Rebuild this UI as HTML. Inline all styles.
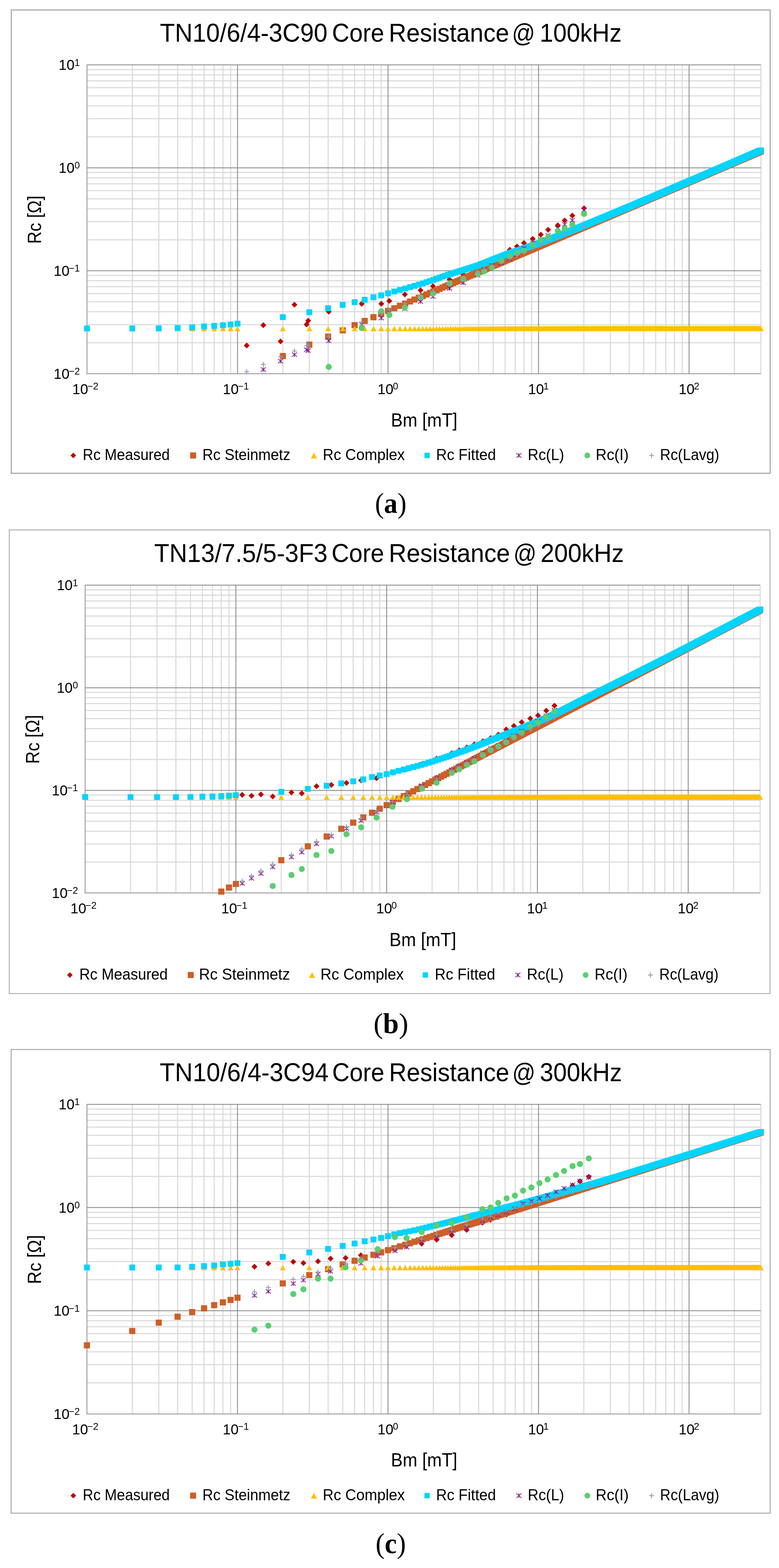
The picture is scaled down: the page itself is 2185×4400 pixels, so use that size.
<!DOCTYPE html><html><head><meta charset="utf-8"><style>html,body{margin:0;padding:0;background:#fff}svg{display:block}</style></head><body><svg width="2185" height="4400" viewBox="0 0 2185 4400" font-family='"Liberation Sans", Arial, sans-serif'>
<rect width="2185" height="4400" fill="#fff"/>
<rect x="31.7" y="28" width="2128.5" height="1300" fill="#fff" stroke="#8a8a8a" stroke-width="2.2"/>
<path d="M371.1 182V1048.8M445.4 182V1048.8M498.2 182V1048.8M539.1 182V1048.8M572.5 182V1048.8M600.8 182V1048.8M625.3 182V1048.8M646.9 182V1048.8M793.3 182V1048.8M867.6 182V1048.8M920.4 182V1048.8M961.3 182V1048.8M994.7 182V1048.8M1023 182V1048.8M1047.5 182V1048.8M1069.1 182V1048.8M1215.5 182V1048.8M1289.8 182V1048.8M1342.6 182V1048.8M1383.5 182V1048.8M1416.9 182V1048.8M1445.2 182V1048.8M1469.7 182V1048.8M1491.3 182V1048.8M1637.7 182V1048.8M1712 182V1048.8M1764.8 182V1048.8M1805.7 182V1048.8M1839.1 182V1048.8M1867.4 182V1048.8M1891.9 182V1048.8M1913.5 182V1048.8M2059.9 182V1048.8M2134.2 182V1048.8M244 961.8H2134.2M244 910.9H2134.2M244 874.8H2134.2M244 846.8H2134.2M244 823.9H2134.2M244 804.6H2134.2M244 787.8H2134.2M244 773.1H2134.2M244 672.9H2134.2M244 622H2134.2M244 585.9H2134.2M244 557.9H2134.2M244 535H2134.2M244 515.7H2134.2M244 498.9H2134.2M244 484.1H2134.2M244 383.9H2134.2M244 333.1H2134.2M244 297H2134.2M244 269H2134.2M244 246.1H2134.2M244 226.8H2134.2M244 210H2134.2M244 195.2H2134.2" stroke="#dadada" stroke-width="3" fill="none"/>
<path d="M666.2 182V1048.8M1088.4 182V1048.8M1510.6 182V1048.8M1932.8 182V1048.8M244 759.8H2134.2M244 470.9H2134.2M244 182H2134.2" stroke="#8f8f8f" stroke-width="2.5" fill="none"/>
<path d="M244 181V1048.8H2134.2" stroke="#9a9a9a" stroke-width="2.5" fill="none"/>
<text x="448.4" y="117.2" font-size="72" textLength="470.1" lengthAdjust="spacingAndGlyphs">TN10/6/4-3C90</text>
<text x="931.3" y="117.2" font-size="72" textLength="146.1" lengthAdjust="spacingAndGlyphs">Core</text>
<text x="1090.6" y="117.2" font-size="72" textLength="337.4" lengthAdjust="spacingAndGlyphs">Resistance</text>
<text x="1436.0" y="117.2" font-size="72" textLength="64.9" lengthAdjust="spacingAndGlyphs">@</text>
<text x="1514.1" y="117.2" font-size="72" textLength="229.5" lengthAdjust="spacingAndGlyphs">100kHz</text>
<text x="224" y="184.5" font-size="27" text-anchor="end">1</text>
<text x="209" y="196.2" font-size="40" text-anchor="end">10</text>
<text x="224" y="473.4" font-size="27" text-anchor="end">0</text>
<text x="209" y="485.1" font-size="40" text-anchor="end">10</text>
<text x="224" y="762.3" font-size="27" text-anchor="end">−1</text>
<text x="195" y="774" font-size="40" text-anchor="end">10</text>
<text x="224" y="1051.2" font-size="27" text-anchor="end">−2</text>
<text x="195" y="1063" font-size="40" text-anchor="end">10</text>
<text x="202.7" y="1106" font-size="40">10</text>
<text x="245.3" y="1093.2" font-size="27">−2</text>
<text x="624.9" y="1106" font-size="40">10</text>
<text x="667.5" y="1093.2" font-size="27">−1</text>
<text x="1059.1" y="1106" font-size="40">10</text>
<text x="1102" y="1093.2" font-size="27">0</text>
<text x="1481.3" y="1106" font-size="40">10</text>
<text x="1524.2" y="1093.2" font-size="27">1</text>
<text x="1903.5" y="1106" font-size="40">10</text>
<text x="1946.4" y="1093.2" font-size="27">2</text>
<text transform="translate(114.7 684.3) rotate(-90)" font-size="53" textLength="135.4" lengthAdjust="spacingAndGlyphs">Rc [Ω]</text>
<text x="1096.6" y="1196.8" font-size="53" textLength="186.5" lengthAdjust="spacingAndGlyphs">Bm [mT]</text>
<text x="232" y="1290.6" font-size="44" textLength="244.2" lengthAdjust="spacingAndGlyphs">Rc Measured</text>
<text x="567.8" y="1290.6" font-size="44" textLength="246.7" lengthAdjust="spacingAndGlyphs">Rc Steinmetz</text>
<text x="905.2" y="1290.6" font-size="44" textLength="230.3" lengthAdjust="spacingAndGlyphs">Rc Complex</text>
<text x="1223.2" y="1290.6" font-size="44" textLength="167.8" lengthAdjust="spacingAndGlyphs">Rc Fitted</text>
<text x="1480.2" y="1290.6" font-size="44" textLength="102.3" lengthAdjust="spacingAndGlyphs">Rc(L)</text>
<text x="1670.7" y="1290.6" font-size="44" textLength="92.8" lengthAdjust="spacingAndGlyphs">Rc(I)</text>
<text x="1851.3" y="1290.6" font-size="44" textLength="166.2" lengthAdjust="spacingAndGlyphs">Rc(Lavg)</text>
<text x="1051.7" y="1439" font-family='"Liberation Serif", "Times New Roman", serif' font-weight="bold" font-size="81" textLength="88.5" lengthAdjust="spacingAndGlyphs"><tspan font-weight="normal">(</tspan>a<tspan font-weight="normal">)</tspan></text>
<path d="M1299.5 761.6L1291.3 769.8L1299.5 778L1307.7 769.8ZM1252.8 784.5L1261 792.7L1269.2 784.5L1261 776.3ZM1206.3 803.3L1214.5 811.5L1222.7 803.3L1214.5 795.1ZM1171.3 814.5L1179.5 822.7L1187.7 814.5L1179.5 806.3ZM1127.3 826.3L1135.5 834.5L1143.7 826.3L1135.5 818.1ZM1083.8 844.5L1092 852.7L1100.2 844.5L1092 836.3ZM1006.3 852.5L1014.5 860.7L1022.7 852.5L1014.5 844.3ZM1069.5 844.3L1061.3 852.5L1069.5 860.7L1077.7 852.5ZM817.7 855L825.9 863.2L834.1 855L825.9 846.8ZM914 874.5L922.2 882.7L930.4 874.5L922.2 866.3ZM851.8 910.6L860 918.8L868.2 910.6L865.1 907.5L872.6 900L864.4 891.8L856.2 900L859.3 903.1ZM730.4 912.5L738.6 920.7L746.8 912.5L738.6 904.3ZM778.8 958L787 966.2L795.2 958L787 949.8ZM692 961.3L683.8 969.5L692 977.7L700.2 969.5ZM1630 584.4L1638.2 592.6L1646.4 584.4L1638.2 576.2ZM1597.1 605L1605.3 613.2L1613.5 605L1605.3 596.8ZM1575.7 618.8L1583.9 627L1592.1 618.8L1583.9 610.6ZM1556.4 632.3L1564.6 640.5L1572.8 632.3L1564.6 624.1ZM1529.2 644.8L1537.4 653L1545.6 644.8L1537.4 636.6ZM1508.8 658.4L1517 666.6L1525.2 658.4L1517 650.2ZM1486 670.3L1494.2 678.5L1502.4 670.3L1494.2 662.1ZM1461.4 682L1469.6 690.2L1477.8 682L1469.6 673.8ZM1441.9 691.6L1450.1 699.8L1458.3 691.6L1450.1 683.4ZM1421.7 700.8L1429.9 709L1438.1 700.8L1429.9 692.6ZM1397.7 719L1405.9 727.2L1414.1 719L1405.9 710.8ZM1371.6 730L1379.8 738.2L1388 730L1379.8 721.8ZM1350 738L1358.2 746.2L1366.4 738L1358.2 729.8ZM1332 745L1340.2 753.2L1348.4 745L1340.2 736.8Z" fill="#C00000"/>
<path d="M1592.7 643.8L1592.7 644.3L1591.6 644.3L1591.6 644.8L1590.5 644.8L1590.5 645.3L1589.3 645.3L1589.3 645.8L1588.2 645.8L1588.2 646.3L1587 646.3L1587 646.8L1585.9 646.8L1585.9 647.3L1584.7 647.3L1584.7 647.8L1583.5 647.8L1583.5 648.3L1582.4 648.3L1582.4 648.8L1581.2 648.8L1581.2 649.3L1580 649.3L1580 649.8L1578.8 649.8L1578.8 650.3L1577.6 650.3L1577.6 650.9L1576.3 650.9L1576.3 651.4L1575.1 651.4L1575.1 651.9L1573.9 651.9L1573.9 652.5L1572.6 652.5L1572.6 653L1571.4 653L1571.4 653.5L1570.1 653.5L1570.1 654.1L1568.9 654.1L1568.9 654.6L1567.6 654.6L1567.6 655.2L1566.3 655.2L1566.3 655.7L1565 655.7L1565 656.3L1563.7 656.3L1563.7 656.9L1562.4 656.9L1562.4 657.4L1561.1 657.4L1561.1 658L1559.7 658L1559.7 658.6L1558.4 658.6L1558.4 659.2L1557 659.2L1557 659.7L1555.7 659.7L1555.7 660.3L1554.3 660.3L1554.3 660.9L1552.9 660.9L1552.9 661.5L1551.5 661.5L1551.5 662.1L1550.1 662.1L1550.1 662.7L1548.7 662.7L1548.7 663.3L1547.3 663.3L1547.3 664L1545.8 664L1545.8 664.6L1544.4 664.6L1544.4 665.2L1542.9 665.2L1542.9 665.8L1541.4 665.8L1541.4 666.5L1540 666.5L1540 667.1L1538.5 667.1L1538.5 667.8L1537 667.8L1537 668.4L1535.4 668.4L1535.4 669.1L1533.9 669.1L1533.9 669.7L1532.3 669.7L1532.3 670.4L1530.8 670.4L1530.8 671.1L1529.2 671.1L1529.2 671.8L1527.6 671.8L1527.6 672.5L1526 672.5L1526 673.1L1524.4 673.1L1524.4 673.8L1522.8 673.8L1522.8 674.5L1521.1 674.5L1521.1 675.3L1519.5 675.3L1519.5 676L1517.8 676L1517.8 676.7L1516.1 676.7L1516.1 677.4L1514.4 677.4L1514.4 678.2L1512.7 678.2L1512.7 678.9L1510.9 678.9L1510.9 679.7L1509.2 679.7L1509.2 680.4L1507.4 680.4L1507.4 681.2L1505.6 681.2L1505.6 682L1503.8 682L1503.8 682.8L1502 682.8L1502 683.6L1500.2 683.6L1500.2 684.3L1498.3 684.3L1498.3 685.2L1496.4 685.2L1496.4 686L1494.5 686L1494.5 686.8L1492.6 686.8L1492.6 687.6L1490.7 687.6L1490.7 688.5L1488.7 688.5L1488.7 689.3L1486.7 689.3L1486.7 690.2L1484.7 690.2L1484.7 691L1482.7 691L1482.7 691.9L1480.6 691.9L1480.6 692.8L1478.6 692.8L1478.6 693.7L1476.5 693.7L1476.5 694.6L1474.3 694.6L1474.3 695.5L1472.2 695.5L1472.2 696.5L1470 696.5L1470 697.4L1467.8 697.4L1467.8 698.4L1465.6 698.4L1465.6 699.3L1463.4 699.3L1463.4 700.3L1461.1 700.3L1461.1 701.3L1458.8 701.3L1458.8 702.3L1456.4 702.3L1456.4 703.3L1454.1 703.3L1454.1 704.4L1451.7 704.4L1451.7 705.4L1449.3 705.4L1449.3 706.4L1446.8 706.4L1446.8 707.5L1444.3 707.5L1444.3 708.6L1441.8 708.6L1441.8 709.7L1439.2 709.7L1439.2 710.8L1436.6 710.8L1436.6 712L1434 712L1434 713.1L1431.3 713.1L1431.3 714.3L1428.6 714.3L1428.6 715.4L1425.8 715.4L1425.8 716.7L1423 716.7L1423 717.9L1420.2 717.9L1420.2 719.1L1417.3 719.1L1417.3 720.4L1414.3 720.4L1414.3 721.6L1411.4 721.6L1411.4 722.9L1408.3 722.9L1408.3 724.3L1405.3 724.3L1405.3 725.6L1402.1 725.6L1402.1 727L1398.9 727L1398.9 728.4L1395.7 728.4L1395.7 729.8L1392.4 729.8L1392.4 731.2L1389 731.2L1389 732.7L1385.6 732.7L1385.6 734.2L1382.1 734.2L1382.1 735.7L1378.5 735.7L1378.5 737.3L1374.9 737.3L1374.9 738.9L1371.2 738.9L1371.2 740.5L1367.4 740.5L1367.4 742.2L1363.6 742.2L1363.6 743.9L1359.6 743.9L1359.6 745.6L1355.6 745.6L1355.6 747.3L1351.5 747.3L1351.5 749.2L1347.3 749.2L1347.3 751L1342.9 751L1342.9 752.9L1338.5 752.9L1338.5 754.8L1334 754.8L1334 756.8L1329.3 756.8L1329.3 758.9L1324.6 758.9L1324.6 761L1319.7 761L1319.7 763.1L1314.7 763.1L1314.7 765.4L1309.5 765.4L1309.5 767.6L1304.2 767.6L1304.2 770L1298.7 770L1298.7 772.4L1293.1 772.4L1293.1 774.9L1287.3 774.9L1287.3 777.5L1281.2 777.5L1281.2 780.1L1275 780.1L1275 782.9L1268.6 782.9L1268.6 785.8L1261.9 785.8L1261.9 788.7L1255 788.7L1255 791.8L1247.8 791.8L1247.8 795L1240.3 795L1240.3 798.4L1232.5 798.4L1232.5 801.9L1224.4 801.9L1224.4 805.5L1215.8 805.5L1215.8 809.4L1206.9 809.4L1206.9 813.4L1197.5 813.4L1197.5 817.7L1187.6 817.7L1187.6 822.2L1177.1 822.2L1177.1 826.9L1166 826.9L1166 832L1154.1 832L1154.1 837.4L1141.5 837.4L1141.5 843.3L1127.9 843.3L1127.9 849.6L1113.2 849.6L1113.2 856.4L1097.3 856.4L1097.3 873.6L1114.5 873.6L1114.5 866.8L1130.4 866.8L1130.4 860.5L1145.1 860.5L1145.1 854.6L1158.7 854.6L1158.7 849.2L1171.3 849.2L1171.3 844.1L1183.2 844.1L1183.2 839.4L1194.3 839.4L1194.3 834.9L1204.8 834.9L1204.8 830.6L1214.7 830.6L1214.7 826.6L1224.1 826.6L1224.1 822.7L1233 822.7L1233 819.1L1241.6 819.1L1241.6 815.6L1249.7 815.6L1249.7 812.2L1257.5 812.2L1257.5 809L1265 809L1265 805.9L1272.2 805.9L1272.2 803L1279.1 803L1279.1 800.1L1285.8 800.1L1285.8 797.3L1292.2 797.3L1292.2 794.7L1298.4 794.7L1298.4 792.1L1304.5 792.1L1304.5 789.6L1310.3 789.6L1310.3 787.2L1315.9 787.2L1315.9 784.8L1321.4 784.8L1321.4 782.6L1326.7 782.6L1326.7 780.3L1331.9 780.3L1331.9 778.2L1336.9 778.2L1336.9 776.1L1341.8 776.1L1341.8 774L1346.5 774L1346.5 772L1351.2 772L1351.2 770.1L1355.7 770.1L1355.7 768.2L1360.1 768.2L1360.1 766.4L1364.5 766.4L1364.5 764.5L1368.7 764.5L1368.7 762.8L1372.8 762.8L1372.8 761.1L1376.8 761.1L1376.8 759.4L1380.8 759.4L1380.8 757.7L1384.6 757.7L1384.6 756.1L1388.4 756.1L1388.4 754.5L1392.1 754.5L1392.1 752.9L1395.7 752.9L1395.7 751.4L1399.3 751.4L1399.3 749.9L1402.8 749.9L1402.8 748.4L1406.2 748.4L1406.2 747L1409.6 747L1409.6 745.6L1412.9 745.6L1412.9 744.2L1416.1 744.2L1416.1 742.8L1419.3 742.8L1419.3 741.5L1422.5 741.5L1422.5 740.1L1425.5 740.1L1425.5 738.8L1428.6 738.8L1428.6 737.6L1431.5 737.6L1431.5 736.3L1434.5 736.3L1434.5 735.1L1437.4 735.1L1437.4 733.9L1440.2 733.9L1440.2 732.6L1443 732.6L1443 731.5L1445.8 731.5L1445.8 730.3L1448.5 730.3L1448.5 729.2L1451.2 729.2L1451.2 728L1453.8 728L1453.8 726.9L1456.4 726.9L1456.4 725.8L1459 725.8L1459 724.7L1461.5 724.7L1461.5 723.6L1464 723.6L1464 722.6L1466.5 722.6L1466.5 721.6L1468.9 721.6L1468.9 720.5L1471.3 720.5L1471.3 719.5L1473.6 719.5L1473.6 718.5L1476 718.5L1476 717.5L1478.3 717.5L1478.3 716.5L1480.6 716.5L1480.6 715.6L1482.8 715.6L1482.8 714.6L1485 714.6L1485 713.7L1487.2 713.7L1487.2 712.7L1489.4 712.7L1489.4 711.8L1491.5 711.8L1491.5 710.9L1493.7 710.9L1493.7 710L1495.8 710L1495.8 709.1L1497.8 709.1L1497.8 708.2L1499.9 708.2L1499.9 707.4L1501.9 707.4L1501.9 706.5L1503.9 706.5L1503.9 705.7L1505.9 705.7L1505.9 704.8L1507.9 704.8L1507.9 704L1509.8 704L1509.8 703.2L1511.7 703.2L1511.7 702.4L1513.6 702.4L1513.6 701.5L1515.5 701.5L1515.5 700.8L1517.4 700.8L1517.4 700L1519.2 700L1519.2 699.2L1521 699.2L1521 698.4L1522.8 698.4L1522.8 697.6L1524.6 697.6L1524.6 696.9L1526.4 696.9L1526.4 696.1L1528.1 696.1L1528.1 695.4L1529.9 695.4L1529.9 694.6L1531.6 694.6L1531.6 693.9L1533.3 693.9L1533.3 693.2L1535 693.2L1535 692.5L1536.7 692.5L1536.7 691.7L1538.3 691.7L1538.3 691L1540 691L1540 690.3L1541.6 690.3L1541.6 689.7L1543.2 689.7L1543.2 689L1544.8 689L1544.8 688.3L1546.4 688.3L1546.4 687.6L1548 687.6L1548 686.9L1549.5 686.9L1549.5 686.3L1551.1 686.3L1551.1 685.6L1552.6 685.6L1552.6 685L1554.2 685L1554.2 684.3L1555.7 684.3L1555.7 683.7L1557.2 683.7L1557.2 683L1558.6 683L1558.6 682.4L1560.1 682.4L1560.1 681.8L1561.6 681.8L1561.6 681.2L1563 681.2L1563 680.5L1564.5 680.5L1564.5 679.9L1565.9 679.9L1565.9 679.3L1567.3 679.3L1567.3 678.7L1568.7 678.7L1568.7 678.1L1570.1 678.1L1570.1 677.5L1571.5 677.5L1571.5 676.9L1572.9 676.9L1572.9 676.4L1574.2 676.4L1574.2 675.8L1575.6 675.8L1575.6 675.2L1576.9 675.2L1576.9 674.6L1578.3 674.6L1578.3 674.1L1579.6 674.1L1579.6 673.5L1580.9 673.5L1580.9 672.9L1582.2 672.9L1582.2 672.4L1583.5 672.4L1583.5 671.8L1584.8 671.8L1584.8 671.3L1586.1 671.3L1586.1 670.7L1587.3 670.7L1587.3 670.2L1588.6 670.2L1588.6 669.7L1589.8 669.7L1589.8 669.1L1591.1 669.1L1591.1 668.6L1592.3 668.6L1592.3 668.1L1593.5 668.1L1593.5 667.5L1594.8 667.5L1594.8 667L1596 667L1596 666.5L1597.2 666.5L1597.2 666L1598.4 666L1598.4 665.5L1599.6 665.5L1599.6 665L1600.7 665L1600.7 664.5L1601.9 664.5L1601.9 664L1603.1 664L1603.1 663.5L1604.2 663.5L1604.2 663L1605.4 663L1605.4 662.5L1606.5 662.5L1606.5 662L1607.7 662L1607.7 661.5L1608.8 661.5L1608.8 661L1609.9 661L1609.9 660.6L1611 660.6L1611 660.1L1612.1 660.1L1612.1 659.6L1613.2 659.6L1613.2 659.1L1614.3 659.1L1614.3 658.7L1615.4 658.7L1615.4 658.2L1616.5 658.2L1616.5 657.8L1617.6 657.8L1617.6 657.3L1618.6 657.3L1618.6 656.8L1619.7 656.8L1619.7 656.4L1620.8 656.4L1620.8 655.9L1621.8 655.9L1621.8 655.5L1622.9 655.5L1622.9 655L1623.9 655L1623.9 654.6L1624.9 654.6L1624.9 654.2L1626 654.2L1626 653.7L1627 653.7L1627 653.3L1628 653.3L1628 652.8L1629 652.8L1629 652.4L1630 652.4L1630 652L1631 652L1631 651.6L1632 651.6L1632 651.1L1633 651.1L1633 650.7L1634 650.7L1634 650.3L1634.9 650.3L1634.9 649.9L1635.9 649.9L1635.9 649.5L1636.9 649.5L1636.9 649.1L1637.9 649.1L1637.9 648.6L1638.8 648.6L1638.8 648.2L1639.8 648.2L1639.8 647.8L1640.7 647.8L1640.7 647.4L1641.7 647.4L1641.7 647L1642.6 647L1642.6 646.6L1643.5 646.6L1643.5 646.2L1644.5 646.2L1644.5 645.8L1645.4 645.8L1645.4 645.4L1646.3 645.4L1646.3 645L1647.2 645L1647.2 644.6L1648.1 644.6L1648.1 644.3L1649 644.3L1649 643.9L1649.9 643.9L1649.9 643.5L1650.8 643.5L1650.8 643.1L1651.7 643.1L1651.7 642.7L1652.6 642.7L1652.6 642.3L1653.5 642.3L1653.5 642L1654.4 642L1654.4 641.6L1655.2 641.6L1655.2 641.2L1656.1 641.2L1656.1 640.8L1657 640.8L1657 640.5L1657.8 640.5L1657.8 640.1L1658.7 640.1L1658.7 639.7L1659.6 639.7L1659.6 639.4L1660.4 639.4L1660.4 639L1661.3 639L1661.3 638.6L1662.1 638.6L1662.1 638.3L1662.9 638.3L1662.9 637.9L1663.8 637.9L1663.8 637.6L1664.6 637.6L1664.6 637.2L1665.4 637.2L1665.4 636.9L1666.3 636.9L1666.3 636.5L1667.1 636.5L1667.1 636.2L1667.9 636.2L1667.9 635.8L1668.7 635.8L1668.7 635.5L1669.5 635.5L1669.5 635.1L1670.3 635.1L1670.3 634.8L1671.1 634.8L1671.1 634.4L1671.9 634.4L1671.9 634.1L1672.7 634.1L1672.7 633.8L1673.5 633.8L1673.5 633.4L1674.3 633.4L1674.3 633.1L1675.1 633.1L1675.1 632.7L1675.9 632.7L1675.9 632.4L1676.6 632.4L1676.6 632.1L1677.4 632.1L1677.4 631.7L1678.2 631.7L1678.2 631.4L1679 631.4L1679 631.1L1679.7 631.1L1679.7 630.8L1680.5 630.8L1680.5 630.4L1681.2 630.4L1681.2 630.1L1682 630.1L1682 629.8L1682.8 629.8L1682.8 629.5L1683.5 629.5L1683.5 629.1L1684.3 629.1L1684.3 628.8L1685 628.8L1685 628.5L1685.7 628.5L1685.7 628.2L1686.5 628.2L1686.5 627.9L1687.2 627.9L1687.2 627.6L1687.9 627.6L1687.9 627.2L1688.7 627.2L1688.7 626.9L1689.4 626.9L1689.4 626.6L1690.1 626.6L1690.1 626.3L1690.8 626.3L1690.8 626L1691.6 626L1691.6 625.7L1692.3 625.7L1692.3 625.4L1693 625.4L1693 625.1L1693.7 625.1L1693.7 624.8L1694.4 624.8L1694.4 624.5L1695.1 624.5L1695.1 624.2L1695.8 624.2L1695.8 623.9L1696.5 623.9L1696.5 623.6L1697.2 623.6L1697.2 623.3L1697.9 623.3L1697.9 623L1698.6 623L1698.6 622.7L1699.3 622.7L1699.3 622.4L1700 622.4L1700 622.1L1700.6 622.1L1700.6 621.8L1701.3 621.8L1701.3 621.5L1702 621.5L1702 621.2L1702.7 621.2L1702.7 620.9L1703.3 620.9L1703.3 620.7L1704 620.7L1704 620.4L1704.7 620.4L1704.7 620.1L1705.4 620.1L1705.4 619.8L1706 619.8L1706 619.5L1706.7 619.5L1706.7 619.2L1707.3 619.2L1707.3 619L1708 619L1708 618.7L1708.6 618.7L1708.6 618.4L1709.3 618.4L1709.3 618.1L1709.9 618.1L1709.9 617.8L1710.6 617.8L1710.6 617.6L1711.2 617.6L1711.2 617.3L1711.9 617.3L1711.9 617L1712.5 617L1712.5 616.7L1713.2 616.7L1713.2 616.5L1713.8 616.5L2142.8 432.4L2142.8 415.2L2125.6 415.2L1696.6 599.3L1696.6 599.5L1696 599.5L1696 599.8L1695.3 599.8L1695.3 600.1L1694.7 600.1L1694.7 600.4L1694 600.4L1694 600.6L1693.4 600.6L1693.4 600.9L1692.7 600.9L1692.7 601.2L1692.1 601.2L1692.1 601.5L1691.4 601.5L1691.4 601.8L1690.8 601.8L1690.8 602L1690.1 602L1690.1 602.3L1689.5 602.3L1689.5 602.6L1688.8 602.6L1688.8 602.9L1688.2 602.9L1688.2 603.2L1687.5 603.2L1687.5 603.5L1686.8 603.5L1686.8 603.7L1686.1 603.7L1686.1 604L1685.5 604L1685.5 604.3L1684.8 604.3L1684.8 604.6L1684.1 604.6L1684.1 604.9L1683.4 604.9L1683.4 605.2L1682.8 605.2L1682.8 605.5L1682.1 605.5L1682.1 605.8L1681.4 605.8L1681.4 606.1L1680.7 606.1L1680.7 606.4L1680 606.4L1680 606.7L1679.3 606.7L1679.3 607L1678.6 607L1678.6 607.3L1677.9 607.3L1677.9 607.6L1677.2 607.6L1677.2 607.9L1676.5 607.9L1676.5 608.2L1675.8 608.2L1675.8 608.5L1675.1 608.5L1675.1 608.8L1674.4 608.8L1674.4 609.1L1673.6 609.1L1673.6 609.4L1672.9 609.4L1672.9 609.7L1672.2 609.7L1672.2 610L1671.5 610L1671.5 610.4L1670.7 610.4L1670.7 610.7L1670 610.7L1670 611L1669.3 611L1669.3 611.3L1668.5 611.3L1668.5 611.6L1667.8 611.6L1667.8 611.9L1667.1 611.9L1667.1 612.3L1666.3 612.3L1666.3 612.6L1665.6 612.6L1665.6 612.9L1664.8 612.9L1664.8 613.2L1664 613.2L1664 613.6L1663.3 613.6L1663.3 613.9L1662.5 613.9L1662.5 614.2L1661.8 614.2L1661.8 614.5L1661 614.5L1661 614.9L1660.2 614.9L1660.2 615.2L1659.4 615.2L1659.4 615.5L1658.7 615.5L1658.7 615.9L1657.9 615.9L1657.9 616.2L1657.1 616.2L1657.1 616.6L1656.3 616.6L1656.3 616.9L1655.5 616.9L1655.5 617.2L1654.7 617.2L1654.7 617.6L1653.9 617.6L1653.9 617.9L1653.1 617.9L1653.1 618.3L1652.3 618.3L1652.3 618.6L1651.5 618.6L1651.5 619L1650.7 619L1650.7 619.3L1649.9 619.3L1649.9 619.7L1649.1 619.7L1649.1 620L1648.2 620L1648.2 620.4L1647.4 620.4L1647.4 620.7L1646.6 620.7L1646.6 621.1L1645.7 621.1L1645.7 621.4L1644.9 621.4L1644.9 621.8L1644.1 621.8L1644.1 622.2L1643.2 622.2L1643.2 622.5L1642.4 622.5L1642.4 622.9L1641.5 622.9L1641.5 623.3L1640.6 623.3L1640.6 623.6L1639.8 623.6L1639.8 624L1638.9 624L1638.9 624.4L1638 624.4L1638 624.8L1637.2 624.8L1637.2 625.1L1636.3 625.1L1636.3 625.5L1635.4 625.5L1635.4 625.9L1634.5 625.9L1634.5 626.3L1633.6 626.3L1633.6 626.7L1632.7 626.7L1632.7 627.1L1631.8 627.1L1631.8 627.4L1630.9 627.4L1630.9 627.8L1630 627.8L1630 628.2L1629.1 628.2L1629.1 628.6L1628.2 628.6L1628.2 629L1627.3 629L1627.3 629.4L1626.3 629.4L1626.3 629.8L1625.4 629.8L1625.4 630.2L1624.5 630.2L1624.5 630.6L1623.5 630.6L1623.5 631L1622.6 631L1622.6 631.4L1621.6 631.4L1621.6 631.9L1620.7 631.9L1620.7 632.3L1619.7 632.3L1619.7 632.7L1618.7 632.7L1618.7 633.1L1617.7 633.1L1617.7 633.5L1616.8 633.5L1616.8 633.9L1615.8 633.9L1615.8 634.4L1614.8 634.4L1614.8 634.8L1613.8 634.8L1613.8 635.2L1612.8 635.2L1612.8 635.6L1611.8 635.6L1611.8 636.1L1610.8 636.1L1610.8 636.5L1609.8 636.5L1609.8 637L1608.8 637L1608.8 637.4L1607.7 637.4L1607.7 637.8L1606.7 637.8L1606.7 638.3L1605.7 638.3L1605.7 638.7L1604.6 638.7L1604.6 639.2L1603.6 639.2L1603.6 639.6L1602.5 639.6L1602.5 640.1L1601.4 640.1L1601.4 640.6L1600.4 640.6L1600.4 641L1599.3 641L1599.3 641.5L1598.2 641.5L1598.2 641.9L1597.1 641.9L1597.1 642.4L1596 642.4L1596 642.9L1594.9 642.9L1594.9 643.4L1593.8 643.4L1593.8 643.8ZM1097 863.9L1079.8 863.9L1079.8 881.1L1097 881.1ZM1077.7 872.2L1060.5 872.2L1060.5 889.4L1077.7 889.4ZM1056.1 898.7L1056.1 881.5L1038.9 881.5L1038.9 898.7ZM1031.6 892L1014.4 892L1014.4 909.2L1031.6 909.2ZM1003.3 904.1L986.1 904.1L986.1 921.3L1003.3 921.3ZM969.9 935.6L969.9 918.4L952.7 918.4L952.7 935.6ZM929 936L911.8 936L911.8 953.2L929 953.2ZM876.2 958.6L859 958.6L859 975.8L876.2 975.8ZM801.9 1007.7L801.9 990.5L784.7 990.5L784.7 1007.7Z" fill="#CD5F27"/>
<path d="M1516.9 916.3L1516 914.6L1515.1 916.3L1514.2 914.6L1513.3 916.3L1512.4 914.6L1511.5 916.3L1510.6 914.6L1509.7 916.3L1508.8 914.6L1507.8 916.3L1506.9 914.6L1506 916.4L1505 914.6L1504.1 916.4L1503.1 914.6L1502.2 916.4L1501.2 914.6L1500.2 916.4L1499.3 914.6L1498.3 916.4L1497.3 914.6L1496.3 916.5L1495.3 914.6L1494.3 916.5L1493.3 914.6L1492.3 916.5L1491.3 914.6L1490.3 916.5L1489.2 914.6L1488.2 916.5L1487.2 914.6L1486.1 916.6L1485.1 914.6L1484 916.6L1482.9 914.6L1481.9 916.6L1480.8 914.6L1479.7 916.6L1478.6 914.6L1477.5 916.7L1476.4 914.6L1475.3 916.7L1474.2 914.6L1473.1 916.7L1472 914.6L1470.8 916.7L1469.7 914.6L1468.5 916.8L1467.4 914.6L1466.2 916.8L1465 914.6L1463.9 916.8L1462.7 914.6L1461.5 916.8L1460.3 914.6L1459.1 916.9L1457.9 914.6L1456.6 916.9L1455.4 914.6L1454.1 916.9L1452.9 914.6L1451.6 917L1450.4 914.6L1449.1 917L1447.8 914.6L1446.5 917L1445.2 914.6L1443.9 917.1L1442.6 914.6L1441.2 917.1L1439.9 914.6L1438.5 917.1L1437.2 914.6L1435.8 917.2L1434.4 914.6L1433 917.2L1431.6 914.6L1430.2 917.3L1428.8 914.6L1427.3 917.3L1425.9 914.6L1424.4 917.4L1422.9 914.6L1421.5 917.4L1420 914.6L1418.5 917.4L1416.9 914.6L1415.4 917.5L1413.9 914.6L1412.3 917.5L1410.7 914.6L1409.1 917.6L1407.5 914.6L1405.9 917.6L1404.3 914.6L1402.6 917.7L1401 914.6L1399.3 917.8L1397.6 914.6L1395.9 917.8L1394.2 914.6L1392.4 917.9L1390.7 914.6L1388.9 917.9L1387.1 914.6L1385.3 918L1383.5 914.6L1381.7 918.1L1379.8 914.6L1377.9 918.1L1376 914.6L1374.1 918.2L1372.2 914.6L1370.2 918.3L1368.2 914.6L1366.2 918.4L1364.2 914.6L1362.1 918.5L1360.1 914.6L1358 918.6L1355.9 914.6L1353.7 918.6L1351.5 914.6L1349.3 918.7L1347.1 914.6L1344.9 918.8L1342.6 914.6L1340.3 919L1337.9 914.6L1335.6 919.1L1333.2 914.6L1330.7 919.2L1328.3 914.6L1325.8 919.3L1323.3 914.6L1320.7 919.4L1318.1 914.6L1315.4 919.6L1312.8 914.6L1310.1 919.7L1307.3 914.6L1304.5 919.9L1301.7 914.6L1298.8 920.1L1295.9 914.6L1292.8 920.2L1289.8 914.6L1286.7 920.4L1283.6 914.6L1280.4 920.6L1277.2 914.6L1273.9 920.9L1270.5 914.6L1267.1 921.1L1263.6 914.6L1260 921.3L1256.4 914.6L1252.7 921.6L1248.9 914.6L1245 921.9L1241.1 914.6L1237 922.2L1233 914.6L1228.7 922.6L1224.4 914.6L1220 923L1215.5 914.6L1210.8 923.4L1206.1 914.6L1201.1 923.9L1196.2 914.6L1190.9 924.4L1185.7 914.6L1180.1 925L1174.6 914.6L1168.7 925.7L1162.7 914.6L1156.4 926.5L1150.1 914.6L1143.3 927.3L1136.5 914.6L1129.2 928.4L1121.8 914.6L1113.9 929.6L1105.9 914.6L1097.9 929.6L2142.2 929.6L2134.2 914.6L1864.1 914.9L1864 914.6L1863.8 914.9L1863.7 914.6L1863.6 914.9L1863.4 914.6L1863.3 914.9L1863.2 914.6L1863 914.9L1862.9 914.6L1862.8 914.9L1862.6 914.6L1862.5 914.9L1862.4 914.6L1862.2 914.9L1862.1 914.6L1862 914.9L1861.8 914.6L1861.7 914.9L1861.5 914.6L1861.4 914.9L1861.3 914.6L1861.1 914.9L1861 914.6L1860.9 914.9L1860.7 914.6L1860.6 914.9L1860.5 914.6L1860.3 914.9L1860.2 914.6L1860.1 914.9L1859.9 914.6L1859.8 914.9L1859.6 914.6L1859.5 914.9L1859.4 914.6L1859.2 914.9L1859.1 914.6L1859 914.9L1858.8 914.6L1858.7 914.9L1858.5 914.6L1858.4 914.9L1858.3 914.6L1858.1 914.9L1858 914.6L1857.9 914.9L1857.7 914.6L1857.6 914.9L1857.4 914.6L1857.3 914.9L1857.2 914.6L1857 914.9L1856.9 914.6L1856.8 914.9L1856.6 914.6L1856.5 914.9L1856.3 914.6L1856.2 914.9L1856.1 914.6L1855.9 914.9L1855.8 914.6L1855.6 914.9L1855.5 914.6L1855.4 914.9L1855.2 914.6L1855.1 914.9L1854.9 914.6L1854.8 914.9L1854.7 914.6L1854.5 914.9L1854.4 914.6L1854.2 914.9L1854.1 914.6L1854 914.9L1853.8 914.6L1853.7 914.9L1853.5 914.6L1853.4 914.9L1853.2 914.6L1853.1 914.9L1853 914.6L1852.8 914.9L1852.7 914.6L1852.5 914.9L1852.4 914.6L1852.3 914.9L1852.1 914.6L1852 914.9L1851.8 914.6L1851.7 914.9L1851.5 914.6L1851.4 914.9L1851.3 914.6L1851.1 914.9L1851 914.6L1850.8 914.9L1850.7 914.6L1850.5 914.9L1850.4 914.6L1850.3 914.9L1850.1 914.6L1850 914.9L1849.8 914.6L1849.7 914.9L1849.5 914.6L1849.4 914.9L1849.2 914.6L1849.1 914.9L1849 914.6L1848.8 914.9L1848.7 914.6L1848.5 914.9L1848.4 914.6L1848.2 914.9L1848.1 914.6L1847.9 914.9L1847.8 914.6L1847.6 914.9L1847.5 914.6L1847.4 914.9L1847.2 914.6L1847.1 914.9L1846.9 914.6L1846.8 914.9L1846.6 914.6L1846.5 914.9L1846.3 914.6L1846.2 914.9L1846 914.6L1845.9 914.9L1845.7 914.6L1845.6 914.9L1845.4 914.6L1845.3 914.9L1845.1 914.6L1845 914.9L1844.9 914.6L1844.7 914.9L1844.6 914.6L1844.4 914.9L1844.3 914.6L1844.1 914.9L1844 914.6L1843.8 914.9L1843.7 914.6L1843.5 914.9L1843.4 914.6L1843.2 914.9L1843.1 914.6L1842.9 914.9L1842.8 914.6L1842.6 914.9L1842.5 914.6L1842.3 914.9L1842.2 914.6L1842 914.9L1841.9 914.6L1841.7 914.9L1841.6 914.6L1841.4 914.9L1841.3 914.6L1841.1 914.9L1841 914.6L1840.8 914.9L1840.7 914.6L1840.5 914.9L1840.4 914.6L1840.2 914.9L1840 914.6L1839.9 914.9L1839.7 914.6L1839.6 914.9L1839.4 914.6L1839.3 914.9L1839.1 914.6L1839 914.9L1838.8 914.6L1838.7 914.9L1838.5 914.6L1838.4 914.9L1838.2 914.6L1838.1 914.9L1837.9 914.6L1837.8 914.9L1837.6 914.6L1837.4 914.9L1837.3 914.6L1837.1 914.9L1837 914.6L1836.8 914.9L1836.7 914.6L1836.5 914.9L1836.4 914.6L1836.2 914.9L1836.1 914.6L1835.9 914.9L1835.7 914.6L1835.6 914.9L1835.4 914.6L1835.3 914.9L1835.1 914.6L1835 914.9L1834.8 914.6L1834.6 914.9L1834.5 914.6L1834.3 914.9L1834.2 914.6L1834 914.9L1833.9 914.6L1833.7 914.9L1833.6 914.6L1833.4 914.9L1833.2 914.6L1833.1 914.9L1832.9 914.6L1832.8 914.9L1832.6 914.6L1832.4 914.9L1832.3 914.6L1832.1 914.9L1832 914.6L1831.8 914.9L1831.7 914.6L1831.5 914.9L1831.3 914.6L1831.2 914.9L1831 914.6L1830.9 914.9L1830.7 914.6L1830.5 914.9L1830.4 914.6L1830.2 914.9L1830.1 914.6L1829.9 914.9L1829.7 914.6L1829.6 914.9L1829.4 914.6L1829.2 914.9L1829.1 914.6L1828.9 914.9L1828.8 914.6L1828.6 914.9L1828.4 914.6L1828.3 914.9L1828.1 914.6L1828 914.9L1827.8 914.6L1827.6 914.9L1827.5 914.6L1827.3 914.9L1827.1 914.6L1827 914.9L1826.8 914.6L1826.6 914.9L1826.5 914.6L1826.3 914.9L1826.2 914.6L1826 914.9L1825.8 914.6L1825.7 914.9L1825.5 914.6L1825.3 914.9L1825.2 914.6L1825 914.9L1824.8 914.6L1824.7 914.9L1824.5 914.6L1824.3 914.9L1824.2 914.6L1824 914.9L1823.8 914.6L1823.7 914.9L1823.5 914.6L1823.3 914.9L1823.2 914.6L1823 914.9L1822.8 914.6L1822.7 914.9L1822.5 914.6L1822.3 914.9L1822.2 914.6L1822 914.9L1821.8 914.6L1821.7 914.9L1821.5 914.6L1821.3 914.9L1821.2 914.6L1821 914.9L1820.8 914.6L1820.7 914.9L1820.5 914.6L1820.3 914.9L1820.2 914.6L1820 914.9L1819.8 914.6L1819.6 914.9L1819.5 914.6L1819.3 914.9L1819.1 914.6L1819 914.9L1818.8 914.6L1818.6 914.9L1818.5 914.6L1818.3 914.9L1818.1 914.6L1817.9 914.9L1817.8 914.6L1817.6 914.9L1817.4 914.6L1817.3 914.9L1817.1 914.6L1816.9 914.9L1816.7 914.6L1816.6 914.9L1816.4 914.6L1816.2 914.9L1816 914.6L1815.9 914.9L1815.7 914.6L1815.5 914.9L1815.3 914.6L1815.2 914.9L1815 914.6L1814.8 914.9L1814.7 914.6L1814.5 914.9L1814.3 914.6L1814.1 914.9L1814 914.6L1813.8 914.9L1813.6 914.6L1813.4 914.9L1813.2 914.6L1813.1 914.9L1812.9 914.6L1812.7 914.9L1812.5 914.6L1812.4 914.9L1812.2 914.6L1812 914.9L1811.8 914.6L1811.7 914.9L1811.5 914.6L1811.3 914.9L1811.1 914.6L1810.9 914.9L1810.8 914.6L1810.6 914.9L1810.4 914.6L1810.2 914.9L1810.1 914.6L1809.9 914.9L1809.7 914.6L1809.5 914.9L1809.3 914.6L1809.2 914.9L1809 914.6L1808.8 914.9L1808.6 914.6L1808.4 914.9L1808.3 914.6L1808.1 914.9L1807.9 914.6L1807.7 914.9L1807.5 914.6L1807.3 914.9L1807.2 914.6L1807 914.9L1806.8 914.6L1806.6 914.9L1806.4 914.6L1806.3 914.9L1806.1 914.6L1805.9 914.9L1805.7 914.6L1805.5 914.9L1805.3 914.6L1805.2 914.9L1805 914.6L1804.8 914.9L1804.6 914.6L1804.4 914.9L1804.2 914.6L1804 914.9L1803.9 914.6L1803.7 914.9L1803.5 914.6L1803.3 914.9L1803.1 914.6L1802.9 914.9L1802.7 914.6L1802.6 914.9L1802.4 914.6L1802.2 915L1802 914.6L1801.8 915L1801.6 914.6L1801.4 915L1801.3 914.6L1801.1 915L1800.9 914.6L1800.7 915L1800.5 914.6L1800.3 915L1800.1 914.6L1799.9 915L1799.7 914.6L1799.6 915L1799.4 914.6L1799.2 915L1799 914.6L1798.8 915L1798.6 914.6L1798.4 915L1798.2 914.6L1798 915L1797.8 914.6L1797.6 915L1797.5 914.6L1797.3 915L1797.1 914.6L1796.9 915L1796.7 914.6L1796.5 915L1796.3 914.6L1796.1 915L1795.9 914.6L1795.7 915L1795.5 914.6L1795.3 915L1795.1 914.6L1794.9 915L1794.7 914.6L1794.6 915L1794.4 914.6L1794.2 915L1794 914.6L1793.8 915L1793.6 914.6L1793.4 915L1793.2 914.6L1793 915L1792.8 914.6L1792.6 915L1792.4 914.6L1792.2 915L1792 914.6L1791.8 915L1791.6 914.6L1791.4 915L1791.2 914.6L1791 915L1790.8 914.6L1790.6 915L1790.4 914.6L1790.2 915L1790 914.6L1789.8 915L1789.6 914.6L1789.4 915L1789.2 914.6L1789 915L1788.8 914.6L1788.6 915L1788.4 914.6L1788.2 915L1788 914.6L1787.8 915L1787.6 914.6L1787.4 915L1787.2 914.6L1787 915L1786.8 914.6L1786.6 915L1786.4 914.6L1786.2 915L1786 914.6L1785.8 915L1785.6 914.6L1785.4 915L1785.2 914.6L1785 915L1784.7 914.6L1784.5 915L1784.3 914.6L1784.1 915L1783.9 914.6L1783.7 915L1783.5 914.6L1783.3 915L1783.1 914.6L1782.9 915L1782.7 914.6L1782.5 915L1782.3 914.6L1782.1 915L1781.8 914.6L1781.6 915L1781.4 914.6L1781.2 915L1781 914.6L1780.8 915L1780.6 914.6L1780.4 915L1780.2 914.6L1780 915L1779.7 914.6L1779.5 915L1779.3 914.6L1779.1 915L1778.9 914.6L1778.7 915L1778.5 914.6L1778.3 915L1778.1 914.6L1777.8 915L1777.6 914.6L1777.4 915L1777.2 914.6L1777 915L1776.8 914.6L1776.6 915L1776.3 914.6L1776.1 915L1775.9 914.6L1775.7 915L1775.5 914.6L1775.3 915L1775 914.6L1774.8 915L1774.6 914.6L1774.4 915L1774.2 914.6L1774 915L1773.7 914.6L1773.5 915L1773.3 914.6L1773.1 915L1772.9 914.6L1772.6 915L1772.4 914.6L1772.2 915L1772 914.6L1771.8 915L1771.5 914.6L1771.3 915L1771.1 914.6L1770.9 915L1770.7 914.6L1770.4 915L1770.2 914.6L1770 915L1769.8 914.6L1769.5 915L1769.3 914.6L1769.1 915L1768.9 914.6L1768.6 915L1768.4 914.6L1768.2 915L1768 914.6L1767.7 915L1767.5 914.6L1767.3 915L1767.1 914.6L1766.8 915L1766.6 914.6L1766.4 915L1766.2 914.6L1765.9 915L1765.7 914.6L1765.5 915L1765.2 914.6L1765 915L1764.8 914.6L1764.6 915L1764.3 914.6L1764.1 915L1763.9 914.6L1763.6 915L1763.4 914.6L1763.2 915L1762.9 914.6L1762.7 915L1762.5 914.6L1762.3 915L1762 914.6L1761.8 915L1761.6 914.6L1761.3 915L1761.1 914.6L1760.9 915L1760.6 914.6L1760.4 915L1760.1 914.6L1759.9 915L1759.7 914.6L1759.4 915L1759.2 914.6L1759 915L1758.7 914.6L1758.5 915L1758.3 914.6L1758 915L1757.8 914.6L1757.5 915L1757.3 914.6L1757.1 915L1756.8 914.6L1756.6 915L1756.3 914.6L1756.1 915.1L1755.9 914.6L1755.6 915.1L1755.4 914.6L1755.1 915.1L1754.9 914.6L1754.7 915.1L1754.4 914.6L1754.2 915.1L1753.9 914.6L1753.7 915.1L1753.4 914.6L1753.2 915.1L1753 914.6L1752.7 915.1L1752.5 914.6L1752.2 915.1L1752 914.6L1751.7 915.1L1751.5 914.6L1751.2 915.1L1751 914.6L1750.7 915.1L1750.5 914.6L1750.2 915.1L1750 914.6L1749.7 915.1L1749.5 914.6L1749.3 915.1L1749 914.6L1748.8 915.1L1748.5 914.6L1748.3 915.1L1748 914.6L1747.7 915.1L1747.5 914.6L1747.2 915.1L1747 914.6L1746.7 915.1L1746.5 914.6L1746.2 915.1L1746 914.6L1745.7 915.1L1745.5 914.6L1745.2 915.1L1745 914.6L1744.7 915.1L1744.4 914.6L1744.2 915.1L1743.9 914.6L1743.7 915.1L1743.4 914.6L1743.2 915.1L1742.9 914.6L1742.6 915.1L1742.4 914.6L1742.1 915.1L1741.9 914.6L1741.6 915.1L1741.4 914.6L1741.1 915.1L1740.8 914.6L1740.6 915.1L1740.3 914.6L1740 915.1L1739.8 914.6L1739.5 915.1L1739.3 914.6L1739 915.1L1738.7 914.6L1738.5 915.1L1738.2 914.6L1737.9 915.1L1737.7 914.6L1737.4 915.1L1737.1 914.6L1736.9 915.1L1736.6 914.6L1736.3 915.1L1736.1 914.6L1735.8 915.1L1735.5 914.6L1735.3 915.1L1735 914.6L1734.7 915.1L1734.5 914.6L1734.2 915.1L1733.9 914.6L1733.6 915.1L1733.4 914.6L1733.1 915.1L1732.8 914.6L1732.5 915.1L1732.3 914.6L1732 915.1L1731.7 914.6L1731.5 915.1L1731.2 914.6L1730.9 915.1L1730.6 914.6L1730.3 915.1L1730.1 914.6L1729.8 915.1L1729.5 914.6L1729.2 915.1L1729 914.6L1728.7 915.1L1728.4 914.6L1728.1 915.1L1727.8 914.6L1727.6 915.1L1727.3 914.6L1727 915.1L1726.7 914.6L1726.4 915.1L1726.2 914.6L1725.9 915.1L1725.6 914.6L1725.3 915.1L1725 914.6L1724.7 915.1L1724.4 914.6L1724.2 915.1L1723.9 914.6L1723.6 915.1L1723.3 914.6L1723 915.1L1722.7 914.6L1722.4 915.1L1722.1 914.6L1721.9 915.1L1721.6 914.6L1721.3 915.1L1721 914.6L1720.7 915.1L1720.4 914.6L1720.1 915.1L1719.8 914.6L1719.5 915.2L1719.2 914.6L1718.9 915.2L1718.6 914.6L1718.3 915.2L1718.1 914.6L1717.8 915.2L1717.5 914.6L1717.2 915.2L1716.9 914.6L1716.6 915.2L1716.3 914.6L1716 915.2L1715.7 914.6L1715.4 915.2L1715.1 914.6L1714.8 915.2L1714.5 914.6L1714.2 915.2L1713.9 914.6L1713.6 915.2L1713.3 914.6L1713 915.2L1712.7 914.6L1712.3 915.2L1712 914.6L1711.7 915.2L1711.4 914.6L1711.1 915.2L1710.8 914.6L1710.5 915.2L1710.2 914.6L1709.9 915.2L1709.6 914.6L1709.3 915.2L1709 914.6L1708.6 915.2L1708.3 914.6L1708 915.2L1707.7 914.6L1707.4 915.2L1707.1 914.6L1706.8 915.2L1706.5 914.6L1706.1 915.2L1705.8 914.6L1705.5 915.2L1705.2 914.6L1704.9 915.2L1704.6 914.6L1704.2 915.2L1703.9 914.6L1703.6 915.2L1703.3 914.6L1703 915.2L1702.6 914.6L1702.3 915.2L1702 914.6L1701.7 915.2L1701.3 914.6L1701 915.2L1700.7 914.6L1700.4 915.2L1700 914.6L1699.7 915.2L1699.4 914.6L1699.1 915.2L1698.7 914.6L1698.4 915.2L1698.1 914.6L1697.7 915.2L1697.4 914.6L1697.1 915.2L1696.8 914.6L1696.4 915.2L1696.1 914.6L1695.8 915.2L1695.4 914.6L1695.1 915.2L1694.7 914.6L1694.4 915.2L1694.1 914.6L1693.7 915.2L1693.4 914.6L1693.1 915.2L1692.7 914.6L1692.4 915.2L1692 914.6L1691.7 915.2L1691.4 914.6L1691 915.2L1690.7 914.6L1690.3 915.2L1690 914.6L1689.6 915.2L1689.3 914.6L1688.9 915.2L1688.6 914.6L1688.3 915.3L1687.9 914.6L1687.6 915.3L1687.2 914.6L1686.9 915.3L1686.5 914.6L1686.2 915.3L1685.8 914.6L1685.4 915.3L1685.1 914.6L1684.7 915.3L1684.4 914.6L1684 915.3L1683.7 914.6L1683.3 915.3L1683 914.6L1682.6 915.3L1682.2 914.6L1681.9 915.3L1681.5 914.6L1681.2 915.3L1680.8 914.6L1680.4 915.3L1680.1 914.6L1679.7 915.3L1679.3 914.6L1679 915.3L1678.6 914.6L1678.2 915.3L1677.9 914.6L1677.5 915.3L1677.1 914.6L1676.8 915.3L1676.4 914.6L1676 915.3L1675.7 914.6L1675.3 915.3L1674.9 914.6L1674.5 915.3L1674.2 914.6L1673.8 915.3L1673.4 914.6L1673 915.3L1672.6 914.6L1672.3 915.3L1671.9 914.6L1671.5 915.3L1671.1 914.6L1670.7 915.3L1670.4 914.6L1670 915.3L1669.6 914.6L1669.2 915.3L1668.8 914.6L1668.4 915.3L1668 914.6L1667.7 915.3L1667.3 914.6L1666.9 915.3L1666.5 914.6L1666.1 915.3L1665.7 914.6L1665.3 915.3L1664.9 914.6L1664.5 915.3L1664.1 914.6L1663.7 915.3L1663.3 914.6L1662.9 915.3L1662.5 914.6L1662.1 915.4L1661.7 914.6L1661.3 915.4L1660.9 914.6L1660.5 915.4L1660.1 914.6L1659.7 915.4L1659.3 914.6L1658.9 915.4L1658.5 914.6L1658.1 915.4L1657.7 914.6L1657.2 915.4L1656.8 914.6L1656.4 915.4L1656 914.6L1655.6 915.4L1655.2 914.6L1654.8 915.4L1654.3 914.6L1653.9 915.4L1653.5 914.6L1653.1 915.4L1652.7 914.6L1652.2 915.4L1651.8 914.6L1651.4 915.4L1651 914.6L1650.5 915.4L1650.1 914.6L1649.7 915.4L1649.2 914.6L1648.8 915.4L1648.4 914.6L1647.9 915.4L1647.5 914.6L1647.1 915.4L1646.6 914.6L1646.2 915.4L1645.8 914.6L1645.3 915.4L1644.9 914.6L1644.4 915.4L1644 914.6L1643.6 915.4L1643.1 914.6L1642.7 915.4L1642.2 914.6L1641.8 915.4L1641.3 914.6L1640.9 915.4L1640.4 914.6L1640 915.4L1639.5 914.6L1639.1 915.5L1638.6 914.6L1638.2 915.5L1637.7 914.6L1637.2 915.5L1636.8 914.6L1636.3 915.5L1635.9 914.6L1635.4 915.5L1634.9 914.6L1634.5 915.5L1634 914.6L1633.5 915.5L1633.1 914.6L1632.6 915.5L1632.1 914.6L1631.6 915.5L1631.2 914.6L1630.7 915.5L1630.2 914.6L1629.7 915.5L1629.3 914.6L1628.8 915.5L1628.3 914.6L1627.8 915.5L1627.3 914.6L1626.8 915.5L1626.3 914.6L1625.9 915.5L1625.4 914.6L1624.9 915.5L1624.4 914.6L1623.9 915.5L1623.4 914.6L1622.9 915.5L1622.4 914.6L1621.9 915.5L1621.4 914.6L1620.9 915.5L1620.4 914.6L1619.9 915.5L1619.4 914.6L1618.9 915.6L1618.4 914.6L1617.9 915.6L1617.4 914.6L1616.8 915.6L1616.3 914.6L1615.8 915.6L1615.3 914.6L1614.8 915.6L1614.3 914.6L1613.7 915.6L1613.2 914.6L1612.7 915.6L1612.2 914.6L1611.6 915.6L1611.1 914.6L1610.6 915.6L1610 914.6L1609.5 915.6L1609 914.6L1608.4 915.6L1607.9 914.6L1607.4 915.6L1606.8 914.6L1606.3 915.6L1605.7 914.6L1605.2 915.6L1604.6 914.6L1604.1 915.6L1603.5 914.6L1603 915.6L1602.4 914.6L1601.9 915.6L1601.3 914.6L1600.7 915.7L1600.2 914.6L1599.6 915.7L1599.1 914.6L1598.5 915.7L1597.9 914.6L1597.4 915.7L1596.8 914.6L1596.2 915.7L1595.6 914.6L1595.1 915.7L1594.5 914.6L1593.9 915.7L1593.3 914.6L1592.7 915.7L1592.1 914.6L1591.5 915.7L1591 914.6L1590.4 915.7L1589.8 914.6L1589.2 915.7L1588.6 914.6L1588 915.7L1587.4 914.6L1586.8 915.7L1586.2 914.6L1585.6 915.7L1584.9 914.6L1584.3 915.7L1583.7 914.6L1583.1 915.8L1582.5 914.6L1581.9 915.8L1581.2 914.6L1580.6 915.8L1580 914.6L1579.4 915.8L1578.7 914.6L1578.1 915.8L1577.5 914.6L1576.8 915.8L1576.2 914.6L1575.5 915.8L1574.9 914.6L1574.2 915.8L1573.6 914.6L1572.9 915.8L1572.3 914.6L1571.6 915.8L1571 914.6L1570.3 915.8L1569.7 914.6L1569 915.9L1568.3 914.6L1567.7 915.9L1567 914.6L1566.3 915.9L1565.6 914.6L1564.9 915.9L1564.3 914.6L1563.6 915.9L1562.9 914.6L1562.2 915.9L1561.5 914.6L1560.8 915.9L1560.1 914.6L1559.4 915.9L1558.7 914.6L1558 915.9L1557.3 914.6L1556.6 915.9L1555.9 914.6L1555.1 915.9L1554.4 914.6L1553.7 916L1553 914.6L1552.2 916L1551.5 914.6L1550.8 916L1550 914.6L1549.3 916L1548.6 914.6L1547.8 916L1547.1 914.6L1546.3 916L1545.6 914.6L1544.8 916L1544 914.6L1543.3 916L1542.5 914.6L1541.7 916.1L1540.9 914.6L1540.2 916.1L1539.4 914.6L1538.6 916.1L1537.8 914.6L1537 916.1L1536.2 914.6L1535.4 916.1L1534.6 914.6L1533.8 916.1L1533 914.6L1532.2 916.1L1531.4 914.6L1530.6 916.1L1529.7 914.6L1528.9 916.2L1528.1 914.6L1527.2 916.2L1526.4 914.6L1525.6 916.2L1524.7 914.6L1523.9 916.2L1523 914.6L1522.1 916.2L1521.3 914.6L1520.4 916.2L1519.5 914.6L1518.7 916.2L1517.8 914.6ZM867.6 914.6L859.6 929.6L875.6 929.6ZM363.1 929.6L379.1 929.6L371.1 914.6ZM437.4 929.6L453.4 929.6L445.4 914.6ZM498.2 914.6L490.2 929.6L506.2 929.6ZM531.1 929.6L547.1 929.6L539.1 914.6ZM564.5 929.6L580.5 929.6L572.5 914.6ZM600.8 914.6L592.8 929.6L608.8 929.6ZM617.3 929.6L633.3 929.6L625.3 914.6ZM638.9 929.6L654.9 929.6L646.9 914.6ZM666.2 914.6L658.2 929.6L674.2 929.6ZM785.3 929.6L801.3 929.6L793.3 914.6ZM920.4 914.6L912.4 929.6L928.4 929.6ZM953.3 929.6L969.3 929.6L961.3 914.6ZM986.7 929.6L1002.7 929.6L994.7 914.6ZM1023 914.6L1015 929.6L1031 929.6ZM1039.5 929.6L1055.5 929.6L1047.5 914.6ZM1061.1 929.6L1077.1 929.6L1069.1 914.6ZM1088.4 914.6L1080.4 929.6L1096.4 929.6ZM244 914.6L236 929.6L252 929.6Z" fill="#FFC000"/>
<path d="M1582.8 643.8L1582.8 644.2L1581.6 644.2L1581.6 644.7L1580.4 644.7L1580.4 645.2L1579.2 645.2L1579.2 645.7L1578 645.7L1578 646.1L1576.7 646.1L1576.7 646.6L1575.5 646.6L1575.5 647.1L1574.3 647.1L1574.3 647.6L1573 647.6L1573 648.1L1571.8 648.1L1571.8 648.6L1570.5 648.6L1570.5 649.1L1569.3 649.1L1569.3 649.6L1568 649.6L1568 650.1L1566.7 650.1L1566.7 650.6L1565.4 650.6L1565.4 651.1L1564.1 651.1L1564.1 651.6L1562.8 651.6L1562.8 652.2L1561.5 652.2L1561.5 652.7L1560.1 652.7L1560.1 653.2L1558.8 653.2L1558.8 653.7L1557.4 653.7L1557.4 654.3L1556.1 654.3L1556.1 654.8L1554.7 654.8L1554.7 655.4L1553.3 655.4L1553.3 655.9L1551.9 655.9L1551.9 656.4L1550.5 656.4L1550.5 657L1549.1 657L1549.1 657.6L1547.7 657.6L1547.7 658.1L1546.2 658.1L1546.2 658.7L1544.8 658.7L1544.8 659.2L1543.3 659.2L1543.3 659.8L1541.8 659.8L1541.8 660.4L1540.4 660.4L1540.4 661L1538.9 661L1538.9 661.6L1537.4 661.6L1537.4 662.1L1535.8 662.1L1535.8 662.7L1534.3 662.7L1534.3 663.3L1532.7 663.3L1532.7 663.9L1531.2 663.9L1531.2 664.5L1529.6 664.5L1529.6 665.1L1528 665.1L1528 665.7L1526.4 665.7L1526.4 666.4L1524.8 666.4L1524.8 667L1523.2 667L1523.2 667.6L1521.5 667.6L1521.5 668.2L1519.9 668.2L1519.9 668.9L1518.2 668.9L1518.2 669.5L1516.5 669.5L1516.5 670.1L1514.8 670.1L1514.8 670.8L1513.1 670.8L1513.1 671.4L1511.3 671.4L1511.3 672.1L1509.6 672.1L1509.6 672.7L1507.8 672.7L1507.8 673.4L1506 673.4L1506 674.1L1504.2 674.1L1504.2 674.7L1502.4 674.7L1502.4 675.4L1500.6 675.4L1500.6 676.1L1498.7 676.1L1498.7 676.8L1496.8 676.8L1496.8 677.5L1494.9 677.5L1494.9 678.2L1493 678.2L1493 678.9L1491.1 678.9L1491.1 679.6L1489.1 679.6L1489.1 680.3L1487.1 680.3L1487.1 681L1485.1 681L1485.1 681.7L1483.1 681.7L1483.1 682.4L1481 682.4L1481 683.1L1479 683.1L1479 683.8L1476.9 683.8L1476.9 684.5L1474.7 684.5L1474.7 685.3L1472.6 685.3L1472.6 686L1470.4 686L1470.4 686.7L1468.2 686.7L1468.2 687.5L1466 687.5L1466 688.2L1463.8 688.2L1463.8 689L1461.5 689L1461.5 689.7L1459.2 689.7L1459.2 690.5L1456.8 690.5L1456.8 691.3L1454.5 691.3L1454.5 692.1L1452.1 692.1L1452.1 692.9L1449.7 692.9L1449.7 693.7L1447.2 693.7L1447.2 694.5L1444.7 694.5L1444.7 695.4L1442.2 695.4L1442.2 696.2L1439.6 696.2L1439.6 697.1L1437 697.1L1437 698L1434.4 698L1434.4 698.9L1431.7 698.9L1431.7 699.8L1429 699.8L1429 700.7L1426.2 700.7L1426.2 701.7L1423.4 701.7L1423.4 702.7L1420.6 702.7L1420.6 703.7L1417.7 703.7L1417.7 704.7L1414.7 704.7L1414.7 705.8L1411.8 705.8L1411.8 706.9L1408.7 706.9L1408.7 708.1L1405.7 708.1L1405.7 709.3L1402.5 709.3L1402.5 710.5L1399.3 710.5L1399.3 711.7L1396.1 711.7L1396.1 713L1392.8 713L1392.8 714.4L1389.4 714.4L1389.4 715.7L1386 715.7L1386 717.1L1382.5 717.1L1382.5 718.6L1378.9 718.6L1378.9 720L1375.3 720L1375.3 721.5L1371.6 721.5L1371.6 723.1L1367.8 723.1L1367.8 724.6L1364 724.6L1364 726.2L1360 726.2L1360 727.8L1356 727.8L1356 729.4L1351.9 729.4L1351.9 731L1347.7 731L1347.7 732.6L1343.3 732.6L1343.3 734.3L1338.9 734.3L1338.9 735.9L1334.4 735.9L1334.4 737.5L1329.7 737.5L1329.7 739.1L1325 739.1L1325 740.7L1320.1 740.7L1320.1 742.3L1315.1 742.3L1315.1 744L1309.9 744L1309.9 745.6L1304.6 745.6L1304.6 747.3L1299.1 747.3L1299.1 749L1293.5 749L1293.5 750.7L1287.7 750.7L1287.7 752.6L1281.6 752.6L1281.6 754.4L1275.4 754.4L1275.4 756.4L1269 756.4L1269 758.4L1262.3 758.4L1262.3 760.6L1255.4 760.6L1255.4 763L1248.2 763L1248.2 765.5L1240.7 765.5L1240.7 768.2L1232.9 768.2L1232.9 771L1224.8 771L1224.8 774L1216.2 774L1216.2 777.2L1207.3 777.2L1207.3 780.4L1197.9 780.4L1197.9 783.8L1188 783.8L1188 787.2L1177.5 787.2L1177.5 790.6L1166.4 790.6L1166.4 794.1L1154.5 794.1L1154.5 797.6L1141.9 797.6L1141.9 801.4L1128.3 801.4L1128.3 805.4L1113.6 805.4L1113.6 809.8L1097.7 809.8L1097.7 826.2L1114.1 826.2L1114.1 821.8L1130 821.8L1130 817.8L1144.7 817.8L1144.7 814L1158.3 814L1158.3 810.5L1170.9 810.5L1170.9 807L1182.8 807L1182.8 803.6L1193.9 803.6L1193.9 800.2L1204.4 800.2L1204.4 796.8L1214.3 796.8L1214.3 793.6L1223.7 793.6L1223.7 790.4L1232.6 790.4L1232.6 787.4L1241.2 787.4L1241.2 784.6L1249.3 784.6L1249.3 781.9L1257.1 781.9L1257.1 779.4L1264.6 779.4L1264.6 777L1271.8 777L1271.8 774.8L1278.7 774.8L1278.7 772.8L1285.4 772.8L1285.4 770.8L1291.8 770.8L1291.8 769L1298 769L1298 767.1L1304.1 767.1L1304.1 765.4L1309.9 765.4L1309.9 763.7L1315.5 763.7L1315.5 762L1321 762L1321 760.4L1326.3 760.4L1326.3 758.7L1331.5 758.7L1331.5 757.1L1336.5 757.1L1336.5 755.5L1341.4 755.5L1341.4 753.9L1346.1 753.9L1346.1 752.3L1350.8 752.3L1350.8 750.7L1355.3 750.7L1355.3 749L1359.7 749L1359.7 747.4L1364.1 747.4L1364.1 745.8L1368.3 745.8L1368.3 744.2L1372.4 744.2L1372.4 742.6L1376.4 742.6L1376.4 741L1380.4 741L1380.4 739.5L1384.2 739.5L1384.2 737.9L1388 737.9L1388 736.4L1391.7 736.4L1391.7 735L1395.3 735L1395.3 733.5L1398.9 733.5L1398.9 732.1L1402.4 732.1L1402.4 730.8L1405.8 730.8L1405.8 729.4L1409.2 729.4L1409.2 728.1L1412.5 728.1L1412.5 726.9L1415.7 726.9L1415.7 725.7L1418.9 725.7L1418.9 724.5L1422.1 724.5L1422.1 723.3L1425.1 723.3L1425.1 722.2L1428.2 722.2L1428.2 721.1L1431.1 721.1L1431.1 720.1L1434.1 720.1L1434.1 719.1L1437 719.1L1437 718.1L1439.8 718.1L1439.8 717.1L1442.6 717.1L1442.6 716.2L1445.4 716.2L1445.4 715.3L1448.1 715.3L1448.1 714.4L1450.8 714.4L1450.8 713.5L1453.4 713.5L1453.4 712.6L1456 712.6L1456 711.8L1458.6 711.8L1458.6 710.9L1461.1 710.9L1461.1 710.1L1463.6 710.1L1463.6 709.3L1466.1 709.3L1466.1 708.5L1468.5 708.5L1468.5 707.7L1470.9 707.7L1470.9 706.9L1473.2 706.9L1473.2 706.1L1475.6 706.1L1475.6 705.4L1477.9 705.4L1477.9 704.6L1480.2 704.6L1480.2 703.9L1482.4 703.9L1482.4 703.1L1484.6 703.1L1484.6 702.4L1486.8 702.4L1486.8 701.7L1489 701.7L1489 700.9L1491.1 700.9L1491.1 700.2L1493.3 700.2L1493.3 699.5L1495.4 699.5L1495.4 698.8L1497.4 698.8L1497.4 698.1L1499.5 698.1L1499.5 697.4L1501.5 697.4L1501.5 696.7L1503.5 696.7L1503.5 696L1505.5 696L1505.5 695.3L1507.5 695.3L1507.5 694.6L1509.4 694.6L1509.4 693.9L1511.3 693.9L1511.3 693.2L1513.2 693.2L1513.2 692.5L1515.1 692.5L1515.1 691.8L1517 691.8L1517 691.1L1518.8 691.1L1518.8 690.5L1520.6 690.5L1520.6 689.8L1522.4 689.8L1522.4 689.1L1524.2 689.1L1524.2 688.5L1526 688.5L1526 687.8L1527.7 687.8L1527.7 687.2L1529.5 687.2L1529.5 686.5L1531.2 686.5L1531.2 685.9L1532.9 685.9L1532.9 685.3L1534.6 685.3L1534.6 684.6L1536.3 684.6L1536.3 684L1537.9 684L1537.9 683.4L1539.6 683.4L1539.6 682.8L1541.2 682.8L1541.2 682.1L1542.8 682.1L1542.8 681.5L1544.4 681.5L1544.4 680.9L1546 680.9L1546 680.3L1547.6 680.3L1547.6 679.7L1549.1 679.7L1549.1 679.1L1550.7 679.1L1550.7 678.5L1552.2 678.5L1552.2 678L1553.8 678L1553.8 677.4L1555.3 677.4L1555.3 676.8L1556.8 676.8L1556.8 676.2L1558.2 676.2L1558.2 675.6L1559.7 675.6L1559.7 675.1L1561.2 675.1L1561.2 674.5L1562.6 674.5L1562.6 674L1564.1 674L1564.1 673.4L1565.5 673.4L1565.5 672.8L1566.9 672.8L1566.9 672.3L1568.3 672.3L1568.3 671.8L1569.7 671.8L1569.7 671.2L1571.1 671.2L1571.1 670.7L1572.5 670.7L1572.5 670.1L1573.8 670.1L1573.8 669.6L1575.2 669.6L1575.2 669.1L1576.5 669.1L1576.5 668.6L1577.9 668.6L1577.9 668L1579.2 668L1579.2 667.5L1580.5 667.5L1580.5 667L1581.8 667L1581.8 666.5L1583.1 666.5L1583.1 666L1584.4 666L1584.4 665.5L1585.7 665.5L1585.7 665L1586.9 665L1586.9 664.5L1588.2 664.5L1588.2 664L1590.7 663.5L1590.7 663L1591.9 663L1591.9 662.5L1593.1 662.5L1593.1 662.1L1594.4 662.1L1594.4 661.6L1595.6 661.6L1595.6 661.1L1596.8 661.1L1596.8 660.6L1598 660.6L1598 660.2L1599.2 660.2L1599.2 659.7L1600.3 659.7L1600.3 659.2L1601.5 659.2L1601.5 658.8L1602.7 658.8L1602.7 658.3L1603.8 658.3L1603.8 657.8L1605 657.8L1605 657.4L1606.1 657.4L1606.1 656.9L1607.3 656.9L1607.3 656.5L1608.4 656.5L1608.4 656L1610.6 655.6L1610.6 655.1L1611.7 655.1L1611.7 654.7L1612.8 654.7L1612.8 654.2L1615 653.8L1615 653.3L1616.1 653.3L1616.1 652.9L1617.2 652.9L1617.2 652.5L1618.2 652.5L1618.2 652L1619.3 652L1619.3 651.6L1620.4 651.6L1620.4 651.2L1621.4 651.2L1621.4 650.8L1622.5 650.8L1622.5 650.3L1623.5 650.3L1623.5 649.9L1624.5 649.9L1624.5 649.5L1625.6 649.5L1625.6 649.1L1626.6 649.1L1626.6 648.7L1627.6 648.7L1627.6 648.3L1628.6 648.3L1628.6 647.8L1629.6 647.8L1629.6 647.4L1630.6 647.4L1630.6 647L1631.6 647L1631.6 646.6L1632.6 646.6L1632.6 646.2L1633.6 646.2L1633.6 645.8L1634.5 645.8L1634.5 645.4L1635.5 645.4L1635.5 645L1636.5 645L1636.5 644.6L1637.5 644.6L1637.5 644.2L1638.4 644.2L1638.4 643.9L1639.4 643.9L1639.4 643.5L1640.3 643.5L1640.3 643.1L1641.3 643.1L1641.3 642.7L1642.2 642.7L1642.2 642.3L1643.1 642.3L1643.1 641.9L1644.1 641.9L1644.1 641.5L1645 641.5L1645 641.2L1645.9 641.2L1645.9 640.8L1646.8 640.8L1646.8 640.4L1647.7 640.4L1647.7 640L1648.6 640L1648.6 639.7L1649.5 639.7L1649.5 639.3L1650.4 639.3L1650.4 638.9L1651.3 638.9L1651.3 638.6L1652.2 638.6L1652.2 638.2L1653.1 638.2L1653.1 637.9L1654 637.9L1654 637.5L1654.8 637.5L1654.8 637.1L1655.7 637.1L1655.7 636.8L1656.6 636.8L1656.6 636.4L1657.4 636.4L1657.4 636.1L1658.3 636.1L1658.3 635.7L1659.2 635.7L1659.2 635.4L1660 635.4L1660 635L1660.9 635L1660.9 634.7L1661.7 634.7L1661.7 634.3L1662.5 634.3L1662.5 634L1663.4 634L1663.4 633.6L1664.2 633.6L1664.2 633.3L1665 633.3L1665 633L1665.9 633L1665.9 632.6L1666.7 632.6L1666.7 632.3L1667.5 632.3L1667.5 632L1668.3 632L1668.3 631.6L1669.1 631.6L1669.1 631.3L1669.9 631.3L1669.9 631L1670.7 631L1670.7 630.6L1671.5 630.6L1671.5 630.3L1672.3 630.3L1672.3 630L1673.1 630L1673.1 629.7L1673.9 629.7L1673.9 629.3L1674.7 629.3L1674.7 629L1675.5 629L1675.5 628.7L1676.2 628.7L1676.2 628.4L1677 628.4L1677 628.1L1677.8 628.1L1677.8 627.7L1678.6 627.7L1678.6 627.4L1679.3 627.4L1679.3 627.1L1680.1 627.1L1680.1 626.8L1680.8 626.8L1680.8 626.5L1681.6 626.5L1681.6 626.2L1682.4 626.2L1682.4 625.9L1683.1 625.9L1683.1 625.6L1683.9 625.6L1683.9 625.3L1684.6 625.3L1684.6 624.9L1685.3 624.9L1685.3 624.6L1686.1 624.6L1686.1 624.3L1686.8 624.3L1686.8 624L1687.5 624L1687.5 623.7L1688.3 623.7L1688.3 623.4L1689 623.4L1689 623.1L1689.7 623.1L1689.7 622.8L1696.1 620.5L1696.1 620.2L1696.8 620.2L1696.8 619.9L1697.5 619.9L1697.5 619.6L1698.2 619.6L1698.2 619.3L1698.9 619.3L1698.9 619.1L1699.6 619.1L1699.6 618.8L1700.2 618.8L1700.2 618.5L1700.9 618.5L1700.9 618.2L1701.6 618.2L1701.6 617.9L1702.3 617.9L1702.3 617.7L1702.9 617.7L1702.9 617.4L1722.7 609.5L1815.7 570.4L1982.5 499.3L2142.4 430.2L2142.4 413.8L2126 413.8L1965.5 483.2L1790.8 557.7L1692.5 599.1L1681.8 603.2L1681.8 603.5L1681.1 603.5L1681.1 603.8L1680.4 603.8L1680.4 604.1L1679.7 604.1L1679.7 604.4L1679 604.4L1679 604.7L1678.3 604.7L1678.3 605L1677.6 605L1677.6 605.3L1676.9 605.3L1676.9 605.6L1676.2 605.6L1676.2 605.8L1675.5 605.8L1675.5 606.1L1674.8 606.1L1674.8 606.4L1674 606.4L1674 606.7L1673.3 606.7L1673.3 607L1672.6 607L1672.6 607.3L1671.9 607.3L1671.9 607.6L1671.1 607.6L1671.1 607.9L1670.4 607.9L1670.4 608.2L1669.7 608.2L1669.7 608.5L1668.9 608.5L1668.9 608.9L1668.2 608.9L1668.2 609.2L1667.5 609.2L1667.5 609.5L1666.7 609.5L1666.7 609.8L1666 609.8L1666 610.1L1665.2 610.1L1665.2 610.4L1664.4 610.4L1664.4 610.7L1663.7 610.7L1663.7 611L1662.9 611L1662.9 611.3L1662.2 611.3L1662.2 611.7L1658.3 612.9L1658.3 613.3L1657.5 613.3L1657.5 613.6L1656.7 613.6L1656.7 613.9L1655.9 613.9L1655.9 614.2L1655.1 614.2L1655.1 614.6L1654.3 614.6L1654.3 614.9L1653.5 614.9L1653.5 615.2L1652.7 615.2L1652.7 615.6L1651.9 615.6L1651.9 615.9L1651.1 615.9L1651.1 616.2L1650.3 616.2L1650.3 616.6L1649.5 616.6L1649.5 616.9L1648.6 616.9L1648.6 617.2L1647.8 617.2L1647.8 617.6L1647 617.6L1647 617.9L1646.1 617.9L1646.1 618.3L1645.3 618.3L1645.3 618.6L1644.5 618.6L1644.5 619L1643.6 619L1643.6 619.3L1642.8 619.3L1642.8 619.7L1641.9 619.7L1641.9 620L1641 620L1641 620.4L1640.2 620.4L1640.2 620.7L1639.3 620.7L1639.3 621.1L1638.4 621.1L1638.4 621.5L1637.6 621.5L1637.6 621.8L1636.7 621.8L1636.7 622.2L1635.8 622.2L1635.8 622.5L1634.9 622.5L1634.9 622.9L1634 622.9L1634 623.3L1633.1 623.3L1633.1 623.6L1632.2 623.6L1632.2 624L1631.3 624L1631.3 624.4L1630.4 624.4L1630.4 624.8L1629.5 624.8L1629.5 625.1L1628.6 625.1L1628.6 625.5L1627.7 625.5L1627.7 625.9L1626.7 625.9L1626.7 626.3L1625.8 626.3L1625.8 626.7L1624.9 626.7L1624.9 627.1L1623.9 627.1L1623.9 627.5L1623 627.5L1623 627.8L1622 627.8L1622 628.2L1621.1 628.2L1621.1 628.6L1620.1 628.6L1620.1 629L1619.1 629L1619.1 629.4L1618.1 629.4L1618.1 629.8L1617.2 629.8L1617.2 630.2L1616.2 630.2L1616.2 630.6L1615.2 630.6L1615.2 631L1614.2 631L1614.2 631.4L1613.2 631.4L1613.2 631.9L1612.2 631.9L1612.2 632.3L1611.2 632.3L1611.2 632.7L1610.2 632.7L1610.2 633.1L1609.2 633.1L1609.2 633.5L1608.1 633.5L1608.1 633.9L1607.1 633.9L1607.1 634.4L1606.1 634.4L1606.1 634.8L1605 634.8L1605 635.2L1604 635.2L1604 635.6L1602.9 635.6L1602.9 636.1L1601.8 636.1L1601.8 636.5L1600.8 636.5L1600.8 636.9L1599.7 636.9L1599.7 637.4L1598.6 637.4L1598.6 637.8L1597.5 637.8L1597.5 638.3L1596.4 638.3L1596.4 638.7L1595.3 638.7L1595.3 639.2L1594.2 639.2L1594.2 639.6L1593.1 639.6L1593.1 640.1L1592 640.1L1592 640.5L1590.9 640.5L1590.9 641L1588.6 641.4L1588.6 641.9L1587.4 641.9L1587.4 642.4L1586.3 642.4L1586.3 642.8L1585.1 642.8L1585.1 643.3L1583.9 643.3L1583.9 643.8ZM1096.6 831.2L1096.6 814.8L1080.2 814.8L1080.2 831.2ZM1077.3 820.6L1060.9 820.6L1060.9 837L1077.3 837ZM1055.7 826.1L1039.3 826.1L1039.3 842.5L1055.7 842.5ZM1031.2 849.5L1031.2 833.1L1014.8 833.1L1014.8 849.5ZM1002.9 839.8L986.5 839.8L986.5 856.2L1002.9 856.2ZM969.5 847.3L953.1 847.3L953.1 863.7L969.5 863.7ZM928.6 873.2L928.6 856.8L912.2 856.8L912.2 873.2ZM875.8 868.1L859.4 868.1L859.4 884.5L875.8 884.5ZM801.5 881.8L785.1 881.8L785.1 898.2L801.5 898.2ZM674.4 916.5L674.4 900.1L658 900.1L658 916.5ZM655.1 902.3L638.7 902.3L638.7 918.7L655.1 918.7ZM633.5 904.5L617.1 904.5L617.1 920.9L633.5 920.9ZM609 923L609 906.6L592.6 906.6L592.6 923ZM580.7 907.8L564.3 907.8L564.3 924.2L580.7 924.2ZM547.3 910.3L530.9 910.3L530.9 926.7L547.3 926.7ZM506.4 928.7L506.4 912.3L490 912.3L490 928.7ZM453.6 913.3L437.2 913.3L437.2 929.7L453.6 929.7ZM252.2 913.5L235.8 913.5L235.8 929.9L252.2 929.9ZM379.3 929.9L379.3 913.5L362.9 913.5L362.9 929.9Z" fill="#00D4FF"/>
<path d="M731.6 1030.7l14 12.4m0-12.4l-14 12.4M738.6 1030.7v12.4M780 1007.3l14 12.4m0-12.4l-14 12.4M787 1007.3v12.4M818.9 988.8l14 12.4m0-12.4l-14 12.4M825.9 988.8v12.4M853 975.1l14 12.4m0-12.4l-14 12.4M860 975.1v12.4M857.4 977.6l14 12.4m0-12.4l-14 12.4M864.4 977.6v12.4M915.2 950.1l14 12.4m0-12.4l-14 12.4M922.2 950.1v12.4M1007.5 903.8l14 12.4m0-12.4l-14 12.4M1014.5 903.8v12.4M1062.5 886.3l14 12.4m0-12.4l-14 12.4M1069.5 886.3v12.4M1085 868.8l14 12.4m0-12.4l-14 12.4M1092 868.8v12.4M1128.5 860.1l14 12.4m0-12.4l-14 12.4M1135.5 860.1v12.4M1172.5 840.1l14 12.4m0-12.4l-14 12.4M1179.5 840.1v12.4M1207.5 825.8l14 12.4m0-12.4l-14 12.4M1214.5 825.8v12.4M1254 803.3l14 12.4m0-12.4l-14 12.4M1261 803.3v12.4M1292.5 787.3l14 12.4m0-12.4l-14 12.4M1299.5 787.3v12.4M1333.2 765.8l14 12.4m0-12.4l-14 12.4M1340.2 765.8v12.4M1351.2 750.8l14 12.4m0-12.4l-14 12.4M1358.2 750.8v12.4M1372.8 738.8l14 12.4m0-12.4l-14 12.4M1379.8 738.8v12.4M1398.9 731.8l14 12.4m0-12.4l-14 12.4M1405.9 731.8v12.4M1422.9 720.8l14 12.4m0-12.4l-14 12.4M1429.9 720.8v12.4M1443.1 707.8l14 12.4m0-12.4l-14 12.4M1450.1 707.8v12.4M1462.6 690.8l14 12.4m0-12.4l-14 12.4M1469.6 690.8v12.4M1487.2 675.8l14 12.4m0-12.4l-14 12.4M1494.2 675.8v12.4M1510 665.8l14 12.4m0-12.4l-14 12.4M1517 665.8v12.4M1530.4 654.8l14 12.4m0-12.4l-14 12.4M1537.4 654.8v12.4M1557.6 634.2l14 12.4m0-12.4l-14 12.4M1564.6 634.2v12.4M1576.9 623.8l14 12.4m0-12.4l-14 12.4M1583.9 623.8v12.4M1598.3 611.8l14 12.4m0-12.4l-14 12.4M1605.3 611.8v12.4M1631.2 583.2l14 12.4m0-12.4l-14 12.4M1638.2 583.2v12.4" stroke="#8A1E8C" stroke-width="2.1" fill="none"/>
<circle cx="922.2" cy="1029.5" r="8.5" fill="#59CF6E"/>
<circle cx="1014.5" cy="920.5" r="8.5" fill="#59CF6E"/>
<circle cx="1069.5" cy="873.8" r="8.5" fill="#59CF6E"/>
<circle cx="1092" cy="883.8" r="8.5" fill="#59CF6E"/>
<circle cx="1135.5" cy="862.5" r="8.5" fill="#59CF6E"/>
<circle cx="1179.5" cy="834.5" r="8.5" fill="#59CF6E"/>
<circle cx="1214.5" cy="823.8" r="8.5" fill="#59CF6E"/>
<circle cx="1261" cy="795.2" r="8.5" fill="#59CF6E"/>
<circle cx="1299.5" cy="783.2" r="8.5" fill="#59CF6E"/>
<circle cx="1340.2" cy="768.2" r="8.5" fill="#59CF6E"/>
<circle cx="1358.2" cy="761.5" r="8.5" fill="#59CF6E"/>
<circle cx="1379.8" cy="750.5" r="8.5" fill="#59CF6E"/>
<circle cx="1405.9" cy="732.2" r="8.5" fill="#59CF6E"/>
<circle cx="1429.9" cy="719.2" r="8.5" fill="#59CF6E"/>
<circle cx="1450.1" cy="710.2" r="8.5" fill="#59CF6E"/>
<circle cx="1469.6" cy="703.6" r="8.5" fill="#59CF6E"/>
<circle cx="1494.2" cy="688" r="8.5" fill="#59CF6E"/>
<circle cx="1517" cy="673.7" r="8.5" fill="#59CF6E"/>
<circle cx="1537.4" cy="665.8" r="8.5" fill="#59CF6E"/>
<circle cx="1564.6" cy="647.9" r="8.5" fill="#59CF6E"/>
<circle cx="1583.9" cy="641.3" r="8.5" fill="#59CF6E"/>
<circle cx="1605.3" cy="630.6" r="8.5" fill="#59CF6E"/>
<circle cx="1638.2" cy="600.3" r="8.5" fill="#59CF6E"/>
<path d="M685.2 1043.2h13.6M692 1035.9v14.6M731.8 1022.8h13.6M738.6 1015.5v14.6M780.2 1001.3h13.6M787 994v14.6M819.1 985h13.6M825.9 977.7v14.6M853.2 970.6h13.6M860 963.3v14.6M857.6 968.1h13.6M864.4 960.8v14.6M915.4 943.5h13.6M922.2 936.2v14.6M1007.7 903.8h13.6M1014.5 896.5v14.6M1062.7 879.5h13.6M1069.5 872.2v14.6M1085.2 870h13.6M1092 862.7v14.6M1128.7 851.3h13.6M1135.5 844v14.6M1172.7 833h13.6M1179.5 825.7v14.6M1207.7 818h13.6M1214.5 810.7v14.6M1254.2 797h13.6M1261 789.7v14.6M1292.7 783h13.6M1299.5 775.7v14.6M1333.4 764.4h13.6M1340.2 757.1v14.6M1351.4 756h13.6M1358.2 748.7v14.6M1373 748h13.6M1379.8 740.7v14.6M1399.1 735.4h13.6M1405.9 728.1v14.6M1423.1 725h13.6M1429.9 717.7v14.6M1443.3 715.7h13.6M1450.1 708.4v14.6M1462.8 708h13.6M1469.6 700.7v14.6M1487.4 695h13.6M1494.2 687.7v14.6M1510.2 686.5h13.6M1517 679.2v14.6M1530.6 678.8h13.6M1537.4 671.5v14.6M1557.8 667.6h13.6M1564.6 660.3v14.6M1577.1 658.2h13.6M1583.9 650.9v14.6M1598.5 649.4h13.6M1605.3 642.1v14.6M1631.4 635.6h13.6M1638.2 628.3v14.6" stroke="#8A9CB2" stroke-width="2.4" fill="none"/>
<path d="M205.6 1270.3L213.4 1278.1L205.6 1285.9L197.8 1278.1Z" fill="#C00000"/>
<rect x="533.3" y="1269.5" width="16.8" height="17.2" fill="#CD5F27"/>
<path d="M872 1286.4L889 1286.4L880.5 1269.8Z" fill="#FFC000"/>
<rect x="1190.5" y="1270.6" width="15" height="15" fill="#00D4FF"/>
<path d="M1448.5 1271.6l14 13m0-13l-14 13M1455.5 1271.6v13" stroke="#8A1E8C" stroke-width="2.1" fill="none"/>
<circle cx="1647.4" cy="1278.1" r="8" fill="#59CF6E"/>
<path d="M1820.7 1278.1h13.6M1827.5 1270.8v14.6" stroke="#8A9CB2" stroke-width="2.4" fill="none"/>
<rect x="26" y="1487" width="2133.8" height="1301" fill="#fff" stroke="#a0a0a0" stroke-width="2.2"/>
<path d="M366.1 1642V2505.8M440.5 1642V2505.8M493.4 1642V2505.8M534.3 1642V2505.8M567.8 1642V2505.8M596.1 1642V2505.8M620.7 1642V2505.8M642.3 1642V2505.8M789 1642V2505.8M863.4 1642V2505.8M916.3 1642V2505.8M957.2 1642V2505.8M990.7 1642V2505.8M1019 1642V2505.8M1043.6 1642V2505.8M1065.2 1642V2505.8M1211.9 1642V2505.8M1286.3 1642V2505.8M1339.2 1642V2505.8M1380.1 1642V2505.8M1413.6 1642V2505.8M1441.9 1642V2505.8M1466.5 1642V2505.8M1488.1 1642V2505.8M1634.8 1642V2505.8M1709.2 1642V2505.8M1762.1 1642V2505.8M1803 1642V2505.8M1836.5 1642V2505.8M1864.8 1642V2505.8M1889.4 1642V2505.8M1911 1642V2505.8M2057.7 1642V2505.8M2132.1 1642V2505.8M238.8 2419.1H2132.1M238.8 2368.4H2132.1M238.8 2332.4H2132.1M238.8 2304.5H2132.1M238.8 2281.7H2132.1M238.8 2262.5H2132.1M238.8 2245.8H2132.1M238.8 2231H2132.1M238.8 2131.2H2132.1M238.8 2080.5H2132.1M238.8 2044.5H2132.1M238.8 2016.6H2132.1M238.8 1993.8H2132.1M238.8 1974.5H2132.1M238.8 1957.8H2132.1M238.8 1943.1H2132.1M238.8 1843.3H2132.1M238.8 1792.6H2132.1M238.8 1756.6H2132.1M238.8 1728.7H2132.1M238.8 1705.9H2132.1M238.8 1686.6H2132.1M238.8 1669.9H2132.1M238.8 1655.2H2132.1" stroke="#dadada" stroke-width="3" fill="none"/>
<path d="M661.6 1642V2505.8M1084.5 1642V2505.8M1507.4 1642V2505.8M1930.3 1642V2505.8M238.8 2217.9H2132.1M238.8 1929.9H2132.1M238.8 1642H2132.1" stroke="#8f8f8f" stroke-width="2.5" fill="none"/>
<path d="M238.8 1641V2505.8H2132.1" stroke="#9a9a9a" stroke-width="2.5" fill="none"/>
<text x="432.5" y="1577.2" font-size="72" textLength="486.2" lengthAdjust="spacingAndGlyphs">TN13/7.5/5-3F3</text>
<text x="930.0" y="1577.2" font-size="72" textLength="147.4" lengthAdjust="spacingAndGlyphs">Core</text>
<text x="1090.6" y="1577.2" font-size="72" textLength="340.0" lengthAdjust="spacingAndGlyphs">Resistance</text>
<text x="1440.2" y="1577.2" font-size="72" textLength="64.7" lengthAdjust="spacingAndGlyphs">@</text>
<text x="1516.2" y="1577.2" font-size="72" textLength="233.8" lengthAdjust="spacingAndGlyphs">200kHz</text>
<text x="218.8" y="1644.5" font-size="27" text-anchor="end">1</text>
<text x="203.8" y="1656.2" font-size="40" text-anchor="end">10</text>
<text x="218.8" y="1932.4" font-size="27" text-anchor="end">0</text>
<text x="203.8" y="1944.1" font-size="40" text-anchor="end">10</text>
<text x="218.8" y="2220.4" font-size="27" text-anchor="end">−1</text>
<text x="189.8" y="2232.1" font-size="40" text-anchor="end">10</text>
<text x="218.8" y="2508.3" font-size="27" text-anchor="end">−2</text>
<text x="189.8" y="2520" font-size="40" text-anchor="end">10</text>
<text x="197.4" y="2563.1" font-size="40">10</text>
<text x="240.1" y="2550.3" font-size="27">−2</text>
<text x="620.4" y="2563.1" font-size="40">10</text>
<text x="662.9" y="2550.3" font-size="27">−1</text>
<text x="1055.2" y="2563.1" font-size="40">10</text>
<text x="1098.1" y="2550.3" font-size="27">0</text>
<text x="1478.1" y="2563.1" font-size="40">10</text>
<text x="1521" y="2550.3" font-size="27">1</text>
<text x="1901" y="2563.1" font-size="40">10</text>
<text x="1943.9" y="2550.3" font-size="27">2</text>
<text transform="translate(109.8 2143.5) rotate(-90)" font-size="53" textLength="137.4" lengthAdjust="spacingAndGlyphs">Rc [Ω]</text>
<text x="1092.3" y="2654.7" font-size="53" textLength="187.4" lengthAdjust="spacingAndGlyphs">Bm [mT]</text>
<text x="222.5" y="2748.5" font-size="44" textLength="248" lengthAdjust="spacingAndGlyphs">Rc Measured</text>
<text x="558" y="2748.5" font-size="44" textLength="255.5" lengthAdjust="spacingAndGlyphs">Rc Steinmetz</text>
<text x="898.7" y="2748.5" font-size="44" textLength="233.8" lengthAdjust="spacingAndGlyphs">Rc Complex</text>
<text x="1219.5" y="2748.5" font-size="44" textLength="169.7" lengthAdjust="spacingAndGlyphs">Rc Fitted</text>
<text x="1477.8" y="2748.5" font-size="44" textLength="102.9" lengthAdjust="spacingAndGlyphs">Rc(L)</text>
<text x="1667.8" y="2748.5" font-size="44" textLength="92.3" lengthAdjust="spacingAndGlyphs">Rc(I)</text>
<text x="1849.3" y="2748.5" font-size="44" textLength="166.2" lengthAdjust="spacingAndGlyphs">Rc(Lavg)</text>
<text x="1047.8" y="2898.5" font-family='"Liberation Serif", "Times New Roman", serif' font-weight="bold" font-size="81" textLength="97.4" lengthAdjust="spacingAndGlyphs"><tspan font-weight="normal">(</tspan>b<tspan font-weight="normal">)</tspan></text>
<path d="M1224.7 2120.3L1216.5 2128.5L1224.7 2136.7L1232.9 2128.5ZM1175.5 2144L1183.7 2152.2L1191.9 2144L1183.7 2135.8ZM1133.2 2157.6L1141.4 2165.8L1149.6 2157.6L1141.4 2149.4ZM1092.6 2168.6L1100.8 2176.8L1109 2168.6L1100.8 2160.4ZM1048 2183.8L1056.2 2192L1064.4 2183.8L1056.2 2175.6ZM1004.7 2190L1012.9 2198.2L1021.1 2190L1012.9 2181.8ZM963.6 2197L971.8 2205.2L980 2197L971.8 2188.8ZM929.4 2194.3L921.2 2202.5L929.4 2210.7L937.6 2202.5ZM879.6 2206.3L887.8 2214.5L896 2206.3L887.8 2198.1ZM809.3 2223.8L817.5 2232L825.7 2223.8L817.5 2215.6ZM838.3 2226.3L846.5 2234.5L854.7 2226.3L846.5 2218.1ZM723.7 2229.3L731.9 2237.5L740.1 2229.3L731.9 2221.1ZM671.1 2230.5L679.3 2238.7L687.5 2230.5L679.3 2222.3ZM697.3 2233L705.5 2241.2L713.7 2233L705.5 2224.8ZM765 2226.8L756.8 2235L765 2243.2L773.2 2235ZM1547 1980.3L1555.2 1988.5L1563.4 1980.3L1555.2 1972.1ZM1523.9 1994.3L1532.1 2002.5L1540.3 1994.3L1532.1 1986.1ZM1500.8 2007.7L1509 2015.9L1517.2 2007.7L1509 1999.5ZM1479.2 2016.3L1487.4 2024.5L1495.6 2016.3L1487.4 2008.1ZM1455.1 2026.4L1463.3 2034.6L1471.5 2026.4L1463.3 2018.2ZM1433.1 2037L1441.3 2045.2L1449.5 2037L1441.3 2028.8ZM1411.6 2047L1419.8 2055.2L1428 2047L1419.8 2038.8ZM1390 2061L1398.2 2069.2L1406.4 2061L1398.2 2052.8ZM1368.1 2071L1376.3 2079.2L1384.5 2071L1376.3 2062.8ZM1346.3 2079.8L1354.5 2088L1362.7 2079.8L1354.5 2071.6ZM1322.3 2088.5L1330.5 2096.7L1338.7 2088.5L1330.5 2080.3ZM1301.3 2097.3L1309.5 2105.5L1317.7 2097.3L1309.5 2089.1ZM1279.8 2105.5L1288 2113.7L1296.2 2105.5L1288 2097.3ZM1259.3 2113.5L1267.5 2121.7L1275.7 2113.5L1267.5 2105.3Z" fill="#C00000"/>
<path d="M1586.3 1983.8L1586.3 1984.4L1585.2 1984.4L1585.2 1985L1584 1985L1584 1985.6L1582.9 1985.6L1582.9 1986.2L1581.7 1986.2L1581.7 1986.8L1580.5 1986.8L1580.5 1987.4L1579.3 1987.4L1579.3 1988.1L1578.2 1988.1L1578.2 1988.7L1577 1988.7L1577 1989.3L1575.8 1989.3L1575.8 1990L1574.5 1990L1574.5 1990.6L1573.3 1990.6L1573.3 1991.2L1572.1 1991.2L1572.1 1991.9L1570.9 1991.9L1570.9 1992.5L1569.6 1992.5L1569.6 1993.2L1568.4 1993.2L1568.4 1993.9L1567.1 1993.9L1567.1 1994.5L1565.8 1994.5L1565.8 1995.2L1564.5 1995.2L1564.5 1995.9L1563.3 1995.9L1563.3 1996.5L1562 1996.5L1562 1997.2L1560.6 1997.2L1560.6 1997.9L1559.3 1997.9L1559.3 1998.6L1558 1998.6L1558 1999.3L1556.7 1999.3L1556.7 2000L1555.3 2000L1555.3 2000.7L1554 2000.7L1554 2001.4L1552.6 2001.4L1552.6 2002.1L1551.2 2002.1L1551.2 2002.9L1549.8 2002.9L1549.8 2003.6L1548.4 2003.6L1548.4 2004.3L1547 2004.3L1547 2005.1L1545.6 2005.1L1545.6 2005.8L1544.2 2005.8L1544.2 2006.6L1542.7 2006.6L1542.7 2007.3L1541.3 2007.3L1541.3 2008.1L1539.8 2008.1L1539.8 2008.9L1538.4 2008.9L1538.4 2009.7L1536.9 2009.7L1536.9 2010.4L1535.4 2010.4L1535.4 2011.2L1533.9 2011.2L1533.9 2012L1532.3 2012L1532.3 2012.8L1530.8 2012.8L1530.8 2013.6L1529.2 2013.6L1529.2 2014.5L1527.7 2014.5L1527.7 2015.3L1526.1 2015.3L1526.1 2016.1L1524.5 2016.1L1524.5 2017L1522.9 2017L1522.9 2017.8L1521.3 2017.8L1521.3 2018.7L1519.7 2018.7L1519.7 2019.5L1518 2019.5L1518 2020.4L1516.4 2020.4L1516.4 2021.3L1514.7 2021.3L1514.7 2022.1L1513 2022.1L1513 2023L1511.3 2023L1511.3 2023.9L1509.6 2023.9L1509.6 2024.9L1507.8 2024.9L1507.8 2025.8L1506.1 2025.8L1506.1 2026.7L1504.3 2026.7L1504.3 2027.6L1502.5 2027.6L1502.5 2028.6L1500.7 2028.6L1500.7 2029.5L1498.8 2029.5L1498.8 2030.5L1497 2030.5L1497 2031.5L1495.1 2031.5L1495.1 2032.5L1493.3 2032.5L1493.3 2033.5L1491.4 2033.5L1491.4 2034.5L1489.4 2034.5L1489.4 2035.5L1487.5 2035.5L1487.5 2036.5L1485.5 2036.5L1485.5 2037.5L1483.5 2037.5L1483.5 2038.6L1481.5 2038.6L1481.5 2039.7L1479.5 2039.7L1479.5 2040.7L1477.4 2040.7L1477.4 2041.8L1475.4 2041.8L1475.4 2042.9L1473.3 2042.9L1473.3 2044L1471.1 2044L1471.1 2045.1L1469 2045.1L1469 2046.3L1466.8 2046.3L1466.8 2047.4L1464.6 2047.4L1464.6 2048.6L1462.4 2048.6L1462.4 2049.8L1460.1 2049.8L1460.1 2051L1457.9 2051L1457.9 2052.2L1455.6 2052.2L1455.6 2053.4L1453.2 2053.4L1453.2 2054.6L1450.8 2054.6L1450.8 2055.9L1448.4 2055.9L1448.4 2057.2L1446 2057.2L1446 2058.5L1443.5 2058.5L1443.5 2059.8L1441 2059.8L1441 2061.1L1438.5 2061.1L1438.5 2062.4L1435.9 2062.4L1435.9 2063.8L1433.3 2063.8L1433.3 2065.2L1430.7 2065.2L1430.7 2066.6L1428 2066.6L1428 2068L1425.3 2068L1425.3 2069.4L1422.5 2069.4L1422.5 2070.9L1419.7 2070.9L1419.7 2072.4L1416.9 2072.4L1416.9 2073.9L1414 2073.9L1414 2075.5L1411.1 2075.5L1411.1 2077L1408.1 2077L1408.1 2078.6L1405 2078.6L1405 2080.2L1401.9 2080.2L1401.9 2081.9L1398.8 2081.9L1398.8 2083.5L1395.6 2083.5L1395.6 2085.2L1392.4 2085.2L1392.4 2087L1389 2087L1389 2088.7L1385.7 2088.7L1385.7 2090.5L1382.2 2090.5L1382.2 2092.3L1378.7 2092.3L1378.7 2094.2L1375.2 2094.2L1375.2 2096.1L1371.5 2096.1L1371.5 2098.1L1367.8 2098.1L1367.8 2100L1364 2100L1364 2102.1L1360.2 2102.1L1360.2 2104.1L1356.2 2104.1L1356.2 2106.2L1352.2 2106.2L1352.2 2108.4L1348.1 2108.4L1348.1 2110.6L1343.8 2110.6L1343.8 2112.9L1339.5 2112.9L1339.5 2115.2L1335.1 2115.2L1335.1 2117.5L1330.6 2117.5L1330.6 2120L1325.9 2120L1325.9 2122.5L1321.1 2122.5L1321.1 2125L1316.2 2125L1316.2 2127.7L1311.2 2127.7L1311.2 2130.4L1306 2130.4L1306 2133.2L1300.7 2133.2L1300.7 2136L1295.2 2136L1295.2 2139L1289.6 2139L1289.6 2142L1283.7 2142L1283.7 2145.2L1277.7 2145.2L1277.7 2148.4L1271.5 2148.4L1271.5 2151.8L1265.1 2151.8L1265.1 2155.3L1258.4 2155.3L1258.4 2158.9L1251.4 2158.9L1251.4 2162.7L1244.2 2162.7L1244.2 2166.6L1236.7 2166.6L1236.7 2170.7L1228.9 2170.7L1228.9 2175L1220.8 2175L1220.8 2179.4L1212.2 2179.4L1212.2 2184.1L1203.3 2184.1L1203.3 2189.1L1193.8 2189.1L1193.8 2194.2L1183.9 2194.2L1183.9 2199.7L1173.4 2199.7L1173.4 2205.6L1162.3 2205.6L1162.3 2211.8L1150.4 2211.8L1150.4 2218.4L1137.7 2218.4L1137.7 2225.5L1124.1 2225.5L1124.1 2233.2L1109.4 2233.2L1109.4 2241.5L1093.5 2241.5L1093.5 2258.7L1110.7 2258.7L1110.7 2250.4L1126.6 2250.4L1126.6 2242.7L1141.3 2242.7L1141.3 2235.6L1154.9 2235.6L1154.9 2229L1167.6 2229L1167.6 2222.8L1179.5 2222.8L1179.5 2216.9L1190.6 2216.9L1190.6 2211.4L1201.1 2211.4L1201.1 2206.3L1211 2206.3L1211 2201.3L1220.5 2201.3L1220.5 2196.6L1229.4 2196.6L1229.4 2192.2L1238 2192.2L1238 2187.9L1246.1 2187.9L1246.1 2183.8L1253.9 2183.8L1253.9 2179.9L1261.4 2179.9L1261.4 2176.1L1268.6 2176.1L1268.6 2172.5L1275.6 2172.5L1275.6 2169L1282.3 2169L1282.3 2165.6L1288.7 2165.6L1288.7 2162.4L1294.9 2162.4L1294.9 2159.2L1300.9 2159.2L1300.9 2156.2L1306.8 2156.2L1306.8 2153.2L1312.4 2153.2L1312.4 2150.4L1317.9 2150.4L1317.9 2147.6L1323.2 2147.6L1323.2 2144.9L1328.4 2144.9L1328.4 2142.2L1333.4 2142.2L1333.4 2139.7L1338.3 2139.7L1338.3 2137.2L1343.1 2137.2L1343.1 2134.7L1347.8 2134.7L1347.8 2132.4L1352.3 2132.4L1352.3 2130.1L1356.7 2130.1L1356.7 2127.8L1361 2127.8L1361 2125.6L1365.3 2125.6L1365.3 2123.4L1369.4 2123.4L1369.4 2121.3L1373.4 2121.3L1373.4 2119.3L1377.4 2119.3L1377.4 2117.2L1381.2 2117.2L1381.2 2115.3L1385 2115.3L1385 2113.3L1388.7 2113.3L1388.7 2111.4L1392.4 2111.4L1392.4 2109.5L1395.9 2109.5L1395.9 2107.7L1399.4 2107.7L1399.4 2105.9L1402.9 2105.9L1402.9 2104.2L1406.2 2104.2L1406.2 2102.4L1409.6 2102.4L1409.6 2100.7L1412.8 2100.7L1412.8 2099.1L1416 2099.1L1416 2097.4L1419.1 2097.4L1419.1 2095.8L1422.2 2095.8L1422.2 2094.2L1425.3 2094.2L1425.3 2092.7L1428.3 2092.7L1428.3 2091.1L1431.2 2091.1L1431.2 2089.6L1434.1 2089.6L1434.1 2088.1L1436.9 2088.1L1436.9 2086.6L1439.7 2086.6L1439.7 2085.2L1442.5 2085.2L1442.5 2083.8L1445.2 2083.8L1445.2 2082.4L1447.9 2082.4L1447.9 2081L1450.5 2081L1450.5 2079.6L1453.1 2079.6L1453.1 2078.3L1455.7 2078.3L1455.7 2077L1458.2 2077L1458.2 2075.7L1460.7 2075.7L1460.7 2074.4L1463.2 2074.4L1463.2 2073.1L1465.6 2073.1L1465.6 2071.8L1468 2071.8L1468 2070.6L1470.4 2070.6L1470.4 2069.4L1472.8 2069.4L1472.8 2068.2L1475.1 2068.2L1475.1 2067L1477.3 2067L1477.3 2065.8L1479.6 2065.8L1479.6 2064.6L1481.8 2064.6L1481.8 2063.5L1484 2063.5L1484 2062.3L1486.2 2062.3L1486.2 2061.2L1488.3 2061.2L1488.3 2060.1L1490.5 2060.1L1490.5 2059L1492.6 2059L1492.6 2057.9L1494.6 2057.9L1494.6 2056.9L1496.7 2056.9L1496.7 2055.8L1498.7 2055.8L1498.7 2054.7L1500.7 2054.7L1500.7 2053.7L1502.7 2053.7L1502.7 2052.7L1504.7 2052.7L1504.7 2051.7L1506.6 2051.7L1506.6 2050.7L1508.6 2050.7L1508.6 2049.7L1510.5 2049.7L1510.5 2048.7L1512.3 2048.7L1512.3 2047.7L1514.2 2047.7L1514.2 2046.7L1516 2046.7L1516 2045.8L1517.9 2045.8L1517.9 2044.8L1519.7 2044.8L1519.7 2043.9L1521.5 2043.9L1521.5 2043L1523.3 2043L1523.3 2042.1L1525 2042.1L1525 2041.1L1526.8 2041.1L1526.8 2040.2L1528.5 2040.2L1528.5 2039.3L1530.2 2039.3L1530.2 2038.5L1531.9 2038.5L1531.9 2037.6L1533.6 2037.6L1533.6 2036.7L1535.2 2036.7L1535.2 2035.9L1536.9 2035.9L1536.9 2035L1538.5 2035L1538.5 2034.2L1540.1 2034.2L1540.1 2033.3L1541.7 2033.3L1541.7 2032.5L1543.3 2032.5L1543.3 2031.7L1544.9 2031.7L1544.9 2030.8L1546.4 2030.8L1546.4 2030L1548 2030L1548 2029.2L1549.5 2029.2L1549.5 2028.4L1551.1 2028.4L1551.1 2027.6L1552.6 2027.6L1552.6 2026.9L1554.1 2026.9L1554.1 2026.1L1555.6 2026.1L1555.6 2025.3L1557 2025.3L1557 2024.5L1558.5 2024.5L1558.5 2023.8L1559.9 2023.8L1559.9 2023L1561.4 2023L1561.4 2022.3L1562.8 2022.3L1562.8 2021.5L1564.2 2021.5L1564.2 2020.8L1565.6 2020.8L1565.6 2020.1L1567 2020.1L1567 2019.3L1568.4 2019.3L1568.4 2018.6L1569.8 2018.6L1569.8 2017.9L1571.2 2017.9L1571.2 2017.2L1572.5 2017.2L1572.5 2016.5L1573.9 2016.5L1573.9 2015.8L1575.2 2015.8L1575.2 2015.1L1576.5 2015.1L1576.5 2014.4L1577.8 2014.4L1577.8 2013.7L1579.2 2013.7L1579.2 2013.1L1580.5 2013.1L1580.5 2012.4L1581.7 2012.4L1581.7 2011.7L1583 2011.7L1583 2011.1L1584.3 2011.1L1584.3 2010.4L1585.6 2010.4L1585.6 2009.7L1586.8 2009.7L1586.8 2009.1L1588.1 2009.1L1588.1 2008.4L1589.3 2008.4L1589.3 2007.8L1590.5 2007.8L1590.5 2007.2L1591.7 2007.2L1591.7 2006.5L1593 2006.5L1593 2005.9L1594.2 2005.9L1594.2 2005.3L1595.4 2005.3L1595.4 2004.6L1596.5 2004.6L1596.5 2004L1597.7 2004L1597.7 2003.4L1598.9 2003.4L1598.9 2002.8L1600.1 2002.8L1600.1 2002.2L1601.2 2002.2L1601.2 2001.6L1602.4 2001.6L1602.4 2001L1603.5 2001L1603.5 2000.4L1604.7 2000.4L1604.7 1999.8L1605.8 1999.8L1605.8 1999.2L1606.9 1999.2L1606.9 1998.6L1608 1998.6L1608 1998.1L1609.1 1998.1L1609.1 1997.5L1610.2 1997.5L1610.2 1996.9L1611.3 1996.9L1611.3 1996.3L1612.4 1996.3L1612.4 1995.8L1613.5 1995.8L1613.5 1995.2L1614.6 1995.2L1614.6 1994.6L1615.7 1994.6L1615.7 1994.1L1616.7 1994.1L1616.7 1993.5L1617.8 1993.5L1617.8 1993L1618.8 1993L1618.8 1992.4L1619.9 1992.4L1619.9 1991.9L1620.9 1991.9L1620.9 1991.4L1622 1991.4L1622 1990.8L1623 1990.8L1623 1990.3L1624 1990.3L1624 1989.8L1625 1989.8L1625 1989.2L1626 1989.2L1626 1988.7L1627 1988.7L1627 1988.2L1628 1988.2L1628 1987.7L1629 1987.7L1629 1987.1L1630 1987.1L1630 1986.6L1631 1986.6L1631 1986.1L1632 1986.1L1632 1985.6L1633 1985.6L1633 1985.1L1633.9 1985.1L1633.9 1984.6L1634.9 1984.6L1634.9 1984.1L1635.9 1984.1L1635.9 1983.6L1636.8 1983.6L1636.8 1983.1L1637.8 1983.1L1637.8 1982.6L1638.7 1982.6L1638.7 1982.1L1639.6 1982.1L1639.6 1981.6L1640.6 1981.6L1640.6 1981.1L1641.5 1981.1L1641.5 1980.6L1642.4 1980.6L1642.4 1980.2L1643.4 1980.2L1643.4 1979.7L1644.3 1979.7L1644.3 1979.2L1645.2 1979.2L1645.2 1978.7L1646.1 1978.7L1646.1 1978.3L1647 1978.3L1647 1977.8L1647.9 1977.8L1647.9 1977.3L1648.8 1977.3L1648.8 1976.9L1649.7 1976.9L1649.7 1976.4L1650.6 1976.4L1650.6 1975.9L1651.4 1975.9L1651.4 1975.5L1652.3 1975.5L1652.3 1975L1653.2 1975L1653.2 1974.6L1654.1 1974.6L1654.1 1974.1L1654.9 1974.1L1654.9 1973.7L1655.8 1973.7L1655.8 1973.2L1656.6 1973.2L1656.6 1972.8L1657.5 1972.8L1657.5 1972.3L1658.3 1972.3L1658.3 1971.9L1659.2 1971.9L1659.2 1971.4L1660 1971.4L1660 1971L1660.9 1971L1660.9 1970.6L1661.7 1970.6L1661.7 1970.1L1662.5 1970.1L1662.5 1969.7L1663.3 1969.7L1663.3 1969.3L1664.2 1969.3L1664.2 1968.8L1665 1968.8L1665 1968.4L1665.8 1968.4L1665.8 1968L1666.6 1968L1666.6 1967.6L1667.4 1967.6L1667.4 1967.2L1668.2 1967.2L1668.2 1966.7L1669 1966.7L1669 1966.3L1669.8 1966.3L1669.8 1965.9L1670.6 1965.9L1670.6 1965.5L1671.4 1965.5L1671.4 1965.1L1672.2 1965.1L1672.2 1964.7L1673 1964.7L1673 1964.3L1673.8 1964.3L1673.8 1963.9L1674.5 1963.9L1674.5 1963.5L1675.3 1963.5L1675.3 1963.1L1676.1 1963.1L1676.1 1962.7L1676.8 1962.7L1676.8 1962.3L1677.6 1962.3L1677.6 1961.9L1678.4 1961.9L1678.4 1961.5L1679.1 1961.5L1679.1 1961.1L1679.9 1961.1L1679.9 1960.7L1680.6 1960.7L1680.6 1960.3L1681.4 1960.3L1681.4 1959.9L1682.1 1959.9L1682.1 1959.5L1682.9 1959.5L1682.9 1959.1L1683.6 1959.1L1683.6 1958.7L1684.3 1958.7L1684.3 1958.3L1685.1 1958.3L1685.1 1958L1685.8 1958L1685.8 1957.6L1686.5 1957.6L1686.5 1957.2L1687.3 1957.2L1687.3 1956.8L1688 1956.8L1688 1956.5L1688.7 1956.5L1688.7 1956.1L1689.4 1956.1L1689.4 1955.7L1690.1 1955.7L1690.1 1955.3L1690.8 1955.3L1690.8 1955L1691.5 1955L1691.5 1954.6L1692.2 1954.6L1692.2 1954.2L1692.9 1954.2L1692.9 1953.9L1693.6 1953.9L1693.6 1953.5L1694.3 1953.5L1694.3 1953.1L1695 1953.1L1695 1952.8L1695.7 1952.8L1695.7 1952.4L1696.4 1952.4L1696.4 1952.1L1697.1 1952.1L1697.1 1951.7L1697.8 1951.7L1697.8 1951.3L1698.5 1951.3L1698.5 1951L1699.2 1951L1699.2 1950.6L1699.8 1950.6L1699.8 1950.3L1700.5 1950.3L1700.5 1949.9L1701.2 1949.9L1701.2 1949.6L1701.8 1949.6L1701.8 1949.2L1702.5 1949.2L1702.5 1948.9L1703.2 1948.9L1703.2 1948.5L1703.8 1948.5L1703.8 1948.2L1704.5 1948.2L1704.5 1947.8L1705.2 1947.8L1705.2 1947.5L1705.8 1947.5L1705.8 1947.2L1706.5 1947.2L1706.5 1946.8L1707.1 1946.8L1707.1 1946.5L1707.8 1946.5L1707.8 1946.1L1708.4 1946.1L1708.4 1945.8L1709 1945.8L1709 1945.5L1709.7 1945.5L1709.7 1945.1L1710.3 1945.1L1710.3 1944.8L1711 1944.8L1711 1944.5L1711.6 1944.5L1711.6 1944.1L1712.2 1944.1L1712.2 1943.8L1712.9 1943.8L1712.9 1943.5L1713.5 1943.5L1713.5 1943.2L1714.1 1943.2L1714.1 1942.8L1714.7 1942.8L1714.7 1942.5L1715.4 1942.5L1715.4 1942.2L1716 1942.2L1716 1941.9L1716.6 1941.9L1716.6 1941.5L1717.2 1941.5L1717.2 1941.2L1717.8 1941.2L1717.8 1940.9L1718.4 1940.9L1718.4 1940.6L1719 1940.6L1719 1940.3L1719.7 1940.3L1719.7 1939.9L1720.3 1939.9L1720.3 1939.6L1720.9 1939.6L1720.9 1939.3L1721.5 1939.3L1721.5 1939L1722.1 1939L1722.1 1938.7L1722.7 1938.7L1722.7 1938.4L1723.3 1938.4L1723.3 1938.1L1723.8 1938.1L1723.8 1937.8L1724.4 1937.8L1724.4 1937.5L1725 1937.5L1725 1937.1L1725.6 1937.1L1725.6 1936.8L1726.2 1936.8L1726.2 1936.5L1726.8 1936.5L1726.8 1936.2L1727.4 1936.2L1727.4 1935.9L1727.9 1935.9L1727.9 1935.6L1728.5 1935.6L1728.5 1935.3L1729.1 1935.3L1729.1 1935L1729.7 1935L1729.7 1934.7L1730.3 1934.7L1730.3 1934.4L1730.8 1934.4L1730.8 1934.1L1731.4 1934.1L1731.4 1933.8L1732 1933.8L1732 1933.5L1732.5 1933.5L1732.5 1933.2L1733.1 1933.2L1733.1 1932.9L1733.7 1932.9L1733.7 1932.6L1734.2 1932.6L1734.2 1932.4L1734.8 1932.4L1734.8 1932.1L1735.3 1932.1L1735.3 1931.8L1735.9 1931.8L1735.9 1931.5L1736.4 1931.5L1736.4 1931.2L1737 1931.2L1737 1930.9L1737.5 1930.9L1737.5 1930.6L1738.1 1930.6L1738.1 1930.3L1738.6 1930.3L1738.6 1930L1739.2 1930L1739.2 1929.8L1739.7 1929.8L1739.7 1929.5L1740.3 1929.5L1740.3 1929.2L1740.8 1929.2L2140.7 1720.1L2140.7 1702.9L2123.5 1702.9L1723.6 1912L1723.6 1912.3L1723.1 1912.3L1723.1 1912.6L1722.5 1912.6L1722.5 1912.8L1722 1912.8L1722 1913.1L1721.4 1913.1L1721.4 1913.4L1720.9 1913.4L1720.9 1913.7L1720.3 1913.7L1720.3 1914L1719.8 1914L1719.8 1914.3L1719.2 1914.3L1719.2 1914.6L1718.7 1914.6L1718.7 1914.9L1718.1 1914.9L1718.1 1915.2L1717.6 1915.2L1717.6 1915.4L1717 1915.4L1717 1915.7L1716.5 1915.7L1716.5 1916L1715.9 1916L1715.9 1916.3L1715.3 1916.3L1715.3 1916.6L1714.8 1916.6L1714.8 1916.9L1714.2 1916.9L1714.2 1917.2L1713.6 1917.2L1713.6 1917.5L1713.1 1917.5L1713.1 1917.8L1712.5 1917.8L1712.5 1918.1L1711.9 1918.1L1711.9 1918.4L1711.3 1918.4L1711.3 1918.7L1710.7 1918.7L1710.7 1919L1710.2 1919L1710.2 1919.3L1709.6 1919.3L1709.6 1919.6L1709 1919.6L1709 1919.9L1708.4 1919.9L1708.4 1920.3L1707.8 1920.3L1707.8 1920.6L1707.2 1920.6L1707.2 1920.9L1706.6 1920.9L1706.6 1921.2L1706.1 1921.2L1706.1 1921.5L1705.5 1921.5L1705.5 1921.8L1704.9 1921.8L1704.9 1922.1L1704.3 1922.1L1704.3 1922.4L1703.7 1922.4L1703.7 1922.7L1703.1 1922.7L1703.1 1923.1L1702.5 1923.1L1702.5 1923.4L1701.8 1923.4L1701.8 1923.7L1701.2 1923.7L1701.2 1924L1700.6 1924L1700.6 1924.3L1700 1924.3L1700 1924.7L1699.4 1924.7L1699.4 1925L1698.8 1925L1698.8 1925.3L1698.2 1925.3L1698.2 1925.6L1697.5 1925.6L1697.5 1926L1696.9 1926L1696.9 1926.3L1696.3 1926.3L1696.3 1926.6L1695.7 1926.6L1695.7 1926.9L1695 1926.9L1695 1927.3L1694.4 1927.3L1694.4 1927.6L1693.8 1927.6L1693.8 1927.9L1693.1 1927.9L1693.1 1928.3L1692.5 1928.3L1692.5 1928.6L1691.8 1928.6L1691.8 1928.9L1691.2 1928.9L1691.2 1929.3L1690.6 1929.3L1690.6 1929.6L1689.9 1929.6L1689.9 1930L1689.3 1930L1689.3 1930.3L1688.6 1930.3L1688.6 1930.6L1688 1930.6L1688 1931L1687.3 1931L1687.3 1931.3L1686.6 1931.3L1686.6 1931.7L1686 1931.7L1686 1932L1685.3 1932L1685.3 1932.4L1684.6 1932.4L1684.6 1932.7L1684 1932.7L1684 1933.1L1683.3 1933.1L1683.3 1933.4L1682.6 1933.4L1682.6 1933.8L1682 1933.8L1682 1934.1L1681.3 1934.1L1681.3 1934.5L1680.6 1934.5L1680.6 1934.9L1679.9 1934.9L1679.9 1935.2L1679.2 1935.2L1679.2 1935.6L1678.5 1935.6L1678.5 1935.9L1677.8 1935.9L1677.8 1936.3L1677.1 1936.3L1677.1 1936.7L1676.4 1936.7L1676.4 1937L1675.7 1937L1675.7 1937.4L1675 1937.4L1675 1937.8L1674.3 1937.8L1674.3 1938.1L1673.6 1938.1L1673.6 1938.5L1672.9 1938.5L1672.9 1938.9L1672.2 1938.9L1672.2 1939.3L1671.5 1939.3L1671.5 1939.6L1670.8 1939.6L1670.8 1940L1670.1 1940L1670.1 1940.4L1669.3 1940.4L1669.3 1940.8L1668.6 1940.8L1668.6 1941.1L1667.9 1941.1L1667.9 1941.5L1667.1 1941.5L1667.1 1941.9L1666.4 1941.9L1666.4 1942.3L1665.7 1942.3L1665.7 1942.7L1664.9 1942.7L1664.9 1943.1L1664.2 1943.1L1664.2 1943.5L1663.4 1943.5L1663.4 1943.9L1662.7 1943.9L1662.7 1944.3L1661.9 1944.3L1661.9 1944.7L1661.2 1944.7L1661.2 1945.1L1660.4 1945.1L1660.4 1945.5L1659.6 1945.5L1659.6 1945.9L1658.9 1945.9L1658.9 1946.3L1658.1 1946.3L1658.1 1946.7L1657.3 1946.7L1657.3 1947.1L1656.6 1947.1L1656.6 1947.5L1655.8 1947.5L1655.8 1947.9L1655 1947.9L1655 1948.3L1654.2 1948.3L1654.2 1948.7L1653.4 1948.7L1653.4 1949.1L1652.6 1949.1L1652.6 1949.5L1651.8 1949.5L1651.8 1950L1651 1950L1651 1950.4L1650.2 1950.4L1650.2 1950.8L1649.4 1950.8L1649.4 1951.2L1648.6 1951.2L1648.6 1951.6L1647.8 1951.6L1647.8 1952.1L1647 1952.1L1647 1952.5L1646.1 1952.5L1646.1 1952.9L1645.3 1952.9L1645.3 1953.4L1644.5 1953.4L1644.5 1953.8L1643.7 1953.8L1643.7 1954.2L1642.8 1954.2L1642.8 1954.7L1642 1954.7L1642 1955.1L1641.1 1955.1L1641.1 1955.6L1640.3 1955.6L1640.3 1956L1639.4 1956L1639.4 1956.5L1638.6 1956.5L1638.6 1956.9L1637.7 1956.9L1637.7 1957.4L1636.9 1957.4L1636.9 1957.8L1636 1957.8L1636 1958.3L1635.1 1958.3L1635.1 1958.7L1634.2 1958.7L1634.2 1959.2L1633.4 1959.2L1633.4 1959.7L1632.5 1959.7L1632.5 1960.1L1631.6 1960.1L1631.6 1960.6L1630.7 1960.6L1630.7 1961.1L1629.8 1961.1L1629.8 1961.5L1628.9 1961.5L1628.9 1962L1628 1962L1628 1962.5L1627.1 1962.5L1627.1 1963L1626.2 1963L1626.2 1963.4L1625.2 1963.4L1625.2 1963.9L1624.3 1963.9L1624.3 1964.4L1623.4 1964.4L1623.4 1964.9L1622.4 1964.9L1622.4 1965.4L1621.5 1965.4L1621.5 1965.9L1620.6 1965.9L1620.6 1966.4L1619.6 1966.4L1619.6 1966.9L1618.7 1966.9L1618.7 1967.4L1617.7 1967.4L1617.7 1967.9L1616.7 1967.9L1616.7 1968.4L1615.8 1968.4L1615.8 1968.9L1614.8 1968.9L1614.8 1969.4L1613.8 1969.4L1613.8 1969.9L1612.8 1969.9L1612.8 1970.5L1611.8 1970.5L1611.8 1971L1610.8 1971L1610.8 1971.5L1609.8 1971.5L1609.8 1972L1608.8 1972L1608.8 1972.6L1607.8 1972.6L1607.8 1973.1L1606.8 1973.1L1606.8 1973.6L1605.8 1973.6L1605.8 1974.2L1604.8 1974.2L1604.8 1974.7L1603.7 1974.7L1603.7 1975.2L1602.7 1975.2L1602.7 1975.8L1601.6 1975.8L1601.6 1976.3L1600.6 1976.3L1600.6 1976.9L1599.5 1976.9L1599.5 1977.4L1598.5 1977.4L1598.5 1978L1597.4 1978L1597.4 1978.6L1596.3 1978.6L1596.3 1979.1L1595.2 1979.1L1595.2 1979.7L1594.1 1979.7L1594.1 1980.3L1593 1980.3L1593 1980.9L1591.9 1980.9L1591.9 1981.4L1590.8 1981.4L1590.8 1982L1589.7 1982L1589.7 1982.6L1588.6 1982.6L1588.6 1983.2L1587.5 1983.2L1587.5 1983.8ZM1093.1 2250.7L1076 2250.7L1076 2267.9L1093.1 2267.9ZM1073.8 2260.8L1056.6 2260.8L1056.6 2278L1073.8 2278ZM1052.2 2289.3L1052.2 2272.1L1035 2272.1L1035 2289.3ZM1027.6 2285L1010.4 2285L1010.4 2302.2L1027.6 2302.2ZM999.3 2299.8L982.1 2299.8L982.1 2317L999.3 2317ZM965.8 2334.5L965.8 2317.3L948.6 2317.3L948.6 2334.5ZM924.9 2338.7L907.7 2338.7L907.7 2355.9L924.9 2355.9ZM872 2366.3L854.8 2366.3L854.8 2383.5L872 2383.5ZM797.6 2422.5L797.6 2405.3L780.4 2405.3L780.4 2422.5ZM670.2 2471.9L653 2471.9L653 2489.1L670.2 2489.1ZM650.9 2482L633.7 2482L633.7 2499.2L650.9 2499.2ZM629.3 2510.5L629.3 2493.3L612.1 2493.3L612.1 2510.5Z" fill="#CD5F27"/>
<path d="M1513.8 2231.2L1512.9 2229.5L1512 2231.2L1511.1 2229.5L1510.2 2231.2L1509.3 2229.5L1508.4 2231.2L1507.4 2229.5L1506.5 2231.2L1505.6 2229.5L1504.7 2231.2L1503.7 2229.5L1502.8 2231.3L1501.9 2229.5L1500.9 2231.3L1500 2229.5L1499 2231.3L1498 2229.5L1497.1 2231.3L1496.1 2229.5L1495.1 2231.3L1494.1 2229.5L1493.1 2231.4L1492.1 2229.5L1491.1 2231.4L1490.1 2229.5L1489.1 2231.4L1488.1 2229.5L1487.1 2231.4L1486 2229.5L1485 2231.4L1484 2229.5L1482.9 2231.5L1481.9 2229.5L1480.8 2231.5L1479.7 2229.5L1478.7 2231.5L1477.6 2229.5L1476.5 2231.5L1475.4 2229.5L1474.3 2231.6L1473.2 2229.5L1472.1 2231.6L1471 2229.5L1469.9 2231.6L1468.7 2229.5L1467.6 2231.6L1466.5 2229.5L1465.3 2231.7L1464.2 2229.5L1463 2231.7L1461.8 2229.5L1460.6 2231.7L1459.4 2229.5L1458.2 2231.8L1457 2229.5L1455.8 2231.8L1454.6 2229.5L1453.4 2231.8L1452.1 2229.5L1450.9 2231.8L1449.6 2229.5L1448.4 2231.9L1447.1 2229.5L1445.8 2231.9L1444.5 2229.5L1443.2 2231.9L1441.9 2229.5L1440.6 2232L1439.3 2229.5L1438 2232L1436.6 2229.5L1435.3 2232.1L1433.9 2229.5L1432.5 2232.1L1431.1 2229.5L1429.7 2232.1L1428.3 2229.5L1426.9 2232.2L1425.5 2229.5L1424 2232.2L1422.6 2229.5L1421.1 2232.3L1419.7 2229.5L1418.2 2232.3L1416.7 2229.5L1415.1 2232.3L1413.6 2229.5L1412.1 2232.4L1410.5 2229.5L1409 2232.4L1407.4 2229.5L1405.8 2232.5L1404.2 2229.5L1402.6 2232.5L1401 2229.5L1399.3 2232.6L1397.6 2229.5L1396 2232.7L1394.3 2229.5L1392.6 2232.7L1390.8 2229.5L1389.1 2232.8L1387.3 2229.5L1385.6 2232.8L1383.8 2229.5L1382 2232.9L1380.1 2229.5L1378.3 2233L1376.4 2229.5L1374.5 2233.1L1372.6 2229.5L1370.7 2233.1L1368.8 2229.5L1366.8 2233.2L1364.8 2229.5L1362.8 2233.3L1360.8 2229.5L1358.7 2233.4L1356.7 2229.5L1354.6 2233.5L1352.4 2229.5L1350.3 2233.6L1348.1 2229.5L1345.9 2233.6L1343.7 2229.5L1341.4 2233.8L1339.2 2229.5L1336.8 2233.9L1334.5 2229.5L1332.1 2234L1329.7 2229.5L1327.3 2234.1L1324.8 2229.5L1322.3 2234.2L1319.8 2229.5L1317.2 2234.4L1314.6 2229.5L1312 2234.5L1309.3 2229.5L1306.6 2234.6L1303.8 2229.5L1301 2234.8L1298.2 2229.5L1295.3 2235L1292.3 2229.5L1289.3 2235.1L1286.3 2229.5L1283.2 2235.3L1280.1 2229.5L1276.9 2235.5L1273.7 2229.5L1270.3 2235.8L1267 2229.5L1263.5 2236L1260 2229.5L1256.4 2236.3L1252.8 2229.5L1249.1 2236.5L1245.3 2229.5L1241.4 2236.8L1237.5 2229.5L1233.4 2237.2L1229.4 2229.5L1225.1 2237.5L1220.8 2229.5L1216.3 2237.9L1211.9 2229.5L1207.1 2238.3L1202.4 2229.5L1197.5 2238.8L1192.5 2229.5L1187.3 2239.3L1182 2229.5L1176.4 2239.9L1170.9 2229.5L1164.9 2240.6L1159 2229.5L1152.7 2241.4L1146.3 2229.5L1139.5 2242.3L1132.7 2229.5L1125.4 2243.3L1118 2229.5L1110 2244.5L1102.1 2229.5L1094.1 2244.5L2140.1 2244.5L2132.1 2229.5L1861.8 2229.8L1861.7 2229.5L1861.5 2229.8L1861.4 2229.5L1861.3 2229.8L1861.1 2229.5L1861 2229.8L1860.9 2229.5L1860.7 2229.8L1860.6 2229.5L1860.5 2229.8L1860.3 2229.5L1860.2 2229.8L1860.1 2229.5L1859.9 2229.8L1859.8 2229.5L1859.7 2229.8L1859.5 2229.5L1859.4 2229.8L1859.2 2229.5L1859.1 2229.8L1859 2229.5L1858.8 2229.8L1858.7 2229.5L1858.6 2229.8L1858.4 2229.5L1858.3 2229.8L1858.2 2229.5L1858 2229.8L1857.9 2229.5L1857.8 2229.8L1857.6 2229.5L1857.5 2229.8L1857.3 2229.5L1857.2 2229.8L1857.1 2229.5L1856.9 2229.8L1856.8 2229.5L1856.7 2229.8L1856.5 2229.5L1856.4 2229.8L1856.2 2229.5L1856.1 2229.8L1856 2229.5L1855.8 2229.8L1855.7 2229.5L1855.6 2229.8L1855.4 2229.5L1855.3 2229.8L1855.1 2229.5L1855 2229.8L1854.9 2229.5L1854.7 2229.8L1854.6 2229.5L1854.5 2229.8L1854.3 2229.5L1854.2 2229.8L1854 2229.5L1853.9 2229.8L1853.8 2229.5L1853.6 2229.8L1853.5 2229.5L1853.3 2229.8L1853.2 2229.5L1853.1 2229.8L1852.9 2229.5L1852.8 2229.8L1852.6 2229.5L1852.5 2229.8L1852.4 2229.5L1852.2 2229.8L1852.1 2229.5L1851.9 2229.8L1851.8 2229.5L1851.7 2229.8L1851.5 2229.5L1851.4 2229.8L1851.2 2229.5L1851.1 2229.8L1850.9 2229.5L1850.8 2229.8L1850.7 2229.5L1850.5 2229.8L1850.4 2229.5L1850.2 2229.8L1850.1 2229.5L1850 2229.8L1849.8 2229.5L1849.7 2229.8L1849.5 2229.5L1849.4 2229.8L1849.2 2229.5L1849.1 2229.8L1849 2229.5L1848.8 2229.8L1848.7 2229.5L1848.5 2229.8L1848.4 2229.5L1848.2 2229.8L1848.1 2229.5L1848 2229.8L1847.8 2229.5L1847.7 2229.8L1847.5 2229.5L1847.4 2229.8L1847.2 2229.5L1847.1 2229.8L1846.9 2229.5L1846.8 2229.8L1846.7 2229.5L1846.5 2229.8L1846.4 2229.5L1846.2 2229.8L1846.1 2229.5L1845.9 2229.8L1845.8 2229.5L1845.6 2229.8L1845.5 2229.5L1845.3 2229.8L1845.2 2229.5L1845.1 2229.8L1844.9 2229.5L1844.8 2229.8L1844.6 2229.5L1844.5 2229.8L1844.3 2229.5L1844.2 2229.8L1844 2229.5L1843.9 2229.8L1843.7 2229.5L1843.6 2229.8L1843.4 2229.5L1843.3 2229.8L1843.1 2229.5L1843 2229.8L1842.8 2229.5L1842.7 2229.8L1842.6 2229.5L1842.4 2229.8L1842.3 2229.5L1842.1 2229.8L1842 2229.5L1841.8 2229.8L1841.7 2229.5L1841.5 2229.8L1841.4 2229.5L1841.2 2229.8L1841.1 2229.5L1840.9 2229.8L1840.8 2229.5L1840.6 2229.8L1840.5 2229.5L1840.3 2229.8L1840.2 2229.5L1840 2229.8L1839.9 2229.5L1839.7 2229.8L1839.6 2229.5L1839.4 2229.8L1839.3 2229.5L1839.1 2229.8L1839 2229.5L1838.8 2229.8L1838.7 2229.5L1838.5 2229.8L1838.4 2229.5L1838.2 2229.8L1838.1 2229.5L1837.9 2229.8L1837.8 2229.5L1837.6 2229.8L1837.4 2229.5L1837.3 2229.8L1837.1 2229.5L1837 2229.8L1836.8 2229.5L1836.7 2229.8L1836.5 2229.5L1836.4 2229.8L1836.2 2229.5L1836.1 2229.8L1835.9 2229.5L1835.8 2229.8L1835.6 2229.5L1835.5 2229.8L1835.3 2229.5L1835.1 2229.8L1835 2229.5L1834.8 2229.8L1834.7 2229.5L1834.5 2229.8L1834.4 2229.5L1834.2 2229.8L1834.1 2229.5L1833.9 2229.8L1833.8 2229.5L1833.6 2229.8L1833.4 2229.5L1833.3 2229.8L1833.1 2229.5L1833 2229.8L1832.8 2229.5L1832.7 2229.8L1832.5 2229.5L1832.4 2229.8L1832.2 2229.5L1832 2229.8L1831.9 2229.5L1831.7 2229.8L1831.6 2229.5L1831.4 2229.8L1831.3 2229.5L1831.1 2229.8L1830.9 2229.5L1830.8 2229.8L1830.6 2229.5L1830.5 2229.8L1830.3 2229.5L1830.1 2229.8L1830 2229.5L1829.8 2229.8L1829.7 2229.5L1829.5 2229.8L1829.4 2229.5L1829.2 2229.8L1829 2229.5L1828.9 2229.8L1828.7 2229.5L1828.6 2229.8L1828.4 2229.5L1828.2 2229.8L1828.1 2229.5L1827.9 2229.8L1827.8 2229.5L1827.6 2229.8L1827.4 2229.5L1827.3 2229.8L1827.1 2229.5L1826.9 2229.8L1826.8 2229.5L1826.6 2229.8L1826.5 2229.5L1826.3 2229.8L1826.1 2229.5L1826 2229.8L1825.8 2229.5L1825.7 2229.8L1825.5 2229.5L1825.3 2229.8L1825.2 2229.5L1825 2229.8L1824.8 2229.5L1824.7 2229.8L1824.5 2229.5L1824.3 2229.8L1824.2 2229.5L1824 2229.8L1823.9 2229.5L1823.7 2229.8L1823.5 2229.5L1823.4 2229.8L1823.2 2229.5L1823 2229.8L1822.9 2229.5L1822.7 2229.8L1822.5 2229.5L1822.4 2229.8L1822.2 2229.5L1822 2229.8L1821.9 2229.5L1821.7 2229.8L1821.5 2229.5L1821.4 2229.8L1821.2 2229.5L1821 2229.8L1820.9 2229.5L1820.7 2229.8L1820.5 2229.5L1820.4 2229.8L1820.2 2229.5L1820 2229.8L1819.9 2229.5L1819.7 2229.8L1819.5 2229.5L1819.4 2229.8L1819.2 2229.5L1819 2229.8L1818.9 2229.5L1818.7 2229.8L1818.5 2229.5L1818.4 2229.8L1818.2 2229.5L1818 2229.8L1817.9 2229.5L1817.7 2229.8L1817.5 2229.5L1817.3 2229.8L1817.2 2229.5L1817 2229.8L1816.8 2229.5L1816.7 2229.8L1816.5 2229.5L1816.3 2229.8L1816.2 2229.5L1816 2229.8L1815.8 2229.5L1815.6 2229.8L1815.5 2229.5L1815.3 2229.8L1815.1 2229.5L1815 2229.8L1814.8 2229.5L1814.6 2229.8L1814.4 2229.5L1814.3 2229.8L1814.1 2229.5L1813.9 2229.8L1813.7 2229.5L1813.6 2229.8L1813.4 2229.5L1813.2 2229.8L1813.1 2229.5L1812.9 2229.8L1812.7 2229.5L1812.5 2229.8L1812.4 2229.5L1812.2 2229.8L1812 2229.5L1811.8 2229.8L1811.7 2229.5L1811.5 2229.8L1811.3 2229.5L1811.1 2229.8L1811 2229.5L1810.8 2229.8L1810.6 2229.5L1810.4 2229.8L1810.2 2229.5L1810.1 2229.8L1809.9 2229.5L1809.7 2229.8L1809.5 2229.5L1809.4 2229.8L1809.2 2229.5L1809 2229.8L1808.8 2229.5L1808.7 2229.8L1808.5 2229.5L1808.3 2229.8L1808.1 2229.5L1807.9 2229.8L1807.8 2229.5L1807.6 2229.8L1807.4 2229.5L1807.2 2229.8L1807 2229.5L1806.9 2229.8L1806.7 2229.5L1806.5 2229.8L1806.3 2229.5L1806.1 2229.8L1806 2229.5L1805.8 2229.8L1805.6 2229.5L1805.4 2229.8L1805.2 2229.5L1805.1 2229.8L1804.9 2229.5L1804.7 2229.8L1804.5 2229.5L1804.3 2229.8L1804.1 2229.5L1804 2229.8L1803.8 2229.5L1803.6 2229.8L1803.4 2229.5L1803.2 2229.8L1803 2229.5L1802.9 2229.8L1802.7 2229.5L1802.5 2229.8L1802.3 2229.5L1802.1 2229.8L1801.9 2229.5L1801.8 2229.8L1801.6 2229.5L1801.4 2229.8L1801.2 2229.5L1801 2229.8L1800.8 2229.5L1800.6 2229.8L1800.5 2229.5L1800.3 2229.8L1800.1 2229.5L1799.9 2229.9L1799.7 2229.5L1799.5 2229.9L1799.3 2229.5L1799.1 2229.9L1799 2229.5L1798.8 2229.9L1798.6 2229.5L1798.4 2229.9L1798.2 2229.5L1798 2229.9L1797.8 2229.5L1797.6 2229.9L1797.5 2229.5L1797.3 2229.9L1797.1 2229.5L1796.9 2229.9L1796.7 2229.5L1796.5 2229.9L1796.3 2229.5L1796.1 2229.9L1795.9 2229.5L1795.7 2229.9L1795.5 2229.5L1795.4 2229.9L1795.2 2229.5L1795 2229.9L1794.8 2229.5L1794.6 2229.9L1794.4 2229.5L1794.2 2229.9L1794 2229.5L1793.8 2229.9L1793.6 2229.5L1793.4 2229.9L1793.2 2229.5L1793 2229.9L1792.8 2229.5L1792.7 2229.9L1792.5 2229.5L1792.3 2229.9L1792.1 2229.5L1791.9 2229.9L1791.7 2229.5L1791.5 2229.9L1791.3 2229.5L1791.1 2229.9L1790.9 2229.5L1790.7 2229.9L1790.5 2229.5L1790.3 2229.9L1790.1 2229.5L1789.9 2229.9L1789.7 2229.5L1789.5 2229.9L1789.3 2229.5L1789.1 2229.9L1788.9 2229.5L1788.7 2229.9L1788.5 2229.5L1788.3 2229.9L1788.1 2229.5L1787.9 2229.9L1787.7 2229.5L1787.5 2229.9L1787.3 2229.5L1787.1 2229.9L1786.9 2229.5L1786.7 2229.9L1786.5 2229.5L1786.3 2229.9L1786.1 2229.5L1785.9 2229.9L1785.7 2229.5L1785.5 2229.9L1785.3 2229.5L1785.1 2229.9L1784.9 2229.5L1784.7 2229.9L1784.5 2229.5L1784.3 2229.9L1784.1 2229.5L1783.9 2229.9L1783.7 2229.5L1783.5 2229.9L1783.3 2229.5L1783.1 2229.9L1782.9 2229.5L1782.7 2229.9L1782.5 2229.5L1782.3 2229.9L1782.1 2229.5L1781.8 2229.9L1781.6 2229.5L1781.4 2229.9L1781.2 2229.5L1781 2229.9L1780.8 2229.5L1780.6 2229.9L1780.4 2229.5L1780.2 2229.9L1780 2229.5L1779.8 2229.9L1779.6 2229.5L1779.4 2229.9L1779.1 2229.5L1778.9 2229.9L1778.7 2229.5L1778.5 2229.9L1778.3 2229.5L1778.1 2229.9L1777.9 2229.5L1777.7 2229.9L1777.5 2229.5L1777.3 2229.9L1777 2229.5L1776.8 2229.9L1776.6 2229.5L1776.4 2229.9L1776.2 2229.5L1776 2229.9L1775.8 2229.5L1775.6 2229.9L1775.3 2229.5L1775.1 2229.9L1774.9 2229.5L1774.7 2229.9L1774.5 2229.5L1774.3 2229.9L1774.1 2229.5L1773.8 2229.9L1773.6 2229.5L1773.4 2229.9L1773.2 2229.5L1773 2229.9L1772.8 2229.5L1772.5 2229.9L1772.3 2229.5L1772.1 2229.9L1771.9 2229.5L1771.7 2229.9L1771.5 2229.5L1771.2 2229.9L1771 2229.5L1770.8 2229.9L1770.6 2229.5L1770.4 2229.9L1770.1 2229.5L1769.9 2229.9L1769.7 2229.5L1769.5 2229.9L1769.3 2229.5L1769 2229.9L1768.8 2229.5L1768.6 2229.9L1768.4 2229.5L1768.2 2229.9L1767.9 2229.5L1767.7 2229.9L1767.5 2229.5L1767.3 2229.9L1767 2229.5L1766.8 2229.9L1766.6 2229.5L1766.4 2229.9L1766.1 2229.5L1765.9 2229.9L1765.7 2229.5L1765.5 2229.9L1765.2 2229.5L1765 2229.9L1764.8 2229.5L1764.6 2229.9L1764.3 2229.5L1764.1 2229.9L1763.9 2229.5L1763.7 2229.9L1763.4 2229.5L1763.2 2229.9L1763 2229.5L1762.7 2229.9L1762.5 2229.5L1762.3 2229.9L1762.1 2229.5L1761.8 2229.9L1761.6 2229.5L1761.4 2229.9L1761.1 2229.5L1760.9 2229.9L1760.7 2229.5L1760.4 2229.9L1760.2 2229.5L1760 2229.9L1759.8 2229.5L1759.5 2229.9L1759.3 2229.5L1759.1 2229.9L1758.8 2229.5L1758.6 2229.9L1758.4 2229.5L1758.1 2229.9L1757.9 2229.5L1757.6 2229.9L1757.4 2229.5L1757.2 2229.9L1756.9 2229.5L1756.7 2229.9L1756.5 2229.5L1756.2 2229.9L1756 2229.5L1755.8 2229.9L1755.5 2229.5L1755.3 2229.9L1755 2229.5L1754.8 2229.9L1754.6 2229.5L1754.3 2229.9L1754.1 2229.5L1753.8 2230L1753.6 2229.5L1753.4 2230L1753.1 2229.5L1752.9 2230L1752.6 2229.5L1752.4 2230L1752.2 2229.5L1751.9 2230L1751.7 2229.5L1751.4 2230L1751.2 2229.5L1750.9 2230L1750.7 2229.5L1750.5 2230L1750.2 2229.5L1750 2230L1749.7 2229.5L1749.5 2230L1749.2 2229.5L1749 2230L1748.7 2229.5L1748.5 2230L1748.2 2229.5L1748 2230L1747.7 2229.5L1747.5 2230L1747.2 2229.5L1747 2230L1746.7 2229.5L1746.5 2230L1746.2 2229.5L1746 2230L1745.7 2229.5L1745.5 2230L1745.2 2229.5L1745 2230L1744.7 2229.5L1744.5 2230L1744.2 2229.5L1744 2230L1743.7 2229.5L1743.5 2230L1743.2 2229.5L1743 2230L1742.7 2229.5L1742.5 2230L1742.2 2229.5L1741.9 2230L1741.7 2229.5L1741.4 2230L1741.2 2229.5L1740.9 2230L1740.7 2229.5L1740.4 2230L1740.1 2229.5L1739.9 2230L1739.6 2229.5L1739.4 2230L1739.1 2229.5L1738.8 2230L1738.6 2229.5L1738.3 2230L1738.1 2229.5L1737.8 2230L1737.5 2229.5L1737.3 2230L1737 2229.5L1736.7 2230L1736.5 2229.5L1736.2 2230L1736 2229.5L1735.7 2230L1735.4 2229.5L1735.2 2230L1734.9 2229.5L1734.6 2230L1734.4 2229.5L1734.1 2230L1733.8 2229.5L1733.6 2230L1733.3 2229.5L1733 2230L1732.8 2229.5L1732.5 2230L1732.2 2229.5L1731.9 2230L1731.7 2229.5L1731.4 2230L1731.1 2229.5L1730.9 2230L1730.6 2229.5L1730.3 2230L1730 2229.5L1729.8 2230L1729.5 2229.5L1729.2 2230L1728.9 2229.5L1728.7 2230L1728.4 2229.5L1728.1 2230L1727.8 2229.5L1727.6 2230L1727.3 2229.5L1727 2230L1726.7 2229.5L1726.5 2230L1726.2 2229.5L1725.9 2230L1725.6 2229.5L1725.3 2230L1725.1 2229.5L1724.8 2230L1724.5 2229.5L1724.2 2230L1723.9 2229.5L1723.6 2230L1723.4 2229.5L1723.1 2230L1722.8 2229.5L1722.5 2230L1722.2 2229.5L1721.9 2230L1721.7 2229.5L1721.4 2230L1721.1 2229.5L1720.8 2230L1720.5 2229.5L1720.2 2230L1719.9 2229.5L1719.6 2230L1719.3 2229.5L1719.1 2230L1718.8 2229.5L1718.5 2230L1718.2 2229.5L1717.9 2230L1717.6 2229.5L1717.3 2230L1717 2229.5L1716.7 2230.1L1716.4 2229.5L1716.1 2230.1L1715.8 2229.5L1715.5 2230.1L1715.2 2229.5L1715 2230.1L1714.7 2229.5L1714.4 2230.1L1714.1 2229.5L1713.8 2230.1L1713.5 2229.5L1713.2 2230.1L1712.9 2229.5L1712.6 2230.1L1712.3 2229.5L1712 2230.1L1711.7 2229.5L1711.4 2230.1L1711.1 2229.5L1710.7 2230.1L1710.4 2229.5L1710.1 2230.1L1709.8 2229.5L1709.5 2230.1L1709.2 2229.5L1708.9 2230.1L1708.6 2229.5L1708.3 2230.1L1708 2229.5L1707.7 2230.1L1707.4 2229.5L1707.1 2230.1L1706.8 2229.5L1706.4 2230.1L1706.1 2229.5L1705.8 2230.1L1705.5 2229.5L1705.2 2230.1L1704.9 2229.5L1704.6 2230.1L1704.3 2229.5L1703.9 2230.1L1703.6 2229.5L1703.3 2230.1L1703 2229.5L1702.7 2230.1L1702.4 2229.5L1702 2230.1L1701.7 2229.5L1701.4 2230.1L1701.1 2229.5L1700.8 2230.1L1700.4 2229.5L1700.1 2230.1L1699.8 2229.5L1699.5 2230.1L1699.2 2229.5L1698.8 2230.1L1698.5 2229.5L1698.2 2230.1L1697.9 2229.5L1697.5 2230.1L1697.2 2229.5L1696.9 2230.1L1696.6 2229.5L1696.2 2230.1L1695.9 2229.5L1695.6 2230.1L1695.2 2229.5L1694.9 2230.1L1694.6 2229.5L1694.2 2230.1L1693.9 2229.5L1693.6 2230.1L1693.2 2229.5L1692.9 2230.1L1692.6 2229.5L1692.2 2230.1L1691.9 2229.5L1691.6 2230.1L1691.2 2229.5L1690.9 2230.1L1690.6 2229.5L1690.2 2230.1L1689.9 2229.5L1689.5 2230.1L1689.2 2229.5L1688.9 2230.1L1688.5 2229.5L1688.2 2230.1L1687.8 2229.5L1687.5 2230.1L1687.1 2229.5L1686.8 2230.1L1686.4 2229.5L1686.1 2230.2L1685.7 2229.5L1685.4 2230.2L1685 2229.5L1684.7 2230.2L1684.3 2229.5L1684 2230.2L1683.6 2229.5L1683.3 2230.2L1682.9 2229.5L1682.6 2230.2L1682.2 2229.5L1681.9 2230.2L1681.5 2229.5L1681.2 2230.2L1680.8 2229.5L1680.5 2230.2L1680.1 2229.5L1679.7 2230.2L1679.4 2229.5L1679 2230.2L1678.7 2229.5L1678.3 2230.2L1677.9 2229.5L1677.6 2230.2L1677.2 2229.5L1676.8 2230.2L1676.5 2229.5L1676.1 2230.2L1675.7 2229.5L1675.4 2230.2L1675 2229.5L1674.6 2230.2L1674.3 2229.5L1673.9 2230.2L1673.5 2229.5L1673.1 2230.2L1672.8 2229.5L1672.4 2230.2L1672 2229.5L1671.7 2230.2L1671.3 2229.5L1670.9 2230.2L1670.5 2229.5L1670.1 2230.2L1669.8 2229.5L1669.4 2230.2L1669 2229.5L1668.6 2230.2L1668.2 2229.5L1667.9 2230.2L1667.5 2229.5L1667.1 2230.2L1666.7 2229.5L1666.3 2230.2L1665.9 2229.5L1665.5 2230.2L1665.2 2229.5L1664.8 2230.2L1664.4 2229.5L1664 2230.2L1663.6 2229.5L1663.2 2230.2L1662.8 2229.5L1662.4 2230.2L1662 2229.5L1661.6 2230.2L1661.2 2229.5L1660.8 2230.2L1660.4 2229.5L1660 2230.3L1659.6 2229.5L1659.2 2230.3L1658.8 2229.5L1658.4 2230.3L1658 2229.5L1657.6 2230.3L1657.2 2229.5L1656.8 2230.3L1656.4 2229.5L1656 2230.3L1655.6 2229.5L1655.2 2230.3L1654.7 2229.5L1654.3 2230.3L1653.9 2229.5L1653.5 2230.3L1653.1 2229.5L1652.7 2230.3L1652.3 2229.5L1651.8 2230.3L1651.4 2229.5L1651 2230.3L1650.6 2229.5L1650.2 2230.3L1649.7 2229.5L1649.3 2230.3L1648.9 2229.5L1648.5 2230.3L1648 2229.5L1647.6 2230.3L1647.2 2229.5L1646.8 2230.3L1646.3 2229.5L1645.9 2230.3L1645.5 2229.5L1645 2230.3L1644.6 2229.5L1644.2 2230.3L1643.7 2229.5L1643.3 2230.3L1642.8 2229.5L1642.4 2230.3L1642 2229.5L1641.5 2230.3L1641.1 2229.5L1640.6 2230.3L1640.2 2229.5L1639.7 2230.3L1639.3 2229.5L1638.8 2230.3L1638.4 2229.5L1637.9 2230.3L1637.5 2229.5L1637 2230.4L1636.6 2229.5L1636.1 2230.4L1635.7 2229.5L1635.2 2230.4L1634.8 2229.5L1634.3 2230.4L1633.8 2229.5L1633.4 2230.4L1632.9 2229.5L1632.4 2230.4L1632 2229.5L1631.5 2230.4L1631 2229.5L1630.6 2230.4L1630.1 2229.5L1629.6 2230.4L1629.2 2229.5L1628.7 2230.4L1628.2 2229.5L1627.7 2230.4L1627.3 2229.5L1626.8 2230.4L1626.3 2229.5L1625.8 2230.4L1625.3 2229.5L1624.9 2230.4L1624.4 2229.5L1623.9 2230.4L1623.4 2229.5L1622.9 2230.4L1622.4 2229.5L1621.9 2230.4L1621.4 2229.5L1620.9 2230.4L1620.4 2229.5L1619.9 2230.4L1619.4 2229.5L1618.9 2230.4L1618.4 2229.5L1617.9 2230.4L1617.4 2229.5L1616.9 2230.4L1616.4 2229.5L1615.9 2230.5L1615.4 2229.5L1614.9 2230.5L1614.4 2229.5L1613.9 2230.5L1613.4 2229.5L1612.8 2230.5L1612.3 2229.5L1611.8 2230.5L1611.3 2229.5L1610.8 2230.5L1610.2 2229.5L1609.7 2230.5L1609.2 2229.5L1608.6 2230.5L1608.1 2229.5L1607.6 2230.5L1607.1 2229.5L1606.5 2230.5L1606 2229.5L1605.4 2230.5L1604.9 2229.5L1604.4 2230.5L1603.8 2229.5L1603.3 2230.5L1602.7 2229.5L1602.2 2230.5L1601.6 2229.5L1601.1 2230.5L1600.5 2229.5L1600 2230.5L1599.4 2229.5L1598.9 2230.5L1598.3 2229.5L1597.7 2230.6L1597.2 2229.5L1596.6 2230.6L1596.1 2229.5L1595.5 2230.6L1594.9 2229.5L1594.3 2230.6L1593.8 2229.5L1593.2 2230.6L1592.6 2229.5L1592 2230.6L1591.5 2229.5L1590.9 2230.6L1590.3 2229.5L1589.7 2230.6L1589.1 2229.5L1588.5 2230.6L1587.9 2229.5L1587.3 2230.6L1586.8 2229.5L1586.2 2230.6L1585.6 2229.5L1585 2230.6L1584.4 2229.5L1583.7 2230.6L1583.1 2229.5L1582.5 2230.6L1581.9 2229.5L1581.3 2230.7L1580.7 2229.5L1580.1 2230.7L1579.5 2229.5L1578.8 2230.7L1578.2 2229.5L1577.6 2230.7L1577 2229.5L1576.3 2230.7L1575.7 2229.5L1575.1 2230.7L1574.4 2229.5L1573.8 2230.7L1573.1 2229.5L1572.5 2230.7L1571.9 2229.5L1571.2 2230.7L1570.6 2229.5L1569.9 2230.7L1569.2 2229.5L1568.6 2230.7L1567.9 2229.5L1567.3 2230.7L1566.6 2229.5L1565.9 2230.8L1565.3 2229.5L1564.6 2230.8L1563.9 2229.5L1563.2 2230.8L1562.6 2229.5L1561.9 2230.8L1561.2 2229.5L1560.5 2230.8L1559.8 2229.5L1559.1 2230.8L1558.4 2229.5L1557.7 2230.8L1557 2229.5L1556.3 2230.8L1555.6 2229.5L1554.9 2230.8L1554.2 2229.5L1553.5 2230.8L1552.8 2229.5L1552.1 2230.9L1551.3 2229.5L1550.6 2230.9L1549.9 2229.5L1549.2 2230.9L1548.4 2229.5L1547.7 2230.9L1547 2229.5L1546.2 2230.9L1545.5 2229.5L1544.7 2230.9L1544 2229.5L1543.2 2230.9L1542.5 2229.5L1541.7 2230.9L1540.9 2229.5L1540.2 2230.9L1539.4 2229.5L1538.6 2231L1537.8 2229.5L1537.1 2231L1536.3 2229.5L1535.5 2231L1534.7 2229.5L1533.9 2231L1533.1 2229.5L1532.3 2231L1531.5 2229.5L1530.7 2231L1529.9 2229.5L1529.1 2231L1528.3 2229.5L1527.4 2231L1526.6 2229.5L1525.8 2231.1L1525 2229.5L1524.1 2231.1L1523.3 2229.5L1522.4 2231.1L1521.6 2229.5L1520.7 2231.1L1519.9 2229.5L1519 2231.1L1518.2 2229.5L1517.3 2231.1L1516.4 2229.5L1515.5 2231.1L1514.7 2229.5ZM863.4 2229.5L855.4 2244.5L871.4 2244.5ZM358.1 2244.5L374.1 2244.5L366.1 2229.5ZM432.5 2244.5L448.5 2244.5L440.5 2229.5ZM493.4 2229.5L485.4 2244.5L501.4 2244.5ZM526.3 2244.5L542.3 2244.5L534.3 2229.5ZM559.8 2244.5L575.8 2244.5L567.8 2229.5ZM596.1 2229.5L588.1 2244.5L604.1 2244.5ZM612.7 2244.5L628.7 2244.5L620.7 2229.5ZM634.3 2244.5L650.3 2244.5L642.3 2229.5ZM661.6 2229.5L653.6 2244.5L669.6 2244.5ZM781 2244.5L797 2244.5L789 2229.5ZM916.3 2229.5L908.3 2244.5L924.3 2244.5ZM949.2 2244.5L965.2 2244.5L957.2 2229.5ZM982.7 2244.5L998.7 2244.5L990.7 2229.5ZM1019 2229.5L1011 2244.5L1027 2244.5ZM1035.6 2244.5L1051.6 2244.5L1043.6 2229.5ZM1057.2 2244.5L1073.2 2244.5L1065.2 2229.5ZM1084.5 2229.5L1076.5 2244.5L1092.5 2244.5ZM238.8 2229.5L230.8 2244.5L246.8 2244.5Z" fill="#FFC000"/>
<path d="M1579.7 1979.8L1579.7 1980.4L1578.6 1980.4L1578.6 1981L1577.4 1981L1577.4 1981.6L1576.2 1981.6L1576.2 1982.3L1574.9 1982.3L1574.9 1982.9L1573.7 1982.9L1573.7 1983.5L1572.5 1983.5L1572.5 1984.1L1571.3 1984.1L1571.3 1984.7L1570 1984.7L1570 1985.4L1568.8 1985.4L1568.8 1986L1567.5 1986L1567.5 1986.6L1566.2 1986.6L1566.2 1987.3L1564.9 1987.3L1564.9 1987.9L1563.7 1987.9L1563.7 1988.6L1562.4 1988.6L1562.4 1989.2L1561 1989.2L1561 1989.9L1559.7 1989.9L1559.7 1990.5L1558.4 1990.5L1558.4 1991.2L1557.1 1991.2L1557.1 1991.8L1555.7 1991.8L1555.7 1992.5L1554.4 1992.5L1554.4 1993.2L1553 1993.2L1553 1993.8L1551.6 1993.8L1551.6 1994.5L1550.2 1994.5L1550.2 1995.2L1548.8 1995.2L1548.8 1995.8L1547.4 1995.8L1547.4 1996.5L1546 1996.5L1546 1997.2L1544.6 1997.2L1544.6 1997.9L1543.1 1997.9L1543.1 1998.6L1541.7 1998.6L1541.7 1999.2L1540.2 1999.2L1540.2 1999.9L1538.8 1999.9L1538.8 2000.6L1537.3 2000.6L1537.3 2001.3L1535.8 2001.3L1535.8 2002L1534.3 2002L1534.3 2002.7L1532.7 2002.7L1532.7 2003.4L1531.2 2003.4L1531.2 2004.1L1529.6 2004.1L1529.6 2004.8L1528.1 2004.8L1528.1 2005.5L1526.5 2005.5L1526.5 2006.2L1524.9 2006.2L1524.9 2006.9L1523.3 2006.9L1523.3 2007.6L1521.7 2007.6L1521.7 2008.3L1520.1 2008.3L1520.1 2009L1518.4 2009L1518.4 2009.8L1516.8 2009.8L1516.8 2010.5L1515.1 2010.5L1515.1 2011.2L1513.4 2011.2L1513.4 2012L1511.7 2012L1511.7 2012.7L1510 2012.7L1510 2013.5L1508.2 2013.5L1508.2 2014.2L1506.5 2014.2L1506.5 2015L1504.7 2015L1504.7 2015.7L1502.9 2015.7L1502.9 2016.5L1501.1 2016.5L1501.1 2017.3L1499.2 2017.3L1499.2 2018L1497.4 2018L1497.4 2018.8L1495.5 2018.8L1495.5 2019.6L1493.7 2019.6L1493.7 2020.4L1491.8 2020.4L1491.8 2021.2L1489.8 2021.2L1489.8 2022L1487.9 2022L1487.9 2022.8L1485.9 2022.8L1485.9 2023.6L1483.9 2023.6L1483.9 2024.5L1481.9 2024.5L1481.9 2025.3L1479.9 2025.3L1479.9 2026.1L1477.8 2026.1L1477.8 2027L1475.8 2027L1475.8 2027.8L1473.7 2027.8L1473.7 2028.7L1471.5 2028.7L1471.5 2029.6L1469.4 2029.6L1469.4 2030.4L1467.2 2030.4L1467.2 2031.3L1465 2031.3L1465 2032.2L1462.8 2032.2L1462.8 2033.1L1460.5 2033.1L1460.5 2034L1458.3 2034L1458.3 2034.9L1456 2034.9L1456 2035.9L1453.6 2035.9L1453.6 2036.8L1451.2 2036.8L1451.2 2037.8L1448.8 2037.8L1448.8 2038.7L1446.4 2038.7L1446.4 2039.7L1443.9 2039.7L1443.9 2040.7L1441.4 2040.7L1441.4 2041.7L1438.9 2041.7L1438.9 2042.7L1436.3 2042.7L1436.3 2043.7L1433.7 2043.7L1433.7 2044.7L1431.1 2044.7L1431.1 2045.8L1428.4 2045.8L1428.4 2046.8L1425.7 2046.8L1425.7 2047.9L1422.9 2047.9L1422.9 2049L1420.1 2049L1420.1 2050.1L1417.3 2050.1L1417.3 2051.2L1414.4 2051.2L1414.4 2052.4L1411.5 2052.4L1411.5 2053.5L1408.5 2053.5L1408.5 2054.7L1405.4 2054.7L1405.4 2055.9L1402.3 2055.9L1402.3 2057.1L1399.2 2057.1L1399.2 2058.3L1396 2058.3L1396 2059.6L1392.8 2059.6L1392.8 2060.9L1389.4 2060.9L1389.4 2062.2L1386.1 2062.2L1386.1 2063.6L1382.6 2063.6L1382.6 2064.9L1379.1 2064.9L1379.1 2066.3L1375.6 2066.3L1375.6 2067.7L1371.9 2067.7L1371.9 2069.2L1368.2 2069.2L1368.2 2070.7L1364.4 2070.7L1364.4 2072.2L1360.6 2072.2L1360.6 2073.8L1356.6 2073.8L1356.6 2075.4L1352.6 2075.4L1352.6 2077L1348.5 2077L1348.5 2078.7L1344.2 2078.7L1344.2 2080.4L1339.9 2080.4L1339.9 2082.1L1335.5 2082.1L1335.5 2083.9L1331 2083.9L1331 2085.7L1326.3 2085.7L1326.3 2087.5L1321.5 2087.5L1321.5 2089.4L1316.6 2089.4L1316.6 2091.4L1311.6 2091.4L1311.6 2093.3L1306.4 2093.3L1306.4 2095.3L1301.1 2095.3L1301.1 2097.4L1295.6 2097.4L1295.6 2099.4L1290 2099.4L1290 2101.6L1284.1 2101.6L1284.1 2103.7L1278.1 2103.7L1278.1 2105.9L1271.9 2105.9L1271.9 2108.2L1265.5 2108.2L1265.5 2110.6L1258.8 2110.6L1258.8 2113L1251.8 2113L1251.8 2115.5L1244.6 2115.5L1244.6 2118.1L1237.1 2118.1L1237.1 2120.7L1229.3 2120.7L1229.3 2123.4L1221.2 2123.4L1221.2 2126.2L1212.6 2126.2L1212.6 2129.1L1203.7 2129.1L1203.7 2132.1L1194.2 2132.1L1194.2 2135.1L1184.3 2135.1L1184.3 2138.1L1173.8 2138.1L1173.8 2141.2L1162.7 2141.2L1162.7 2144.3L1150.8 2144.3L1150.8 2147.6L1138.1 2147.6L1138.1 2151L1124.5 2151L1124.5 2154.8L1109.8 2154.8L1109.8 2159.1L1093.9 2159.1L1093.9 2175.5L1110.3 2175.5L1110.3 2171.2L1126.2 2171.2L1126.2 2167.4L1140.9 2167.4L1140.9 2164L1154.5 2164L1154.5 2160.7L1167.2 2160.7L1167.2 2157.6L1179.1 2157.6L1179.1 2154.5L1190.2 2154.5L1190.2 2151.5L1200.7 2151.5L1200.7 2148.5L1210.6 2148.5L1210.6 2145.5L1220.1 2145.5L1220.1 2142.6L1229 2142.6L1229 2139.8L1237.6 2139.8L1237.6 2137.1L1245.7 2137.1L1245.7 2134.5L1253.5 2134.5L1253.5 2131.9L1261 2131.9L1261 2129.4L1268.2 2129.4L1268.2 2127L1275.2 2127L1275.2 2124.6L1281.9 2124.6L1281.9 2122.3L1288.3 2122.3L1288.3 2120.1L1294.5 2120.1L1294.5 2118L1300.5 2118L1300.5 2115.8L1306.4 2115.8L1306.4 2113.8L1312 2113.8L1312 2111.7L1317.5 2111.7L1317.5 2109.7L1322.8 2109.7L1322.8 2107.8L1328 2107.8L1328 2105.8L1333 2105.8L1333 2103.9L1337.9 2103.9L1337.9 2102.1L1342.7 2102.1L1342.7 2100.3L1347.4 2100.3L1347.4 2098.5L1351.9 2098.5L1351.9 2096.8L1356.3 2096.8L1356.3 2095.1L1360.6 2095.1L1360.6 2093.4L1364.9 2093.4L1364.9 2091.8L1369 2091.8L1369 2090.2L1373 2090.2L1373 2088.6L1377 2088.6L1377 2087.1L1380.8 2087.1L1380.8 2085.6L1384.6 2085.6L1384.6 2084.1L1388.3 2084.1L1388.3 2082.7L1392 2082.7L1392 2081.3L1395.5 2081.3L1395.5 2080L1399 2080L1399 2078.6L1402.5 2078.6L1402.5 2077.3L1405.8 2077.3L1405.8 2076L1409.2 2076L1409.2 2074.7L1412.4 2074.7L1412.4 2073.5L1415.6 2073.5L1415.6 2072.3L1418.7 2072.3L1418.7 2071.1L1421.8 2071.1L1421.8 2069.9L1424.9 2069.9L1424.9 2068.8L1427.9 2068.8L1427.9 2067.6L1430.8 2067.6L1430.8 2066.5L1433.7 2066.5L1433.7 2065.4L1436.5 2065.4L1436.5 2064.3L1439.3 2064.3L1439.3 2063.2L1442.1 2063.2L1442.1 2062.2L1444.8 2062.2L1444.8 2061.1L1447.5 2061.1L1447.5 2060.1L1450.1 2060.1L1450.1 2059.1L1452.7 2059.1L1452.7 2058.1L1455.3 2058.1L1455.3 2057.1L1457.8 2057.1L1457.8 2056.1L1460.3 2056.1L1460.3 2055.1L1462.8 2055.1L1462.8 2054.2L1465.2 2054.2L1465.2 2053.2L1467.6 2053.2L1467.6 2052.3L1470 2052.3L1470 2051.3L1472.4 2051.3L1472.4 2050.4L1474.7 2050.4L1474.7 2049.5L1476.9 2049.5L1476.9 2048.6L1479.2 2048.6L1479.2 2047.7L1481.4 2047.7L1481.4 2046.8L1483.6 2046.8L1483.6 2046L1485.8 2046L1485.8 2045.1L1487.9 2045.1L1487.9 2044.2L1490.1 2044.2L1490.1 2043.4L1492.2 2043.4L1492.2 2042.5L1494.2 2042.5L1494.2 2041.7L1496.3 2041.7L1496.3 2040.9L1498.3 2040.9L1498.3 2040L1500.3 2040L1500.3 2039.2L1502.3 2039.2L1502.3 2038.4L1504.3 2038.4L1504.3 2037.6L1506.2 2037.6L1506.2 2036.8L1508.2 2036.8L1508.2 2036L1510.1 2036L1510.1 2035.2L1511.9 2035.2L1511.9 2034.4L1513.8 2034.4L1513.8 2033.7L1515.6 2033.7L1515.6 2032.9L1517.5 2032.9L1517.5 2032.1L1519.3 2032.1L1519.3 2031.4L1521.1 2031.4L1521.1 2030.6L1522.9 2030.6L1522.9 2029.9L1524.6 2029.9L1524.6 2029.1L1526.4 2029.1L1526.4 2028.4L1528.1 2028.4L1528.1 2027.6L1529.8 2027.6L1529.8 2026.9L1531.5 2026.9L1531.5 2026.2L1533.2 2026.2L1533.2 2025.4L1534.8 2025.4L1534.8 2024.7L1536.5 2024.7L1536.5 2024L1538.1 2024L1538.1 2023.3L1539.7 2023.3L1539.7 2022.6L1541.3 2022.6L1541.3 2021.9L1542.9 2021.9L1542.9 2021.2L1544.5 2021.2L1544.5 2020.5L1546 2020.5L1546 2019.8L1547.6 2019.8L1547.6 2019.1L1549.1 2019.1L1549.1 2018.4L1550.7 2018.4L1550.7 2017.7L1552.2 2017.7L1552.2 2017L1553.7 2017L1553.7 2016.3L1555.2 2016.3L1555.2 2015.6L1556.6 2015.6L1556.6 2015L1558.1 2015L1558.1 2014.3L1559.5 2014.3L1559.5 2013.6L1561 2013.6L1561 2012.9L1562.4 2012.9L1562.4 2012.2L1563.8 2012.2L1563.8 2011.6L1565.2 2011.6L1565.2 2010.9L1566.6 2010.9L1566.6 2010.2L1568 2010.2L1568 2009.6L1569.4 2009.6L1569.4 2008.9L1570.8 2008.9L1570.8 2008.2L1572.1 2008.2L1572.1 2007.6L1573.5 2007.6L1573.5 2006.9L1574.8 2006.9L1574.8 2006.3L1576.1 2006.3L1576.1 2005.6L1577.4 2005.6L1577.4 2005L1578.8 2005L1578.8 2004.3L1580.1 2004.3L1580.1 2003.7L1581.3 2003.7L1581.3 2003L1582.6 2003L1582.6 2002.4L1583.9 2002.4L1583.9 2001.8L1585.2 2001.8L1585.2 2001.1L1586.4 2001.1L1586.4 2000.5L1587.7 2000.5L1587.7 1999.9L1588.9 1999.9L1588.9 1999.3L1590.1 1999.3L1590.1 1998.7L1591.3 1998.7L1591.3 1998L1592.6 1998L1592.6 1997.4L1593.8 1997.4L1593.8 1996.8L1595 1996.8L1595 1996.2L1596.1 1996.2L1596.1 1995.6L1597.3 1995.6L1597.3 1995L1598.5 1995L1598.5 1994.4L1599.7 1994.4L1599.7 1993.8L1600.8 1993.8L1600.8 1993.2L1602 1993.2L1602 1992.6L1603.1 1992.6L1603.1 1992.1L1604.3 1992.1L1604.3 1991.5L1605.4 1991.5L1605.4 1990.9L1606.5 1990.9L1606.5 1990.3L1607.6 1990.3L1607.6 1989.8L1608.7 1989.8L1608.7 1989.2L1609.8 1989.2L1609.8 1988.6L1610.9 1988.6L1610.9 1988.1L1612 1988.1L1612 1987.5L1613.1 1987.5L1613.1 1986.9L1614.2 1986.9L1614.2 1986.4L1615.3 1986.4L1615.3 1985.8L1616.3 1985.8L1616.3 1985.3L1617.4 1985.3L1617.4 1984.8L1618.4 1984.8L1618.4 1984.2L1619.5 1984.2L1619.5 1983.7L1620.5 1983.7L1620.5 1983.2L1621.6 1983.2L1621.6 1982.6L1622.6 1982.6L1622.6 1982.1L1623.6 1982.1L1623.6 1981.6L1624.6 1981.6L1624.6 1981.1L1625.6 1981.1L1625.6 1980.5L1626.6 1980.5L1626.6 1980L1627.6 1980L1627.6 1979.5L1628.6 1979.5L1628.6 1979L1629.6 1979L1629.6 1978.5L1630.6 1978.5L1630.6 1978L1631.6 1978L1631.6 1977.5L1632.6 1977.5L1632.6 1977L1633.5 1977L1633.5 1976.5L1634.5 1976.5L1634.5 1976L1635.5 1976L1635.5 1975.5L1636.4 1975.5L1636.4 1975.1L1637.4 1975.1L1637.4 1974.6L1638.3 1974.6L1638.3 1974.1L1639.2 1974.1L1639.2 1973.6L1640.2 1973.6L1640.2 1973.2L1641.1 1973.2L1641.1 1972.7L1642 1972.7L1642 1972.2L1643 1972.2L1643 1971.8L1643.9 1971.8L1643.9 1971.3L1644.8 1971.3L1644.8 1970.9L1645.7 1970.9L1645.7 1970.4L1646.6 1970.4L1646.6 1970L1647.5 1970L1647.5 1969.5L1648.4 1969.5L1648.4 1969.1L1649.3 1969.1L1649.3 1968.6L1650.2 1968.6L1650.2 1968.2L1651 1968.2L1651 1967.7L1651.9 1967.7L1651.9 1967.3L1652.8 1967.3L1652.8 1966.9L1653.7 1966.9L1653.7 1966.4L1654.5 1966.4L1654.5 1966L1655.4 1966L1655.4 1965.6L1656.2 1965.6L1656.2 1965.2L1657.1 1965.2L1657.1 1964.7L1657.9 1964.7L1657.9 1964.3L1658.8 1964.3L1658.8 1963.9L1659.6 1963.9L1659.6 1963.5L1660.5 1963.5L1660.5 1963.1L1661.3 1963.1L1661.3 1962.7L1662.1 1962.7L1662.1 1962.2L1662.9 1962.2L1662.9 1961.8L1663.8 1961.8L1663.8 1961.4L1664.6 1961.4L1664.6 1961L1665.4 1961L1665.4 1960.6L1666.2 1960.6L1666.2 1960.2L1667 1960.2L1667 1959.8L1667.8 1959.8L1667.8 1959.4L1668.6 1959.4L1668.6 1959L1669.4 1959L1669.4 1958.6L1670.2 1958.6L1670.2 1958.2L1671 1958.2L1671 1957.8L1671.8 1957.8L1671.8 1957.5L1672.6 1957.5L1672.6 1957.1L1673.4 1957.1L1673.4 1956.7L1674.1 1956.7L1674.1 1956.3L1674.9 1956.3L1674.9 1955.9L1675.7 1955.9L1675.7 1955.5L1676.4 1955.5L1676.4 1955.1L1677.2 1955.1L1677.2 1954.8L1678 1954.8L1678 1954.4L1678.7 1954.4L1678.7 1954L1679.5 1954L1679.5 1953.6L1680.2 1953.6L1680.2 1953.3L1681 1953.3L1681 1952.9L1681.7 1952.9L1681.7 1952.5L1682.5 1952.5L1682.5 1952.2L1683.2 1952.2L1683.2 1951.8L1683.9 1951.8L1683.9 1951.4L1684.7 1951.4L1684.7 1951.1L1685.4 1951.1L1685.4 1950.7L1686.1 1950.7L1686.1 1950.3L1686.9 1950.3L1686.9 1950L1687.6 1950L1687.6 1949.6L1688.3 1949.6L1688.3 1949.3L1689 1949.3L1689 1948.9L1689.7 1948.9L1689.7 1948.6L1690.4 1948.6L1690.4 1948.2L1691.1 1948.2L1691.1 1947.9L1691.8 1947.9L1691.8 1947.5L1692.5 1947.5L1692.5 1947.2L1693.2 1947.2L1693.2 1946.8L1693.9 1946.8L1693.9 1946.5L1694.6 1946.5L1694.6 1946.1L1695.3 1946.1L1695.3 1945.8L1696 1945.8L1696 1945.5L1696.7 1945.5L1696.7 1945.1L1697.4 1945.1L1697.4 1944.8L1698.1 1944.8L1698.1 1944.4L1698.8 1944.4L1698.8 1944.1L1699.4 1944.1L1699.4 1943.8L1700.1 1943.8L1700.1 1943.4L1700.8 1943.4L1700.8 1943.1L1701.4 1943.1L1701.4 1942.8L1702.1 1942.8L1702.1 1942.4L1702.8 1942.4L1702.8 1942.1L1703.4 1942.1L1703.4 1941.8L1704.1 1941.8L1704.1 1941.5L1704.8 1941.5L1704.8 1941.1L1705.4 1941.1L1705.4 1940.8L1706.1 1940.8L1706.1 1940.5L1706.7 1940.5L1706.7 1940.2L1707.4 1940.2L1707.4 1939.8L1708 1939.8L1708 1939.5L1708.6 1939.5L1708.6 1939.2L1709.3 1939.2L1709.3 1938.9L1709.9 1938.9L1709.9 1938.6L1710.6 1938.6L1710.6 1938.3L1711.2 1938.3L1711.2 1937.9L1711.8 1937.9L1711.8 1937.6L1712.5 1937.6L1712.5 1937.3L1713.1 1937.3L1713.1 1937L1713.7 1937L1713.7 1936.7L1714.3 1936.7L1714.3 1936.4L1715 1936.4L1715 1936.1L1715.6 1936.1L1715.6 1935.8L1716.2 1935.8L1716.2 1935.5L1716.8 1935.5L1716.8 1935.2L1717.4 1935.2L1717.4 1934.9L1718 1934.9L1718 1934.6L1718.6 1934.6L1718.6 1934.3L1719.3 1934.3L1719.3 1934L1719.9 1934L1719.9 1933.7L1720.5 1933.7L1720.5 1933.4L1721.1 1933.4L1721.1 1933.1L1721.7 1933.1L1721.7 1932.8L1722.3 1932.8L1722.3 1932.5L1722.9 1932.5L1722.9 1932.2L1723.4 1932.2L1723.4 1931.9L1724 1931.9L1724 1931.6L1724.6 1931.6L1724.6 1931.3L1725.2 1931.3L1725.2 1931L1725.8 1931L1725.8 1930.7L1726.4 1930.7L1726.4 1930.4L1727 1930.4L1727 1930.1L1727.5 1930.1L1727.5 1929.9L1728.1 1929.9L1728.1 1929.6L1728.7 1929.6L1728.7 1929.3L1729.3 1929.3L1729.3 1929L1729.9 1929L1729.9 1928.7L1730.4 1928.7L1730.4 1928.4L1761.8 1913.1L1866.6 1860.5L2005.1 1789.4L2140.3 1718.5L2140.3 1702.1L2123.9 1702.1L1998.2 1768.1L1865.4 1836.5L1761.9 1888.7L1715.7 1911.5L1715.7 1911.7L1715.2 1911.7L1715.2 1912L1714.6 1912L1714.6 1912.3L1714 1912.3L1714 1912.6L1713.5 1912.6L1713.5 1912.9L1712.9 1912.9L1712.9 1913.2L1712.3 1913.2L1712.3 1913.5L1711.7 1913.5L1711.7 1913.7L1711.1 1913.7L1711.1 1914L1710.6 1914L1710.6 1914.3L1710 1914.3L1710 1914.6L1709.4 1914.6L1709.4 1914.9L1708.8 1914.9L1708.8 1915.2L1708.2 1915.2L1708.2 1915.5L1707.6 1915.5L1707.6 1915.8L1707 1915.8L1707 1916.1L1706.5 1916.1L1706.5 1916.4L1705.9 1916.4L1705.9 1916.7L1705.3 1916.7L1705.3 1917L1704.7 1917L1704.7 1917.3L1704.1 1917.3L1704.1 1917.6L1703.5 1917.6L1703.5 1917.9L1702.9 1917.9L1702.9 1918.2L1702.2 1918.2L1702.2 1918.5L1701.6 1918.5L1701.6 1918.8L1701 1918.8L1701 1919.1L1700.4 1919.1L1700.4 1919.4L1699.8 1919.4L1699.8 1919.7L1699.2 1919.7L1699.2 1920L1698.6 1920L1698.6 1920.3L1697.9 1920.3L1697.9 1920.6L1697.3 1920.6L1697.3 1920.9L1696.7 1920.9L1696.7 1921.2L1696.1 1921.2L1696.1 1921.5L1695.4 1921.5L1695.4 1921.9L1694.8 1921.9L1694.8 1922.2L1694.2 1922.2L1694.2 1922.5L1693.5 1922.5L1693.5 1922.8L1692.9 1922.8L1692.9 1923.1L1692.2 1923.1L1692.2 1923.4L1691.6 1923.4L1691.6 1923.8L1691 1923.8L1691 1924.1L1690.3 1924.1L1690.3 1924.4L1689.7 1924.4L1689.7 1924.7L1689 1924.7L1689 1925.1L1688.4 1925.1L1688.4 1925.4L1687.7 1925.4L1687.7 1925.7L1687 1925.7L1687 1926L1686.4 1926L1686.4 1926.4L1685.7 1926.4L1685.7 1926.7L1685 1926.7L1685 1927L1684.4 1927L1684.4 1927.4L1683.7 1927.4L1683.7 1927.7L1683 1927.7L1683 1928L1682.4 1928L1682.4 1928.4L1681.7 1928.4L1681.7 1928.7L1681 1928.7L1681 1929.1L1680.3 1929.1L1680.3 1929.4L1679.6 1929.4L1679.6 1929.7L1678.9 1929.7L1678.9 1930.1L1678.2 1930.1L1678.2 1930.4L1677.5 1930.4L1677.5 1930.8L1676.8 1930.8L1676.8 1931.1L1676.1 1931.1L1676.1 1931.5L1675.4 1931.5L1675.4 1931.8L1674.7 1931.8L1674.7 1932.2L1674 1932.2L1674 1932.5L1673.3 1932.5L1673.3 1932.9L1672.6 1932.9L1672.6 1933.2L1671.9 1933.2L1671.9 1933.6L1671.2 1933.6L1671.2 1933.9L1670.5 1933.9L1670.5 1934.3L1669.7 1934.3L1669.7 1934.7L1669 1934.7L1669 1935L1668.3 1935L1668.3 1935.4L1667.5 1935.4L1667.5 1935.8L1666.8 1935.8L1666.8 1936.1L1666.1 1936.1L1666.1 1936.5L1665.3 1936.5L1665.3 1936.9L1664.6 1936.9L1664.6 1937.2L1663.8 1937.2L1663.8 1937.6L1663.1 1937.6L1663.1 1938L1662.3 1938L1662.3 1938.4L1661.6 1938.4L1661.6 1938.7L1660.8 1938.7L1660.8 1939.1L1660 1939.1L1660 1939.5L1659.3 1939.5L1659.3 1939.9L1658.5 1939.9L1658.5 1940.3L1657.7 1940.3L1657.7 1940.7L1657 1940.7L1657 1941.1L1656.2 1941.1L1656.2 1941.4L1655.4 1941.4L1655.4 1941.8L1654.6 1941.8L1654.6 1942.2L1653.8 1942.2L1653.8 1942.6L1653 1942.6L1653 1943L1652.2 1943L1652.2 1943.4L1651.4 1943.4L1651.4 1943.8L1650.6 1943.8L1650.6 1944.2L1649.8 1944.2L1649.8 1944.6L1649 1944.6L1649 1945L1648.2 1945L1648.2 1945.4L1647.4 1945.4L1647.4 1945.8L1646.5 1945.8L1646.5 1946.3L1645.7 1946.3L1645.7 1946.7L1644.9 1946.7L1644.9 1947.1L1644.1 1947.1L1644.1 1947.5L1643.2 1947.5L1643.2 1947.9L1642.4 1947.9L1642.4 1948.3L1641.5 1948.3L1641.5 1948.8L1640.7 1948.8L1640.7 1949.2L1639.8 1949.2L1639.8 1949.6L1639 1949.6L1639 1950L1638.1 1950L1638.1 1950.5L1637.3 1950.5L1637.3 1950.9L1636.4 1950.9L1636.4 1951.3L1635.5 1951.3L1635.5 1951.8L1634.6 1951.8L1634.6 1952.2L1633.8 1952.2L1633.8 1952.7L1632.9 1952.7L1632.9 1953.1L1632 1953.1L1632 1953.6L1631.1 1953.6L1631.1 1954L1630.2 1954L1630.2 1954.5L1629.3 1954.5L1629.3 1954.9L1628.4 1954.9L1628.4 1955.4L1627.5 1955.4L1627.5 1955.8L1626.6 1955.8L1626.6 1956.3L1625.6 1956.3L1625.6 1956.8L1624.7 1956.8L1624.7 1957.2L1623.8 1957.2L1623.8 1957.7L1622.8 1957.7L1622.8 1958.2L1621.9 1958.2L1621.9 1958.7L1621 1958.7L1621 1959.1L1620 1959.1L1620 1959.6L1619.1 1959.6L1619.1 1960.1L1618.1 1960.1L1618.1 1960.6L1617.1 1960.6L1617.1 1961.1L1616.2 1961.1L1616.2 1961.6L1615.2 1961.6L1615.2 1962.1L1614.2 1962.1L1614.2 1962.6L1613.2 1962.6L1613.2 1963.1L1612.2 1963.1L1612.2 1963.6L1611.2 1963.6L1611.2 1964.1L1610.2 1964.1L1610.2 1964.7L1609.2 1964.7L1609.2 1965.2L1608.2 1965.2L1608.2 1965.7L1607.2 1965.7L1607.2 1966.2L1606.2 1966.2L1606.2 1966.8L1605.2 1966.8L1605.2 1967.3L1604.1 1967.3L1604.1 1967.8L1603.1 1967.8L1603.1 1968.4L1602 1968.4L1602 1968.9L1601 1968.9L1601 1969.4L1599.9 1969.4L1599.9 1970L1598.9 1970L1598.9 1970.5L1597.8 1970.5L1597.8 1971.1L1596.7 1971.1L1596.7 1971.7L1595.6 1971.7L1595.6 1972.2L1594.5 1972.2L1594.5 1972.8L1593.4 1972.8L1593.4 1973.4L1592.3 1973.4L1592.3 1973.9L1591.2 1973.9L1591.2 1974.5L1590.1 1974.5L1590.1 1975.1L1589 1975.1L1589 1975.7L1587.9 1975.7L1587.9 1976.2L1586.7 1976.2L1586.7 1976.8L1585.6 1976.8L1585.6 1977.4L1584.4 1977.4L1584.4 1978L1583.3 1978L1583.3 1978.6L1582.1 1978.6L1582.1 1979.2L1580.9 1979.2L1580.9 1979.8ZM1092.8 2180.5L1092.8 2164.1L1076.3 2164.1L1076.3 2180.5ZM1073.4 2168.1L1057 2168.1L1057 2184.5L1073.4 2184.5ZM1051.8 2172.3L1035.4 2172.3L1035.4 2188.7L1051.8 2188.7ZM1027.2 2195.2L1027.2 2178.8L1010.8 2178.8L1010.8 2195.2ZM998.9 2184.3L982.5 2184.3L982.5 2200.7L998.9 2200.7ZM965.4 2190.1L949 2190.1L949 2206.5L965.4 2206.5ZM924.5 2213.2L924.5 2196.8L908.1 2196.8L908.1 2213.2ZM871.6 2205.4L855.2 2205.4L855.2 2221.8L871.6 2221.8ZM797.2 2213.8L780.8 2213.8L780.8 2230.2L797.2 2230.2ZM669.9 2239.6L669.9 2223.2L653.4 2223.2L653.4 2239.6ZM650.5 2224.6L634.1 2224.6L634.1 2241L650.5 2241ZM628.9 2225.8L612.5 2225.8L612.5 2242.2L628.9 2242.2ZM604.3 2243.2L604.3 2226.8L587.9 2226.8L587.9 2243.2ZM576 2227.3L559.6 2227.3L559.6 2243.7L576 2243.7ZM246.9 2228.2L230.6 2228.2L230.6 2244.6L246.9 2244.6ZM542.5 2244.6L542.5 2228.2L526.1 2228.2L526.1 2244.6ZM501.6 2228.4L485.2 2228.4L485.2 2244.8L501.6 2244.8ZM448.7 2228.4L432.3 2228.4L432.3 2244.8L448.7 2244.8ZM374.3 2244.8L374.3 2228.4L357.9 2228.4L357.9 2244.8Z" fill="#00D4FF"/>
<path d="M672.3 2472.6l14 12.4m0-12.4l-14 12.4M679.3 2472.6v12.4M698.5 2458.3l14 12.4m0-12.4l-14 12.4M705.5 2458.3v12.4M724.9 2445.1l14 12.4m0-12.4l-14 12.4M731.9 2445.1v12.4M758 2426.3l14 12.4m0-12.4l-14 12.4M765 2426.3v12.4M810.5 2398.8l14 12.4m0-12.4l-14 12.4M817.5 2398.8v12.4M839.5 2385.1l14 12.4m0-12.4l-14 12.4M846.5 2385.1v12.4M880.8 2361.7l14 12.4m0-12.4l-14 12.4M887.8 2361.7v12.4M922.4 2340.1l14 12.4m0-12.4l-14 12.4M929.4 2340.1v12.4M964.8 2318.5l14 12.4m0-12.4l-14 12.4M971.8 2318.5v12.4M1005.9 2296.6l14 12.4m0-12.4l-14 12.4M1012.9 2296.6v12.4M1049.2 2272.6l14 12.4m0-12.4l-14 12.4M1056.2 2272.6v12.4M1093.8 2245.8l14 12.4m0-12.4l-14 12.4M1100.8 2245.8v12.4M1134.4 2224.8l14 12.4m0-12.4l-14 12.4M1141.4 2224.8v12.4M1176.7 2198.8l14 12.4m0-12.4l-14 12.4M1183.7 2198.8v12.4M1217.7 2176.8l14 12.4m0-12.4l-14 12.4M1224.7 2176.8v12.4M1260.5 2153.8l14 12.4m0-12.4l-14 12.4M1267.5 2153.8v12.4M1281 2143.8l14 12.4m0-12.4l-14 12.4M1288 2143.8v12.4M1302.5 2132.8l14 12.4m0-12.4l-14 12.4M1309.5 2132.8v12.4M1323.5 2121.8l14 12.4m0-12.4l-14 12.4M1330.5 2121.8v12.4M1347.5 2106.8l14 12.4m0-12.4l-14 12.4M1354.5 2106.8v12.4M1369.3 2093.8l14 12.4m0-12.4l-14 12.4M1376.3 2093.8v12.4M1391.2 2085.8l14 12.4m0-12.4l-14 12.4M1398.2 2085.8v12.4M1412.8 2072.8l14 12.4m0-12.4l-14 12.4M1419.8 2072.8v12.4M1434.3 2059.3l14 12.4m0-12.4l-14 12.4M1441.3 2059.3v12.4M1456.3 2045.6l14 12.4m0-12.4l-14 12.4M1463.3 2045.6v12.4M1480.4 2031.2l14 12.4m0-12.4l-14 12.4M1487.4 2031.2v12.4M1502 2018l14 12.4m0-12.4l-14 12.4M1509 2018v12.4M1525.1 2002.6l14 12.4m0-12.4l-14 12.4M1532.1 2002.6v12.4M1548.2 1986.6l14 12.4m0-12.4l-14 12.4M1555.2 1986.6v12.4" stroke="#8A1E8C" stroke-width="2.1" fill="none"/>
<circle cx="765" cy="2486.3" r="8.5" fill="#59CF6E"/>
<circle cx="817.5" cy="2455.5" r="8.5" fill="#59CF6E"/>
<circle cx="846.5" cy="2438.8" r="8.5" fill="#59CF6E"/>
<circle cx="887.8" cy="2399.2" r="8.5" fill="#59CF6E"/>
<circle cx="929.4" cy="2388" r="8.5" fill="#59CF6E"/>
<circle cx="971.8" cy="2341.1" r="8.5" fill="#59CF6E"/>
<circle cx="1012.9" cy="2321.5" r="8.5" fill="#59CF6E"/>
<circle cx="1056.2" cy="2294.2" r="8.5" fill="#59CF6E"/>
<circle cx="1100.8" cy="2264" r="8.5" fill="#59CF6E"/>
<circle cx="1141.4" cy="2242.3" r="8.5" fill="#59CF6E"/>
<circle cx="1183.7" cy="2213.2" r="8.5" fill="#59CF6E"/>
<circle cx="1224.7" cy="2196.4" r="8.5" fill="#59CF6E"/>
<circle cx="1267.5" cy="2168.8" r="8.5" fill="#59CF6E"/>
<circle cx="1288" cy="2158.8" r="8.5" fill="#59CF6E"/>
<circle cx="1309.5" cy="2146.3" r="8.5" fill="#59CF6E"/>
<circle cx="1330.5" cy="2136.3" r="8.5" fill="#59CF6E"/>
<circle cx="1354.5" cy="2118.8" r="8.5" fill="#59CF6E"/>
<circle cx="1376.3" cy="2105" r="8.5" fill="#59CF6E"/>
<circle cx="1398.2" cy="2094.5" r="8.5" fill="#59CF6E"/>
<circle cx="1419.8" cy="2083" r="8.5" fill="#59CF6E"/>
<circle cx="1441.3" cy="2068.7" r="8.5" fill="#59CF6E"/>
<circle cx="1463.3" cy="2056.3" r="8.5" fill="#59CF6E"/>
<circle cx="1487.4" cy="2038.3" r="8.5" fill="#59CF6E"/>
<circle cx="1509" cy="2027.4" r="8.5" fill="#59CF6E"/>
<circle cx="1532.1" cy="2012" r="8.5" fill="#59CF6E"/>
<circle cx="1555.2" cy="1997.2" r="8.5" fill="#59CF6E"/>
<path d="M672.5 2472.5h13.6M679.3 2465.2v14.6M698.7 2457.5h13.6M705.5 2450.2v14.6M725.1 2443.8h13.6M731.9 2436.5v14.6M758.2 2425h13.6M765 2417.7v14.6M810.7 2398.8h13.6M817.5 2391.5v14.6M839.7 2382.5h13.6M846.5 2375.2v14.6M881 2361.3h13.6M887.8 2354v14.6M922.6 2342.6h13.6M929.4 2335.3v14.6M965 2320h13.6M971.8 2312.7v14.6M1006.1 2296.6h13.6M1012.9 2289.3v14.6M1049.4 2274.1h13.6M1056.2 2266.8v14.6M1094 2250h13.6M1100.8 2242.7v14.6M1134.6 2229.4h13.6M1141.4 2222.1v14.6M1176.9 2206.7h13.6M1183.7 2199.4v14.6M1217.9 2185.4h13.6M1224.7 2178.1v14.6M1260.7 2162.5h13.6M1267.5 2155.2v14.6M1281.2 2152.5h13.6M1288 2145.2v14.6M1302.7 2141.3h13.6M1309.5 2134v14.6M1323.7 2130h13.6M1330.5 2122.7v14.6M1347.7 2117.5h13.6M1354.5 2110.2v14.6M1369.5 2105h13.6M1376.3 2097.7v14.6M1391.4 2095h13.6M1398.2 2087.7v14.6M1413 2083.8h13.6M1419.8 2076.5v14.6M1434.5 2071.3h13.6M1441.3 2064v14.6M1456.5 2060.3h13.6M1463.3 2053v14.6M1480.6 2048.1h13.6M1487.4 2040.8v14.6M1502.2 2036.2h13.6M1509 2028.9v14.6M1525.3 2024.3h13.6M1532.1 2017v14.6M1548.4 2012.6h13.6M1555.2 2005.3v14.6" stroke="#8A9CB2" stroke-width="2.4" fill="none"/>
<path d="M196 2728.2L203.8 2736L196 2743.8L188.2 2736Z" fill="#C00000"/>
<rect x="526.6" y="2727.4" width="16.8" height="17.2" fill="#CD5F27"/>
<path d="M866.9 2744.3L883.9 2744.3L875.4 2727.7Z" fill="#FFC000"/>
<rect x="1185.5" y="2728.5" width="15" height="15" fill="#00D4FF"/>
<path d="M1445.6 2729.5l14 13m0-13l-14 13M1452.6 2729.5v13" stroke="#8A1E8C" stroke-width="2.1" fill="none"/>
<circle cx="1642.6" cy="2736" r="8" fill="#59CF6E"/>
<path d="M1817.4 2736h13.6M1824.2 2728.7v14.6" stroke="#8A9CB2" stroke-width="2.4" fill="none"/>
<rect x="31.2" y="2945" width="2129.0" height="1301.1000000000004" fill="#fff" stroke="#959595" stroke-width="2.2"/>
<path d="M371 3098.9V3967.7M445.3 3098.9V3967.7M498.1 3098.9V3967.7M539 3098.9V3967.7M572.4 3098.9V3967.7M600.7 3098.9V3967.7M625.2 3098.9V3967.7M646.8 3098.9V3967.7M793.2 3098.9V3967.7M867.5 3098.9V3967.7M920.3 3098.9V3967.7M961.2 3098.9V3967.7M994.6 3098.9V3967.7M1022.9 3098.9V3967.7M1047.4 3098.9V3967.7M1069 3098.9V3967.7M1215.4 3098.9V3967.7M1289.7 3098.9V3967.7M1342.5 3098.9V3967.7M1383.4 3098.9V3967.7M1416.8 3098.9V3967.7M1445.1 3098.9V3967.7M1469.6 3098.9V3967.7M1491.2 3098.9V3967.7M1637.6 3098.9V3967.7M1711.9 3098.9V3967.7M1764.7 3098.9V3967.7M1805.6 3098.9V3967.7M1839 3098.9V3967.7M1867.3 3098.9V3967.7M1891.8 3098.9V3967.7M1913.4 3098.9V3967.7M2059.8 3098.9V3967.7M2134.1 3098.9V3967.7M243.9 3880.5H2134.1M243.9 3829.5H2134.1M243.9 3793.3H2134.1M243.9 3765.3H2134.1M243.9 3742.3H2134.1M243.9 3723H2134.1M243.9 3706.2H2134.1M243.9 3691.4H2134.1M243.9 3590.9H2134.1M243.9 3539.9H2134.1M243.9 3503.7H2134.1M243.9 3475.7H2134.1M243.9 3452.7H2134.1M243.9 3433.4H2134.1M243.9 3416.6H2134.1M243.9 3401.8H2134.1M243.9 3301.3H2134.1M243.9 3250.3H2134.1M243.9 3214.1H2134.1M243.9 3186.1H2134.1M243.9 3163.1H2134.1M243.9 3143.8H2134.1M243.9 3127H2134.1M243.9 3112.2H2134.1" stroke="#dadada" stroke-width="3" fill="none"/>
<path d="M666.1 3098.9V3967.7M1088.3 3098.9V3967.7M1510.5 3098.9V3967.7M1932.7 3098.9V3967.7M243.9 3678.1H2134.1M243.9 3388.5H2134.1M243.9 3098.9H2134.1" stroke="#8f8f8f" stroke-width="2.5" fill="none"/>
<path d="M243.9 3097.9V3967.7H2134.1" stroke="#9a9a9a" stroke-width="2.5" fill="none"/>
<text x="448.1" y="3034.3" font-size="72" textLength="473.6" lengthAdjust="spacingAndGlyphs">TN10/6/4-3C94</text>
<text x="931.8" y="3034.3" font-size="72" textLength="146.1" lengthAdjust="spacingAndGlyphs">Core</text>
<text x="1091.3" y="3034.3" font-size="72" textLength="337.2" lengthAdjust="spacingAndGlyphs">Resistance</text>
<text x="1436.7" y="3034.3" font-size="72" textLength="65.1" lengthAdjust="spacingAndGlyphs">@</text>
<text x="1514.2" y="3034.3" font-size="72" textLength="230.3" lengthAdjust="spacingAndGlyphs">300kHz</text>
<text x="223.9" y="3101.4" font-size="27" text-anchor="end">1</text>
<text x="208.9" y="3113.1" font-size="40" text-anchor="end">10</text>
<text x="223.9" y="3391" font-size="27" text-anchor="end">0</text>
<text x="208.9" y="3402.7" font-size="40" text-anchor="end">10</text>
<text x="223.9" y="3680.6" font-size="27" text-anchor="end">−1</text>
<text x="194.9" y="3692.3" font-size="40" text-anchor="end">10</text>
<text x="223.9" y="3970.2" font-size="27" text-anchor="end">−2</text>
<text x="194.9" y="3981.9" font-size="40" text-anchor="end">10</text>
<text x="202.6" y="4025" font-size="40">10</text>
<text x="245.2" y="4012.2" font-size="27">−2</text>
<text x="624.8" y="4025" font-size="40">10</text>
<text x="667.4" y="4012.2" font-size="27">−1</text>
<text x="1059" y="4025" font-size="40">10</text>
<text x="1101.9" y="4012.2" font-size="27">0</text>
<text x="1481.2" y="4025" font-size="40">10</text>
<text x="1524.1" y="4012.2" font-size="27">1</text>
<text x="1903.4" y="4025" font-size="40">10</text>
<text x="1946.3" y="4012.2" font-size="27">2</text>
<text transform="translate(114.9 3603.3) rotate(-90)" font-size="53" textLength="137.8" lengthAdjust="spacingAndGlyphs">Rc [Ω]</text>
<text x="1096.6" y="4115.4" font-size="53" textLength="186.2" lengthAdjust="spacingAndGlyphs">Bm [mT]</text>
<text x="232" y="4209.5" font-size="44" textLength="244.2" lengthAdjust="spacingAndGlyphs">Rc Measured</text>
<text x="567.8" y="4209.5" font-size="44" textLength="246.7" lengthAdjust="spacingAndGlyphs">Rc Steinmetz</text>
<text x="905.2" y="4209.5" font-size="44" textLength="230.3" lengthAdjust="spacingAndGlyphs">Rc Complex</text>
<text x="1223.2" y="4209.5" font-size="44" textLength="167.8" lengthAdjust="spacingAndGlyphs">Rc Fitted</text>
<text x="1480.2" y="4209.5" font-size="44" textLength="102.3" lengthAdjust="spacingAndGlyphs">Rc(L)</text>
<text x="1670.7" y="4209.5" font-size="44" textLength="92.8" lengthAdjust="spacingAndGlyphs">Rc(I)</text>
<text x="1851.3" y="4209.5" font-size="44" textLength="166.2" lengthAdjust="spacingAndGlyphs">Rc(Lavg)</text>
<text x="1053.6" y="4358" font-family='"Liberation Serif", "Times New Roman", serif' font-weight="bold" font-size="81" textLength="84.9" lengthAdjust="spacingAndGlyphs"><tspan font-weight="normal">(</tspan>c<tspan font-weight="normal">)</tspan></text>
<path d="M1308.9 3443.2L1300.7 3451.4L1308.9 3459.6L1317.1 3451.4ZM1258.8 3466.1L1267 3474.3L1275.2 3466.1L1267 3457.9ZM1216.5 3478.8L1224.7 3487L1232.9 3478.8L1224.7 3470.6ZM1174.4 3490L1182.6 3498.2L1190.8 3490L1182.6 3481.8ZM1132.2 3495L1140.4 3503.2L1148.6 3495L1140.4 3486.8ZM1099.5 3503L1107.7 3511.2L1115.9 3503L1107.7 3494.8ZM1051 3515L1059.2 3523.2L1067.4 3515L1059.2 3506.8ZM1012.2 3514.3L1004 3522.5L1012.2 3530.7L1020.4 3522.5ZM961.2 3530L969.4 3538.2L977.6 3530L969.4 3521.8ZM919 3531.8L927.2 3540L935.4 3531.8L927.2 3523.6ZM883.8 3539.5L892 3547.7L900.2 3539.5L892 3531.3ZM814.4 3540.8L822.6 3549L830.8 3540.8L822.6 3532.6ZM842.8 3544.3L851 3552.5L859.2 3544.3L851 3536.1ZM744.4 3545.5L752.6 3553.7L760.8 3545.5L752.6 3537.3ZM713.8 3546.3L705.6 3554.5L713.8 3562.7L722 3554.5ZM1643.3 3302.3L1651.5 3310.5L1659.7 3302.3L1651.5 3294.1ZM1618.6 3314.8L1626.8 3323L1635 3314.8L1626.8 3306.6ZM1597.8 3326.7L1606 3334.9L1614.2 3326.7L1606 3318.5ZM1574.1 3344L1582.3 3352.2L1590.5 3344L1582.3 3335.8ZM1551.4 3351L1559.6 3359.2L1567.8 3351L1559.6 3342.8ZM1527.7 3358L1535.9 3366.2L1544.1 3358L1535.9 3349.8ZM1505 3365L1513.2 3373.2L1521.4 3365L1513.2 3356.8ZM1482.3 3373L1490.5 3381.2L1498.7 3373L1490.5 3364.8ZM1459 3380L1467.2 3388.2L1475.4 3380L1467.2 3371.8ZM1436.1 3398L1444.3 3406.2L1452.5 3398L1444.3 3389.8ZM1412.8 3408L1421 3416.2L1429.2 3408L1421 3399.8ZM1389.3 3415L1397.5 3423.2L1405.7 3415L1397.5 3406.8ZM1367.8 3423L1376 3431.2L1384.2 3423L1376 3414.8ZM1345 3431L1353.2 3439.2L1361.4 3431L1353.2 3422.8Z" fill="#C00000"/>
<path d="M1582.3 3340.7L1582.3 3341.1L1581.1 3341.1L1581.1 3341.4L1579.9 3341.4L1579.9 3341.8L1578.7 3341.8L1578.7 3342.2L1577.5 3342.2L1577.5 3342.6L1576.2 3342.6L1576.2 3343L1575 3343L1575 3343.4L1573.8 3343.4L1573.8 3343.7L1572.5 3343.7L1572.5 3344.1L1571.3 3344.1L1571.3 3344.5L1570 3344.5L1570 3344.9L1568.8 3344.9L1568.8 3345.3L1567.5 3345.3L1567.5 3345.8L1566.2 3345.8L1566.2 3346.2L1564.9 3346.2L1564.9 3346.6L1563.6 3346.6L1563.6 3347L1562.3 3347L1562.3 3347.4L1561 3347.4L1561 3347.8L1559.6 3347.8L1559.6 3348.3L1558.3 3348.3L1558.3 3348.7L1556.9 3348.7L1556.9 3349.1L1555.6 3349.1L1555.6 3349.6L1554.2 3349.6L1554.2 3350L1552.8 3350L1552.8 3350.4L1551.4 3350.4L1551.4 3350.9L1550 3350.9L1550 3351.3L1548.6 3351.3L1548.6 3351.8L1547.2 3351.8L1547.2 3352.2L1545.7 3352.2L1545.7 3352.7L1544.3 3352.7L1544.3 3353.1L1542.8 3353.1L1542.8 3353.6L1541.3 3353.6L1541.3 3354.1L1539.9 3354.1L1539.9 3354.6L1538.4 3354.6L1538.4 3355L1536.9 3355L1536.9 3355.5L1535.3 3355.5L1535.3 3356L1533.8 3356L1533.8 3356.5L1532.2 3356.5L1532.2 3357L1530.7 3357L1530.7 3357.5L1529.1 3357.5L1529.1 3358L1527.5 3358L1527.5 3358.5L1525.9 3358.5L1525.9 3359L1524.3 3359L1524.3 3359.5L1522.7 3359.5L1522.7 3360L1521 3360L1521 3360.6L1519.4 3360.6L1519.4 3361.1L1517.7 3361.1L1517.7 3361.6L1516 3361.6L1516 3362.2L1514.3 3362.2L1514.3 3362.7L1512.6 3362.7L1512.6 3363.3L1510.8 3363.3L1510.8 3363.8L1509.1 3363.8L1509.1 3364.4L1507.3 3364.4L1507.3 3364.9L1505.5 3364.9L1505.5 3365.5L1503.7 3365.5L1503.7 3366.1L1501.9 3366.1L1501.9 3366.7L1500.1 3366.7L1500.1 3367.3L1498.2 3367.3L1498.2 3367.9L1496.3 3367.9L1496.3 3368.5L1494.4 3368.5L1494.4 3369.1L1492.5 3369.1L1492.5 3369.7L1490.6 3369.7L1490.6 3370.3L1488.6 3370.3L1488.6 3370.9L1486.6 3370.9L1486.6 3371.6L1484.6 3371.6L1484.6 3372.2L1482.6 3372.2L1482.6 3372.8L1480.5 3372.8L1480.5 3373.5L1478.5 3373.5L1478.5 3374.2L1476.4 3374.2L1476.4 3374.8L1474.2 3374.8L1474.2 3375.5L1472.1 3375.5L1472.1 3376.2L1469.9 3376.2L1469.9 3376.9L1467.7 3376.9L1467.7 3377.6L1465.5 3377.6L1465.5 3378.3L1463.3 3378.3L1463.3 3379L1461 3379L1461 3379.8L1458.7 3379.8L1458.7 3380.5L1456.3 3380.5L1456.3 3381.2L1454 3381.2L1454 3382L1451.6 3382L1451.6 3382.8L1449.2 3382.8L1449.2 3383.5L1446.7 3383.5L1446.7 3384.3L1444.2 3384.3L1444.2 3385.1L1441.7 3385.1L1441.7 3385.9L1439.1 3385.9L1439.1 3386.8L1436.5 3386.8L1436.5 3387.6L1433.9 3387.6L1433.9 3388.4L1431.2 3388.4L1431.2 3389.3L1428.5 3389.3L1428.5 3390.2L1425.7 3390.2L1425.7 3391.1L1422.9 3391.1L1422.9 3392L1420.1 3392L1420.1 3392.9L1417.2 3392.9L1417.2 3393.8L1414.2 3393.8L1414.2 3394.7L1411.3 3394.7L1411.3 3395.7L1408.2 3395.7L1408.2 3396.7L1405.2 3396.7L1405.2 3397.7L1402 3397.7L1402 3398.7L1398.8 3398.7L1398.8 3399.7L1395.6 3399.7L1395.6 3400.7L1392.3 3400.7L1392.3 3401.8L1388.9 3401.8L1388.9 3402.9L1385.5 3402.9L1385.5 3404L1382 3404L1382 3405.1L1378.4 3405.1L1378.4 3406.3L1374.8 3406.3L1374.8 3407.4L1371.1 3407.4L1371.1 3408.6L1367.3 3408.6L1367.3 3409.9L1363.5 3409.9L1363.5 3411.1L1359.5 3411.1L1359.5 3412.4L1355.5 3412.4L1355.5 3413.7L1351.4 3413.7L1351.4 3415L1347.2 3415L1347.2 3416.4L1342.8 3416.4L1342.8 3417.8L1338.4 3417.8L1338.4 3419.2L1333.9 3419.2L1333.9 3420.7L1329.2 3420.7L1329.2 3422.2L1324.5 3422.2L1324.5 3423.7L1319.6 3423.7L1319.6 3425.3L1314.6 3425.3L1314.6 3427L1309.4 3427L1309.4 3428.6L1304.1 3428.6L1304.1 3430.4L1298.6 3430.4L1298.6 3432.2L1293 3432.2L1293 3434L1287.2 3434L1287.2 3435.9L1281.1 3435.9L1281.1 3437.9L1274.9 3437.9L1274.9 3439.9L1268.5 3439.9L1268.5 3442L1261.8 3442L1261.8 3444.2L1254.9 3444.2L1254.9 3446.5L1247.7 3446.5L1247.7 3448.8L1240.2 3448.8L1240.2 3451.3L1232.4 3451.3L1232.4 3453.9L1224.3 3453.9L1224.3 3456.6L1215.7 3456.6L1215.7 3459.4L1206.8 3459.4L1206.8 3462.4L1197.4 3462.4L1197.4 3465.5L1187.5 3465.5L1187.5 3468.8L1177 3468.8L1177 3472.3L1165.9 3472.3L1165.9 3476.1L1154 3476.1L1154 3480.1L1141.4 3480.1L1141.4 3484.4L1127.8 3484.4L1127.8 3489L1113.1 3489L1113.1 3494.1L1097.2 3494.1L1097.2 3511.3L1114.4 3511.3L1114.4 3506.2L1130.3 3506.2L1130.3 3501.6L1145 3501.6L1145 3497.3L1158.6 3497.3L1158.6 3493.3L1171.2 3493.3L1171.2 3489.5L1183.1 3489.5L1183.1 3486L1194.2 3486L1194.2 3482.7L1204.7 3482.7L1204.7 3479.6L1214.6 3479.6L1214.6 3476.6L1224 3476.6L1224 3473.8L1232.9 3473.8L1232.9 3471.1L1241.5 3471.1L1241.5 3468.5L1249.6 3468.5L1249.6 3466L1257.4 3466L1257.4 3463.7L1264.9 3463.7L1264.9 3461.4L1272.1 3461.4L1272.1 3459.2L1279 3459.2L1279 3457.1L1285.7 3457.1L1285.7 3455.1L1292.1 3455.1L1292.1 3453.1L1298.3 3453.1L1298.3 3451.2L1304.4 3451.2L1304.4 3449.4L1310.2 3449.4L1310.2 3447.6L1315.8 3447.6L1315.8 3445.8L1321.3 3445.8L1321.3 3444.2L1326.6 3444.2L1326.6 3442.5L1331.8 3442.5L1331.8 3440.9L1336.8 3440.9L1336.8 3439.4L1341.7 3439.4L1341.7 3437.9L1346.4 3437.9L1346.4 3436.4L1351.1 3436.4L1351.1 3435L1355.6 3435L1355.6 3433.6L1360 3433.6L1360 3432.2L1364.4 3432.2L1364.4 3430.9L1368.6 3430.9L1368.6 3429.6L1372.7 3429.6L1372.7 3428.3L1376.7 3428.3L1376.7 3427.1L1380.7 3427.1L1380.7 3425.8L1384.5 3425.8L1384.5 3424.6L1388.3 3424.6L1388.3 3423.5L1392 3423.5L1392 3422.3L1395.6 3422.3L1395.6 3421.2L1399.2 3421.2L1399.2 3420.1L1402.7 3420.1L1402.7 3419L1406.1 3419L1406.1 3417.9L1409.5 3417.9L1409.5 3416.9L1412.8 3416.9L1412.8 3415.9L1416 3415.9L1416 3414.9L1419.2 3414.9L1419.2 3413.9L1422.4 3413.9L1422.4 3412.9L1425.4 3412.9L1425.4 3411.9L1428.5 3411.9L1428.5 3411L1431.4 3411L1431.4 3410.1L1434.4 3410.1L1434.4 3409.2L1437.3 3409.2L1437.3 3408.3L1440.1 3408.3L1440.1 3407.4L1442.9 3407.4L1442.9 3406.5L1445.7 3406.5L1445.7 3405.6L1448.4 3405.6L1448.4 3404.8L1451.1 3404.8L1451.1 3404L1453.7 3404L1453.7 3403.1L1456.3 3403.1L1456.3 3402.3L1458.9 3402.3L1458.9 3401.5L1461.4 3401.5L1461.4 3400.7L1463.9 3400.7L1463.9 3400L1466.4 3400L1466.4 3399.2L1468.8 3399.2L1468.8 3398.4L1471.2 3398.4L1471.2 3397.7L1473.5 3397.7L1473.5 3397L1475.9 3397L1475.9 3396.2L1478.2 3396.2L1478.2 3395.5L1480.5 3395.5L1480.5 3394.8L1482.7 3394.8L1482.7 3394.1L1484.9 3394.1L1484.9 3393.4L1487.1 3393.4L1487.1 3392.7L1489.3 3392.7L1489.3 3392L1491.4 3392L1491.4 3391.4L1493.6 3391.4L1493.6 3390.7L1495.7 3390.7L1495.7 3390L1497.7 3390L1497.7 3389.4L1499.8 3389.4L1499.8 3388.8L1501.8 3388.8L1501.8 3388.1L1503.8 3388.1L1503.8 3387.5L1505.8 3387.5L1505.8 3386.9L1507.8 3386.9L1507.8 3386.3L1509.7 3386.3L1509.7 3385.7L1511.6 3385.7L1511.6 3385.1L1513.5 3385.1L1513.5 3384.5L1515.4 3384.5L1515.4 3383.9L1517.3 3383.9L1517.3 3383.3L1519.1 3383.3L1519.1 3382.7L1520.9 3382.7L1520.9 3382.1L1522.7 3382.1L1522.7 3381.6L1524.5 3381.6L1524.5 3381L1526.3 3381L1526.3 3380.5L1528 3380.5L1528 3379.9L1529.8 3379.9L1529.8 3379.4L1531.5 3379.4L1531.5 3378.8L1533.2 3378.8L1533.2 3378.3L1534.9 3378.3L1534.9 3377.8L1536.6 3377.8L1536.6 3377.2L1538.2 3377.2L1538.2 3376.7L1539.9 3376.7L1539.9 3376.2L1541.5 3376.2L1541.5 3375.7L1543.1 3375.7L1543.1 3375.2L1544.7 3375.2L1544.7 3374.7L1546.3 3374.7L1546.3 3374.2L1547.9 3374.2L1547.9 3373.7L1549.4 3373.7L1549.4 3373.2L1551 3373.2L1551 3372.7L1552.5 3372.7L1552.5 3372.2L1554.1 3372.2L1554.1 3371.8L1555.6 3371.8L1555.6 3371.3L1557.1 3371.3L1557.1 3370.8L1558.5 3370.8L1558.5 3370.3L1560 3370.3L1560 3369.9L1561.5 3369.9L1561.5 3369.4L1562.9 3369.4L1562.9 3369L1564.4 3369L1564.4 3368.5L1565.8 3368.5L1565.8 3368.1L1567.2 3368.1L1567.2 3367.6L1568.6 3367.6L1568.6 3367.2L1570 3367.2L1570 3366.8L1571.4 3366.8L1571.4 3366.3L1572.8 3366.3L1572.8 3365.9L1574.1 3365.9L1574.1 3365.5L1575.5 3365.5L1575.5 3365L1576.8 3365L1576.8 3364.6L1578.2 3364.6L1578.2 3364.2L1579.5 3364.2L1579.5 3363.8L1580.8 3363.8L1580.8 3363.4L1582.1 3363.4L1582.1 3363L1583.4 3363L1583.4 3362.5L1584.7 3362.5L1584.7 3362.1L1586 3362.1L1586 3361.7L1587.2 3361.7L1587.2 3361.3L1588.5 3361.3L1588.5 3360.9L1589.7 3360.9L1589.7 3360.6L1591 3360.6L1591 3360.2L1592.2 3360.2L1592.2 3359.8L1593.4 3359.8L1593.4 3359.4L1594.7 3359.4L1594.7 3359L1595.9 3359L1595.9 3358.6L1597.1 3358.6L1597.1 3358.3L1598.3 3358.3L1598.3 3357.9L1599.5 3357.9L1599.5 3357.5L1600.6 3357.5L1600.6 3357.1L1601.8 3357.1L1601.8 3356.8L1603 3356.8L1603 3356.4L1604.1 3356.4L1604.1 3356L1605.3 3356L1605.3 3355.7L1606.4 3355.7L1606.4 3355.3L1607.6 3355.3L1607.6 3355L1608.7 3355L1608.7 3354.6L1609.8 3354.6L1609.8 3354.3L1610.9 3354.3L1610.9 3353.9L1612 3353.9L1612 3353.6L1613.1 3353.6L1613.1 3353.2L1614.2 3353.2L1614.2 3352.9L1615.3 3352.9L1615.3 3352.5L1616.4 3352.5L1616.4 3352.2L1617.5 3352.2L1617.5 3351.8L1618.5 3351.8L1618.5 3351.5L1619.6 3351.5L1619.6 3351.2L1620.7 3351.2L1620.7 3350.8L1621.7 3350.8L1621.7 3350.5L1622.8 3350.5L1622.8 3350.2L1623.8 3350.2L1623.8 3349.9L1624.8 3349.9L1624.8 3349.5L1625.9 3349.5L1625.9 3349.2L1626.9 3349.2L1626.9 3348.9L1627.9 3348.9L1627.9 3348.6L1628.9 3348.6L1628.9 3348.2L1629.9 3348.2L1629.9 3347.9L1630.9 3347.9L1630.9 3347.6L1631.9 3347.6L1631.9 3347.3L1632.9 3347.3L1632.9 3347L1633.9 3347L1633.9 3346.7L1634.8 3346.7L1634.8 3346.4L1635.8 3346.4L1635.8 3346.1L1636.8 3346.1L1636.8 3345.8L1637.8 3345.8L1637.8 3345.5L1638.7 3345.5L1638.7 3345.2L1639.7 3345.2L1639.7 3344.9L1640.6 3344.9L1640.6 3344.6L1641.6 3344.6L1641.6 3344.3L1642.5 3344.3L1642.5 3344L1643.4 3344L1643.4 3343.7L1644.4 3343.7L1644.4 3343.4L1645.3 3343.4L1645.3 3343.1L1646.2 3343.1L1646.2 3342.8L1647.1 3342.8L1647.1 3342.5L1648 3342.5L1648 3342.2L1648.9 3342.2L1648.9 3341.9L1649.8 3341.9L1649.8 3341.7L1650.7 3341.7L1650.7 3341.4L1651.6 3341.4L1651.6 3341.1L1652.5 3341.1L1652.5 3340.8L1653.4 3340.8L1653.4 3340.5L1654.3 3340.5L1654.3 3340.3L1655.1 3340.3L1655.1 3340L1656 3340L1656 3339.7L1656.9 3339.7L1656.9 3339.4L1657.7 3339.4L1657.7 3339.2L1658.6 3339.2L1658.6 3338.9L1659.5 3338.9L1659.5 3338.6L1660.3 3338.6L1660.3 3338.4L1661.2 3338.4L1661.2 3338.1L1662 3338.1L1662 3337.8L1662.8 3337.8L1662.8 3337.6L1663.7 3337.6L1663.7 3337.3L1664.5 3337.3L2142.7 3186.1L2142.7 3168.9L2125.5 3168.9L1647.3 3320.1L1647.3 3320.4L1646.5 3320.4L1646.5 3320.6L1645.6 3320.6L1645.6 3320.9L1644.8 3320.9L1644.8 3321.2L1644 3321.2L1644 3321.4L1643.1 3321.4L1643.1 3321.7L1642.3 3321.7L1642.3 3322L1641.4 3322L1641.4 3322.2L1640.5 3322.2L1640.5 3322.5L1639.7 3322.5L1639.7 3322.8L1638.8 3322.8L1638.8 3323.1L1637.9 3323.1L1637.9 3323.3L1637.1 3323.3L1637.1 3323.6L1636.2 3323.6L1636.2 3323.9L1635.3 3323.9L1635.3 3324.2L1634.4 3324.2L1634.4 3324.5L1633.5 3324.5L1633.5 3324.7L1632.6 3324.7L1632.6 3325L1631.7 3325L1631.7 3325.3L1630.8 3325.3L1630.8 3325.6L1629.9 3325.6L1629.9 3325.9L1629 3325.9L1629 3326.2L1628.1 3326.2L1628.1 3326.5L1627.2 3326.5L1627.2 3326.8L1626.2 3326.8L1626.2 3327.1L1625.3 3327.1L1625.3 3327.4L1624.4 3327.4L1624.4 3327.7L1623.4 3327.7L1623.4 3328L1622.5 3328L1622.5 3328.3L1621.5 3328.3L1621.5 3328.6L1620.6 3328.6L1620.6 3328.9L1619.6 3328.9L1619.6 3329.2L1618.6 3329.2L1618.6 3329.5L1617.6 3329.5L1617.6 3329.8L1616.7 3329.8L1616.7 3330.1L1615.7 3330.1L1615.7 3330.4L1614.7 3330.4L1614.7 3330.7L1613.7 3330.7L1613.7 3331L1612.7 3331L1612.7 3331.4L1611.7 3331.4L1611.7 3331.7L1610.7 3331.7L1610.7 3332L1609.7 3332L1609.7 3332.3L1608.7 3332.3L1608.7 3332.7L1607.6 3332.7L1607.6 3333L1606.6 3333L1606.6 3333.3L1605.6 3333.3L1605.6 3333.6L1604.5 3333.6L1604.5 3334L1603.5 3334L1603.5 3334.3L1602.4 3334.3L1602.4 3334.6L1601.3 3334.6L1601.3 3335L1600.3 3335L1600.3 3335.3L1599.2 3335.3L1599.2 3335.7L1598.1 3335.7L1598.1 3336L1597 3336L1597 3336.4L1595.9 3336.4L1595.9 3336.7L1594.8 3336.7L1594.8 3337.1L1593.7 3337.1L1593.7 3337.4L1592.6 3337.4L1592.6 3337.8L1591.5 3337.8L1591.5 3338.1L1590.4 3338.1L1590.4 3338.5L1589.2 3338.5L1589.2 3338.8L1588.1 3338.8L1588.1 3339.2L1586.9 3339.2L1586.9 3339.6L1585.8 3339.6L1585.8 3339.9L1584.6 3339.9L1584.6 3340.3L1583.4 3340.3L1583.4 3340.7ZM1096.9 3516.8L1096.9 3499.6L1079.7 3499.6L1079.7 3516.8ZM1077.6 3505.7L1060.4 3505.7L1060.4 3522.9L1077.6 3522.9ZM1056 3512.5L1038.8 3512.5L1038.8 3529.7L1056 3529.7ZM1031.5 3537.5L1031.5 3520.3L1014.3 3520.3L1014.3 3537.5ZM1003.2 3529.2L986 3529.2L986 3546.4L1003.2 3546.4ZM969.8 3539.8L952.6 3539.8L952.6 3557L969.8 3557ZM928.9 3569.9L928.9 3552.7L911.7 3552.7L911.7 3569.9ZM876.1 3569.4L858.9 3569.4L858.9 3586.6L876.1 3586.6ZM801.8 3592.9L784.6 3592.9L784.6 3610.1L801.8 3610.1ZM674.7 3650.3L674.7 3633.1L657.5 3633.1L657.5 3650.3ZM655.4 3639.2L638.2 3639.2L638.2 3656.4L655.4 3656.4ZM633.8 3646L616.6 3646L616.6 3663.2L633.8 3663.2ZM609.3 3671L609.3 3653.8L592.1 3653.8L592.1 3671ZM581 3662.7L563.8 3662.7L563.8 3679.9L581 3679.9ZM547.6 3673.3L530.4 3673.3L530.4 3690.5L547.6 3690.5ZM506.7 3703.4L506.7 3686.2L489.5 3686.2L489.5 3703.4ZM453.9 3702.9L436.7 3702.9L436.7 3720.1L453.9 3720.1ZM379.6 3726.4L362.4 3726.4L362.4 3743.6L379.6 3743.6ZM252.5 3783.8L252.5 3766.6L235.3 3766.6L235.3 3783.8Z" fill="#CD5F27"/>
<path d="M1516.8 3551.2L1515.9 3549.5L1515 3551.2L1514.1 3549.5L1513.2 3551.2L1512.3 3549.5L1511.4 3551.2L1510.5 3549.5L1509.6 3551.2L1508.7 3549.5L1507.7 3551.2L1506.8 3549.5L1505.9 3551.3L1504.9 3549.5L1504 3551.3L1503 3549.5L1502.1 3551.3L1501.1 3549.5L1500.1 3551.3L1499.2 3549.5L1498.2 3551.3L1497.2 3549.5L1496.2 3551.4L1495.2 3549.5L1494.2 3551.4L1493.2 3549.5L1492.2 3551.4L1491.2 3549.5L1490.2 3551.4L1489.1 3549.5L1488.1 3551.4L1487.1 3549.5L1486 3551.5L1485 3549.5L1483.9 3551.5L1482.8 3549.5L1481.8 3551.5L1480.7 3549.5L1479.6 3551.5L1478.5 3549.5L1477.4 3551.6L1476.3 3549.5L1475.2 3551.6L1474.1 3549.5L1473 3551.6L1471.9 3549.5L1470.7 3551.6L1469.6 3549.5L1468.4 3551.7L1467.3 3549.5L1466.1 3551.7L1464.9 3549.5L1463.8 3551.7L1462.6 3549.5L1461.4 3551.7L1460.2 3549.5L1459 3551.8L1457.8 3549.5L1456.5 3551.8L1455.3 3549.5L1454 3551.8L1452.8 3549.5L1451.5 3551.9L1450.3 3549.5L1449 3551.9L1447.7 3549.5L1446.4 3551.9L1445.1 3549.5L1443.8 3552L1442.5 3549.5L1441.1 3552L1439.8 3549.5L1438.4 3552L1437.1 3549.5L1435.7 3552.1L1434.3 3549.5L1432.9 3552.1L1431.5 3549.5L1430.1 3552.2L1428.7 3549.5L1427.2 3552.2L1425.8 3549.5L1424.3 3552.3L1422.8 3549.5L1421.4 3552.3L1419.9 3549.5L1418.4 3552.3L1416.8 3549.5L1415.3 3552.4L1413.8 3549.5L1412.2 3552.4L1410.6 3549.5L1409 3552.5L1407.4 3549.5L1405.8 3552.5L1404.2 3549.5L1402.5 3552.6L1400.9 3549.5L1399.2 3552.7L1397.5 3549.5L1395.8 3552.7L1394.1 3549.5L1392.3 3552.8L1390.6 3549.5L1388.8 3552.8L1387 3549.5L1385.2 3552.9L1383.4 3549.5L1381.6 3553L1379.7 3549.5L1377.8 3553L1375.9 3549.5L1374 3553.1L1372.1 3549.5L1370.1 3553.2L1368.1 3549.5L1366.1 3553.3L1364.1 3549.5L1362 3553.4L1360 3549.5L1357.9 3553.5L1355.8 3549.5L1353.6 3553.5L1351.4 3549.5L1349.2 3553.6L1347 3549.5L1344.8 3553.7L1342.5 3549.5L1340.2 3553.9L1337.8 3549.5L1335.5 3554L1333.1 3549.5L1330.6 3554.1L1328.2 3549.5L1325.7 3554.2L1323.2 3549.5L1320.6 3554.3L1318 3549.5L1315.3 3554.5L1312.7 3549.5L1310 3554.6L1307.2 3549.5L1304.4 3554.8L1301.6 3549.5L1298.7 3555L1295.8 3549.5L1292.7 3555.1L1289.7 3549.5L1286.6 3555.3L1283.5 3549.5L1280.3 3555.5L1277.1 3549.5L1273.8 3555.8L1270.4 3549.5L1267 3556L1263.5 3549.5L1259.9 3556.2L1256.3 3549.5L1252.6 3556.5L1248.8 3549.5L1244.9 3556.8L1241 3549.5L1236.9 3557.1L1232.9 3549.5L1228.6 3557.5L1224.3 3549.5L1219.9 3557.9L1215.4 3549.5L1210.7 3558.3L1206 3549.5L1201 3558.8L1196.1 3549.5L1190.8 3559.3L1185.6 3549.5L1180 3559.9L1174.5 3549.5L1168.6 3560.6L1162.6 3549.5L1156.3 3561.4L1150 3549.5L1143.2 3562.2L1136.4 3549.5L1129.1 3563.3L1121.7 3549.5L1113.8 3564.5L1105.8 3549.5L1097.8 3564.5L2142.1 3564.5L2134.1 3549.5L1864 3549.8L1863.9 3549.5L1863.7 3549.8L1863.6 3549.5L1863.5 3549.8L1863.3 3549.5L1863.2 3549.8L1863.1 3549.5L1862.9 3549.8L1862.8 3549.5L1862.7 3549.8L1862.5 3549.5L1862.4 3549.8L1862.3 3549.5L1862.1 3549.8L1862 3549.5L1861.9 3549.8L1861.7 3549.5L1861.6 3549.8L1861.4 3549.5L1861.3 3549.8L1861.2 3549.5L1861 3549.8L1860.9 3549.5L1860.8 3549.8L1860.6 3549.5L1860.5 3549.8L1860.4 3549.5L1860.2 3549.8L1860.1 3549.5L1860 3549.8L1859.8 3549.5L1859.7 3549.8L1859.5 3549.5L1859.4 3549.8L1859.3 3549.5L1859.1 3549.8L1859 3549.5L1858.9 3549.8L1858.7 3549.5L1858.6 3549.8L1858.4 3549.5L1858.3 3549.8L1858.2 3549.5L1858 3549.8L1857.9 3549.5L1857.8 3549.8L1857.6 3549.5L1857.5 3549.8L1857.3 3549.5L1857.2 3549.8L1857.1 3549.5L1856.9 3549.8L1856.8 3549.5L1856.7 3549.8L1856.5 3549.5L1856.4 3549.8L1856.2 3549.5L1856.1 3549.8L1856 3549.5L1855.8 3549.8L1855.7 3549.5L1855.5 3549.8L1855.4 3549.5L1855.3 3549.8L1855.1 3549.5L1855 3549.8L1854.8 3549.5L1854.7 3549.8L1854.6 3549.5L1854.4 3549.8L1854.3 3549.5L1854.1 3549.8L1854 3549.5L1853.9 3549.8L1853.7 3549.5L1853.6 3549.8L1853.4 3549.5L1853.3 3549.8L1853.1 3549.5L1853 3549.8L1852.9 3549.5L1852.7 3549.8L1852.6 3549.5L1852.4 3549.8L1852.3 3549.5L1852.2 3549.8L1852 3549.5L1851.9 3549.8L1851.7 3549.5L1851.6 3549.8L1851.4 3549.5L1851.3 3549.8L1851.2 3549.5L1851 3549.8L1850.9 3549.5L1850.7 3549.8L1850.6 3549.5L1850.4 3549.8L1850.3 3549.5L1850.2 3549.8L1850 3549.5L1849.9 3549.8L1849.7 3549.5L1849.6 3549.8L1849.4 3549.5L1849.3 3549.8L1849.1 3549.5L1849 3549.8L1848.9 3549.5L1848.7 3549.8L1848.6 3549.5L1848.4 3549.8L1848.3 3549.5L1848.1 3549.8L1848 3549.5L1847.8 3549.8L1847.7 3549.5L1847.5 3549.8L1847.4 3549.5L1847.3 3549.8L1847.1 3549.5L1847 3549.8L1846.8 3549.5L1846.7 3549.8L1846.5 3549.5L1846.4 3549.8L1846.2 3549.5L1846.1 3549.8L1845.9 3549.5L1845.8 3549.8L1845.6 3549.5L1845.5 3549.8L1845.3 3549.5L1845.2 3549.8L1845 3549.5L1844.9 3549.8L1844.8 3549.5L1844.6 3549.8L1844.5 3549.5L1844.3 3549.8L1844.2 3549.5L1844 3549.8L1843.9 3549.5L1843.7 3549.8L1843.6 3549.5L1843.4 3549.8L1843.3 3549.5L1843.1 3549.8L1843 3549.5L1842.8 3549.8L1842.7 3549.5L1842.5 3549.8L1842.4 3549.5L1842.2 3549.8L1842.1 3549.5L1841.9 3549.8L1841.8 3549.5L1841.6 3549.8L1841.5 3549.5L1841.3 3549.8L1841.2 3549.5L1841 3549.8L1840.9 3549.5L1840.7 3549.8L1840.6 3549.5L1840.4 3549.8L1840.3 3549.5L1840.1 3549.8L1839.9 3549.5L1839.8 3549.8L1839.6 3549.5L1839.5 3549.8L1839.3 3549.5L1839.2 3549.8L1839 3549.5L1838.9 3549.8L1838.7 3549.5L1838.6 3549.8L1838.4 3549.5L1838.3 3549.8L1838.1 3549.5L1838 3549.8L1837.8 3549.5L1837.7 3549.8L1837.5 3549.5L1837.3 3549.8L1837.2 3549.5L1837 3549.8L1836.9 3549.5L1836.7 3549.8L1836.6 3549.5L1836.4 3549.8L1836.3 3549.5L1836.1 3549.8L1836 3549.5L1835.8 3549.8L1835.6 3549.5L1835.5 3549.8L1835.3 3549.5L1835.2 3549.8L1835 3549.5L1834.9 3549.8L1834.7 3549.5L1834.5 3549.8L1834.4 3549.5L1834.2 3549.8L1834.1 3549.5L1833.9 3549.8L1833.8 3549.5L1833.6 3549.8L1833.5 3549.5L1833.3 3549.8L1833.1 3549.5L1833 3549.8L1832.8 3549.5L1832.7 3549.8L1832.5 3549.5L1832.3 3549.8L1832.2 3549.5L1832 3549.8L1831.9 3549.5L1831.7 3549.8L1831.6 3549.5L1831.4 3549.8L1831.2 3549.5L1831.1 3549.8L1830.9 3549.5L1830.8 3549.8L1830.6 3549.5L1830.4 3549.8L1830.3 3549.5L1830.1 3549.8L1830 3549.5L1829.8 3549.8L1829.6 3549.5L1829.5 3549.8L1829.3 3549.5L1829.1 3549.8L1829 3549.5L1828.8 3549.8L1828.7 3549.5L1828.5 3549.8L1828.3 3549.5L1828.2 3549.8L1828 3549.5L1827.9 3549.8L1827.7 3549.5L1827.5 3549.8L1827.4 3549.5L1827.2 3549.8L1827 3549.5L1826.9 3549.8L1826.7 3549.5L1826.5 3549.8L1826.4 3549.5L1826.2 3549.8L1826.1 3549.5L1825.9 3549.8L1825.7 3549.5L1825.6 3549.8L1825.4 3549.5L1825.2 3549.8L1825.1 3549.5L1824.9 3549.8L1824.7 3549.5L1824.6 3549.8L1824.4 3549.5L1824.2 3549.8L1824.1 3549.5L1823.9 3549.8L1823.7 3549.5L1823.6 3549.8L1823.4 3549.5L1823.2 3549.8L1823.1 3549.5L1822.9 3549.8L1822.7 3549.5L1822.6 3549.8L1822.4 3549.5L1822.2 3549.8L1822.1 3549.5L1821.9 3549.8L1821.7 3549.5L1821.6 3549.8L1821.4 3549.5L1821.2 3549.8L1821.1 3549.5L1820.9 3549.8L1820.7 3549.5L1820.6 3549.8L1820.4 3549.5L1820.2 3549.8L1820.1 3549.5L1819.9 3549.8L1819.7 3549.5L1819.5 3549.8L1819.4 3549.5L1819.2 3549.8L1819 3549.5L1818.9 3549.8L1818.7 3549.5L1818.5 3549.8L1818.4 3549.5L1818.2 3549.8L1818 3549.5L1817.8 3549.8L1817.7 3549.5L1817.5 3549.8L1817.3 3549.5L1817.2 3549.8L1817 3549.5L1816.8 3549.8L1816.6 3549.5L1816.5 3549.8L1816.3 3549.5L1816.1 3549.8L1815.9 3549.5L1815.8 3549.8L1815.6 3549.5L1815.4 3549.8L1815.2 3549.5L1815.1 3549.8L1814.9 3549.5L1814.7 3549.8L1814.6 3549.5L1814.4 3549.8L1814.2 3549.5L1814 3549.8L1813.9 3549.5L1813.7 3549.8L1813.5 3549.5L1813.3 3549.8L1813.1 3549.5L1813 3549.8L1812.8 3549.5L1812.6 3549.8L1812.4 3549.5L1812.3 3549.8L1812.1 3549.5L1811.9 3549.8L1811.7 3549.5L1811.6 3549.8L1811.4 3549.5L1811.2 3549.8L1811 3549.5L1810.8 3549.8L1810.7 3549.5L1810.5 3549.8L1810.3 3549.5L1810.1 3549.8L1810 3549.5L1809.8 3549.8L1809.6 3549.5L1809.4 3549.8L1809.2 3549.5L1809.1 3549.8L1808.9 3549.5L1808.7 3549.8L1808.5 3549.5L1808.3 3549.8L1808.2 3549.5L1808 3549.8L1807.8 3549.5L1807.6 3549.8L1807.4 3549.5L1807.2 3549.8L1807.1 3549.5L1806.9 3549.8L1806.7 3549.5L1806.5 3549.8L1806.3 3549.5L1806.2 3549.8L1806 3549.5L1805.8 3549.8L1805.6 3549.5L1805.4 3549.8L1805.2 3549.5L1805.1 3549.8L1804.9 3549.5L1804.7 3549.8L1804.5 3549.5L1804.3 3549.8L1804.1 3549.5L1803.9 3549.8L1803.8 3549.5L1803.6 3549.8L1803.4 3549.5L1803.2 3549.8L1803 3549.5L1802.8 3549.8L1802.6 3549.5L1802.5 3549.8L1802.3 3549.5L1802.1 3549.9L1801.9 3549.5L1801.7 3549.9L1801.5 3549.5L1801.3 3549.9L1801.2 3549.5L1801 3549.9L1800.8 3549.5L1800.6 3549.9L1800.4 3549.5L1800.2 3549.9L1800 3549.5L1799.8 3549.9L1799.6 3549.5L1799.5 3549.9L1799.3 3549.5L1799.1 3549.9L1798.9 3549.5L1798.7 3549.9L1798.5 3549.5L1798.3 3549.9L1798.1 3549.5L1797.9 3549.9L1797.7 3549.5L1797.5 3549.9L1797.4 3549.5L1797.2 3549.9L1797 3549.5L1796.8 3549.9L1796.6 3549.5L1796.4 3549.9L1796.2 3549.5L1796 3549.9L1795.8 3549.5L1795.6 3549.9L1795.4 3549.5L1795.2 3549.9L1795 3549.5L1794.8 3549.9L1794.6 3549.5L1794.5 3549.9L1794.3 3549.5L1794.1 3549.9L1793.9 3549.5L1793.7 3549.9L1793.5 3549.5L1793.3 3549.9L1793.1 3549.5L1792.9 3549.9L1792.7 3549.5L1792.5 3549.9L1792.3 3549.5L1792.1 3549.9L1791.9 3549.5L1791.7 3549.9L1791.5 3549.5L1791.3 3549.9L1791.1 3549.5L1790.9 3549.9L1790.7 3549.5L1790.5 3549.9L1790.3 3549.5L1790.1 3549.9L1789.9 3549.5L1789.7 3549.9L1789.5 3549.5L1789.3 3549.9L1789.1 3549.5L1788.9 3549.9L1788.7 3549.5L1788.5 3549.9L1788.3 3549.5L1788.1 3549.9L1787.9 3549.5L1787.7 3549.9L1787.5 3549.5L1787.3 3549.9L1787.1 3549.5L1786.9 3549.9L1786.7 3549.5L1786.5 3549.9L1786.3 3549.5L1786.1 3549.9L1785.9 3549.5L1785.7 3549.9L1785.5 3549.5L1785.3 3549.9L1785.1 3549.5L1784.9 3549.9L1784.6 3549.5L1784.4 3549.9L1784.2 3549.5L1784 3549.9L1783.8 3549.5L1783.6 3549.9L1783.4 3549.5L1783.2 3549.9L1783 3549.5L1782.8 3549.9L1782.6 3549.5L1782.4 3549.9L1782.2 3549.5L1782 3549.9L1781.7 3549.5L1781.5 3549.9L1781.3 3549.5L1781.1 3549.9L1780.9 3549.5L1780.7 3549.9L1780.5 3549.5L1780.3 3549.9L1780.1 3549.5L1779.9 3549.9L1779.6 3549.5L1779.4 3549.9L1779.2 3549.5L1779 3549.9L1778.8 3549.5L1778.6 3549.9L1778.4 3549.5L1778.2 3549.9L1778 3549.5L1777.7 3549.9L1777.5 3549.5L1777.3 3549.9L1777.1 3549.5L1776.9 3549.9L1776.7 3549.5L1776.5 3549.9L1776.2 3549.5L1776 3549.9L1775.8 3549.5L1775.6 3549.9L1775.4 3549.5L1775.2 3549.9L1774.9 3549.5L1774.7 3549.9L1774.5 3549.5L1774.3 3549.9L1774.1 3549.5L1773.9 3549.9L1773.6 3549.5L1773.4 3549.9L1773.2 3549.5L1773 3549.9L1772.8 3549.5L1772.5 3549.9L1772.3 3549.5L1772.1 3549.9L1771.9 3549.5L1771.7 3549.9L1771.4 3549.5L1771.2 3549.9L1771 3549.5L1770.8 3549.9L1770.6 3549.5L1770.3 3549.9L1770.1 3549.5L1769.9 3549.9L1769.7 3549.5L1769.4 3549.9L1769.2 3549.5L1769 3549.9L1768.8 3549.5L1768.5 3549.9L1768.3 3549.5L1768.1 3549.9L1767.9 3549.5L1767.6 3549.9L1767.4 3549.5L1767.2 3549.9L1767 3549.5L1766.7 3549.9L1766.5 3549.5L1766.3 3549.9L1766.1 3549.5L1765.8 3549.9L1765.6 3549.5L1765.4 3549.9L1765.1 3549.5L1764.9 3549.9L1764.7 3549.5L1764.5 3549.9L1764.2 3549.5L1764 3549.9L1763.8 3549.5L1763.5 3549.9L1763.3 3549.5L1763.1 3549.9L1762.8 3549.5L1762.6 3549.9L1762.4 3549.5L1762.2 3549.9L1761.9 3549.5L1761.7 3549.9L1761.5 3549.5L1761.2 3549.9L1761 3549.5L1760.8 3549.9L1760.5 3549.5L1760.3 3549.9L1760 3549.5L1759.8 3549.9L1759.6 3549.5L1759.3 3549.9L1759.1 3549.5L1758.9 3549.9L1758.6 3549.5L1758.4 3549.9L1758.2 3549.5L1757.9 3549.9L1757.7 3549.5L1757.4 3549.9L1757.2 3549.5L1757 3549.9L1756.7 3549.5L1756.5 3549.9L1756.2 3549.5L1756 3550L1755.8 3549.5L1755.5 3550L1755.3 3549.5L1755 3550L1754.8 3549.5L1754.6 3550L1754.3 3549.5L1754.1 3550L1753.8 3549.5L1753.6 3550L1753.3 3549.5L1753.1 3550L1752.9 3549.5L1752.6 3550L1752.4 3549.5L1752.1 3550L1751.9 3549.5L1751.6 3550L1751.4 3549.5L1751.1 3550L1750.9 3549.5L1750.6 3550L1750.4 3549.5L1750.1 3550L1749.9 3549.5L1749.6 3550L1749.4 3549.5L1749.2 3550L1748.9 3549.5L1748.7 3550L1748.4 3549.5L1748.2 3550L1747.9 3549.5L1747.6 3550L1747.4 3549.5L1747.1 3550L1746.9 3549.5L1746.6 3550L1746.4 3549.5L1746.1 3550L1745.9 3549.5L1745.6 3550L1745.4 3549.5L1745.1 3550L1744.9 3549.5L1744.6 3550L1744.3 3549.5L1744.1 3550L1743.8 3549.5L1743.6 3550L1743.3 3549.5L1743.1 3550L1742.8 3549.5L1742.5 3550L1742.3 3549.5L1742 3550L1741.8 3549.5L1741.5 3550L1741.3 3549.5L1741 3550L1740.7 3549.5L1740.5 3550L1740.2 3549.5L1739.9 3550L1739.7 3549.5L1739.4 3550L1739.2 3549.5L1738.9 3550L1738.6 3549.5L1738.4 3550L1738.1 3549.5L1737.8 3550L1737.6 3549.5L1737.3 3550L1737 3549.5L1736.8 3550L1736.5 3549.5L1736.2 3550L1736 3549.5L1735.7 3550L1735.4 3549.5L1735.2 3550L1734.9 3549.5L1734.6 3550L1734.4 3549.5L1734.1 3550L1733.8 3549.5L1733.5 3550L1733.3 3549.5L1733 3550L1732.7 3549.5L1732.4 3550L1732.2 3549.5L1731.9 3550L1731.6 3549.5L1731.4 3550L1731.1 3549.5L1730.8 3550L1730.5 3549.5L1730.2 3550L1730 3549.5L1729.7 3550L1729.4 3549.5L1729.1 3550L1728.9 3549.5L1728.6 3550L1728.3 3549.5L1728 3550L1727.7 3549.5L1727.5 3550L1727.2 3549.5L1726.9 3550L1726.6 3549.5L1726.3 3550L1726.1 3549.5L1725.8 3550L1725.5 3549.5L1725.2 3550L1724.9 3549.5L1724.6 3550L1724.3 3549.5L1724.1 3550L1723.8 3549.5L1723.5 3550L1723.2 3549.5L1722.9 3550L1722.6 3549.5L1722.3 3550L1722 3549.5L1721.8 3550L1721.5 3549.5L1721.2 3550L1720.9 3549.5L1720.6 3550L1720.3 3549.5L1720 3550L1719.7 3549.5L1719.4 3550.1L1719.1 3549.5L1718.8 3550.1L1718.5 3549.5L1718.2 3550.1L1718 3549.5L1717.7 3550.1L1717.4 3549.5L1717.1 3550.1L1716.8 3549.5L1716.5 3550.1L1716.2 3549.5L1715.9 3550.1L1715.6 3549.5L1715.3 3550.1L1715 3549.5L1714.7 3550.1L1714.4 3549.5L1714.1 3550.1L1713.8 3549.5L1713.5 3550.1L1713.2 3549.5L1712.9 3550.1L1712.6 3549.5L1712.2 3550.1L1711.9 3549.5L1711.6 3550.1L1711.3 3549.5L1711 3550.1L1710.7 3549.5L1710.4 3550.1L1710.1 3549.5L1709.8 3550.1L1709.5 3549.5L1709.2 3550.1L1708.9 3549.5L1708.5 3550.1L1708.2 3549.5L1707.9 3550.1L1707.6 3549.5L1707.3 3550.1L1707 3549.5L1706.7 3550.1L1706.4 3549.5L1706 3550.1L1705.7 3549.5L1705.4 3550.1L1705.1 3549.5L1704.8 3550.1L1704.5 3549.5L1704.1 3550.1L1703.8 3549.5L1703.5 3550.1L1703.2 3549.5L1702.9 3550.1L1702.5 3549.5L1702.2 3550.1L1701.9 3549.5L1701.6 3550.1L1701.2 3549.5L1700.9 3550.1L1700.6 3549.5L1700.3 3550.1L1699.9 3549.5L1699.6 3550.1L1699.3 3549.5L1699 3550.1L1698.6 3549.5L1698.3 3550.1L1698 3549.5L1697.6 3550.1L1697.3 3549.5L1697 3550.1L1696.7 3549.5L1696.3 3550.1L1696 3549.5L1695.7 3550.1L1695.3 3549.5L1695 3550.1L1694.6 3549.5L1694.3 3550.1L1694 3549.5L1693.6 3550.1L1693.3 3549.5L1693 3550.1L1692.6 3549.5L1692.3 3550.1L1691.9 3549.5L1691.6 3550.1L1691.3 3549.5L1690.9 3550.1L1690.6 3549.5L1690.2 3550.1L1689.9 3549.5L1689.5 3550.1L1689.2 3549.5L1688.8 3550.1L1688.5 3549.5L1688.2 3550.2L1687.8 3549.5L1687.5 3550.2L1687.1 3549.5L1686.8 3550.2L1686.4 3549.5L1686.1 3550.2L1685.7 3549.5L1685.3 3550.2L1685 3549.5L1684.6 3550.2L1684.3 3549.5L1683.9 3550.2L1683.6 3549.5L1683.2 3550.2L1682.9 3549.5L1682.5 3550.2L1682.1 3549.5L1681.8 3550.2L1681.4 3549.5L1681.1 3550.2L1680.7 3549.5L1680.3 3550.2L1680 3549.5L1679.6 3550.2L1679.2 3549.5L1678.9 3550.2L1678.5 3549.5L1678.1 3550.2L1677.8 3549.5L1677.4 3550.2L1677 3549.5L1676.7 3550.2L1676.3 3549.5L1675.9 3550.2L1675.6 3549.5L1675.2 3550.2L1674.8 3549.5L1674.4 3550.2L1674.1 3549.5L1673.7 3550.2L1673.3 3549.5L1672.9 3550.2L1672.5 3549.5L1672.2 3550.2L1671.8 3549.5L1671.4 3550.2L1671 3549.5L1670.6 3550.2L1670.3 3549.5L1669.9 3550.2L1669.5 3549.5L1669.1 3550.2L1668.7 3549.5L1668.3 3550.2L1667.9 3549.5L1667.6 3550.2L1667.2 3549.5L1666.8 3550.2L1666.4 3549.5L1666 3550.2L1665.6 3549.5L1665.2 3550.2L1664.8 3549.5L1664.4 3550.2L1664 3549.5L1663.6 3550.2L1663.2 3549.5L1662.8 3550.2L1662.4 3549.5L1662 3550.3L1661.6 3549.5L1661.2 3550.3L1660.8 3549.5L1660.4 3550.3L1660 3549.5L1659.6 3550.3L1659.2 3549.5L1658.8 3550.3L1658.4 3549.5L1658 3550.3L1657.6 3549.5L1657.1 3550.3L1656.7 3549.5L1656.3 3550.3L1655.9 3549.5L1655.5 3550.3L1655.1 3549.5L1654.7 3550.3L1654.2 3549.5L1653.8 3550.3L1653.4 3549.5L1653 3550.3L1652.6 3549.5L1652.1 3550.3L1651.7 3549.5L1651.3 3550.3L1650.9 3549.5L1650.4 3550.3L1650 3549.5L1649.6 3550.3L1649.1 3549.5L1648.7 3550.3L1648.3 3549.5L1647.8 3550.3L1647.4 3549.5L1647 3550.3L1646.5 3549.5L1646.1 3550.3L1645.7 3549.5L1645.2 3550.3L1644.8 3549.5L1644.3 3550.3L1643.9 3549.5L1643.5 3550.3L1643 3549.5L1642.6 3550.3L1642.1 3549.5L1641.7 3550.3L1641.2 3549.5L1640.8 3550.3L1640.3 3549.5L1639.9 3550.3L1639.4 3549.5L1639 3550.4L1638.5 3549.5L1638.1 3550.4L1637.6 3549.5L1637.1 3550.4L1636.7 3549.5L1636.2 3550.4L1635.8 3549.5L1635.3 3550.4L1634.8 3549.5L1634.4 3550.4L1633.9 3549.5L1633.4 3550.4L1633 3549.5L1632.5 3550.4L1632 3549.5L1631.5 3550.4L1631.1 3549.5L1630.6 3550.4L1630.1 3549.5L1629.6 3550.4L1629.2 3549.5L1628.7 3550.4L1628.2 3549.5L1627.7 3550.4L1627.2 3549.5L1626.7 3550.4L1626.2 3549.5L1625.8 3550.4L1625.3 3549.5L1624.8 3550.4L1624.3 3549.5L1623.8 3550.4L1623.3 3549.5L1622.8 3550.4L1622.3 3549.5L1621.8 3550.4L1621.3 3549.5L1620.8 3550.4L1620.3 3549.5L1619.8 3550.4L1619.3 3549.5L1618.8 3550.5L1618.3 3549.5L1617.8 3550.5L1617.3 3549.5L1616.7 3550.5L1616.2 3549.5L1615.7 3550.5L1615.2 3549.5L1614.7 3550.5L1614.2 3549.5L1613.6 3550.5L1613.1 3549.5L1612.6 3550.5L1612.1 3549.5L1611.5 3550.5L1611 3549.5L1610.5 3550.5L1609.9 3549.5L1609.4 3550.5L1608.9 3549.5L1608.3 3550.5L1607.8 3549.5L1607.3 3550.5L1606.7 3549.5L1606.2 3550.5L1605.6 3549.5L1605.1 3550.5L1604.5 3549.5L1604 3550.5L1603.4 3549.5L1602.9 3550.5L1602.3 3549.5L1601.8 3550.5L1601.2 3549.5L1600.6 3550.6L1600.1 3549.5L1599.5 3550.6L1599 3549.5L1598.4 3550.6L1597.8 3549.5L1597.3 3550.6L1596.7 3549.5L1596.1 3550.6L1595.5 3549.5L1595 3550.6L1594.4 3549.5L1593.8 3550.6L1593.2 3549.5L1592.6 3550.6L1592 3549.5L1591.4 3550.6L1590.9 3549.5L1590.3 3550.6L1589.7 3549.5L1589.1 3550.6L1588.5 3549.5L1587.9 3550.6L1587.3 3549.5L1586.7 3550.6L1586.1 3549.5L1585.5 3550.6L1584.8 3549.5L1584.2 3550.6L1583.6 3549.5L1583 3550.7L1582.4 3549.5L1581.8 3550.7L1581.1 3549.5L1580.5 3550.7L1579.9 3549.5L1579.3 3550.7L1578.6 3549.5L1578 3550.7L1577.4 3549.5L1576.7 3550.7L1576.1 3549.5L1575.4 3550.7L1574.8 3549.5L1574.1 3550.7L1573.5 3549.5L1572.8 3550.7L1572.2 3549.5L1571.5 3550.7L1570.9 3549.5L1570.2 3550.7L1569.6 3549.5L1568.9 3550.8L1568.2 3549.5L1567.6 3550.8L1566.9 3549.5L1566.2 3550.8L1565.5 3549.5L1564.8 3550.8L1564.2 3549.5L1563.5 3550.8L1562.8 3549.5L1562.1 3550.8L1561.4 3549.5L1560.7 3550.8L1560 3549.5L1559.3 3550.8L1558.6 3549.5L1557.9 3550.8L1557.2 3549.5L1556.5 3550.8L1555.8 3549.5L1555 3550.8L1554.3 3549.5L1553.6 3550.9L1552.9 3549.5L1552.1 3550.9L1551.4 3549.5L1550.7 3550.9L1549.9 3549.5L1549.2 3550.9L1548.5 3549.5L1547.7 3550.9L1547 3549.5L1546.2 3550.9L1545.5 3549.5L1544.7 3550.9L1543.9 3549.5L1543.2 3550.9L1542.4 3549.5L1541.6 3551L1540.8 3549.5L1540.1 3551L1539.3 3549.5L1538.5 3551L1537.7 3549.5L1536.9 3551L1536.1 3549.5L1535.3 3551L1534.5 3549.5L1533.7 3551L1532.9 3549.5L1532.1 3551L1531.3 3549.5L1530.5 3551L1529.6 3549.5L1528.8 3551.1L1528 3549.5L1527.1 3551.1L1526.3 3549.5L1525.5 3551.1L1524.6 3549.5L1523.8 3551.1L1522.9 3549.5L1522 3551.1L1521.2 3549.5L1520.3 3551.1L1519.4 3549.5L1518.6 3551.1L1517.7 3549.5ZM867.5 3549.5L859.5 3564.5L875.5 3564.5ZM363 3564.5L379 3564.5L371 3549.5ZM437.3 3564.5L453.3 3564.5L445.3 3549.5ZM498.1 3549.5L490.1 3564.5L506.1 3564.5ZM531 3564.5L547 3564.5L539 3549.5ZM564.4 3564.5L580.4 3564.5L572.4 3549.5ZM600.7 3549.5L592.7 3564.5L608.7 3564.5ZM617.2 3564.5L633.2 3564.5L625.2 3549.5ZM638.8 3564.5L654.8 3564.5L646.8 3549.5ZM666.1 3549.5L658.1 3564.5L674.1 3564.5ZM785.2 3564.5L801.2 3564.5L793.2 3549.5ZM920.3 3549.5L912.3 3564.5L928.3 3564.5ZM953.2 3564.5L969.2 3564.5L961.2 3549.5ZM986.6 3564.5L1002.6 3564.5L994.6 3549.5ZM1022.9 3549.5L1014.9 3564.5L1030.9 3564.5ZM1039.4 3564.5L1055.4 3564.5L1047.4 3549.5ZM1061 3564.5L1077 3564.5L1069 3549.5ZM1088.3 3549.5L1080.3 3564.5L1096.3 3564.5ZM243.9 3549.5L235.9 3564.5L251.9 3564.5Z" fill="#FFC000"/>
<path d="M1582.7 3334L1582.7 3334.3L1581.5 3334.3L1581.5 3334.6L1580.3 3334.6L1580.3 3334.9L1579.1 3334.9L1579.1 3335.3L1577.9 3335.3L1577.9 3335.6L1576.6 3335.6L1576.6 3335.9L1575.4 3335.9L1575.4 3336.3L1574.2 3336.3L1574.2 3336.6L1572.9 3336.6L1572.9 3337L1571.7 3337L1571.7 3337.3L1570.4 3337.3L1570.4 3337.6L1569.2 3337.6L1569.2 3338L1567.9 3338L1567.9 3338.3L1566.6 3338.3L1566.6 3338.7L1565.3 3338.7L1565.3 3339.1L1564 3339.1L1564 3339.4L1562.7 3339.4L1562.7 3339.8L1561.4 3339.8L1561.4 3340.1L1560 3340.1L1560 3340.5L1558.7 3340.5L1558.7 3340.9L1557.3 3340.9L1557.3 3341.3L1556 3341.3L1556 3341.6L1554.6 3341.6L1554.6 3342L1553.2 3342L1553.2 3342.4L1551.8 3342.4L1551.8 3342.8L1550.4 3342.8L1550.4 3343.2L1549 3343.2L1549 3343.6L1547.6 3343.6L1547.6 3344L1546.1 3344L1546.1 3344.4L1544.7 3344.4L1544.7 3344.8L1543.2 3344.8L1543.2 3345.2L1541.7 3345.2L1541.7 3345.6L1540.3 3345.6L1540.3 3346L1538.8 3346L1538.8 3346.4L1537.3 3346.4L1537.3 3346.8L1535.7 3346.8L1535.7 3347.2L1534.2 3347.2L1534.2 3347.7L1532.6 3347.7L1532.6 3348.1L1531.1 3348.1L1531.1 3348.5L1529.5 3348.5L1529.5 3349L1527.9 3349L1527.9 3349.4L1526.3 3349.4L1526.3 3349.8L1524.7 3349.8L1524.7 3350.3L1523.1 3350.3L1523.1 3350.7L1521.4 3350.7L1521.4 3351.2L1519.8 3351.2L1519.8 3351.7L1518.1 3351.7L1518.1 3352.1L1516.4 3352.1L1516.4 3352.6L1514.7 3352.6L1514.7 3353.1L1513 3353.1L1513 3353.5L1511.2 3353.5L1511.2 3354L1509.5 3354L1509.5 3354.5L1507.7 3354.5L1507.7 3355L1505.9 3355L1505.9 3355.5L1504.1 3355.5L1504.1 3356L1502.3 3356L1502.3 3356.5L1500.5 3356.5L1500.5 3357L1498.6 3357L1498.6 3357.5L1496.7 3357.5L1496.7 3358L1494.8 3358L1494.8 3358.6L1492.9 3358.6L1492.9 3359.1L1491 3359.1L1491 3359.6L1489 3359.6L1489 3360.2L1487 3360.2L1487 3360.7L1485 3360.7L1485 3361.3L1483 3361.3L1483 3361.8L1480.9 3361.8L1480.9 3362.4L1478.9 3362.4L1478.9 3362.9L1476.8 3362.9L1476.8 3363.5L1474.6 3363.5L1474.6 3364.1L1472.5 3364.1L1472.5 3364.7L1470.3 3364.7L1470.3 3365.3L1468.1 3365.3L1468.1 3365.9L1465.9 3365.9L1465.9 3366.5L1463.7 3366.5L1463.7 3367.1L1461.4 3367.1L1461.4 3367.7L1459.1 3367.7L1459.1 3368.3L1456.7 3368.3L1456.7 3368.9L1454.4 3368.9L1454.4 3369.6L1452 3369.6L1452 3370.2L1449.6 3370.2L1449.6 3370.8L1447.1 3370.8L1447.1 3371.5L1444.6 3371.5L1444.6 3372.2L1442.1 3372.2L1442.1 3372.8L1439.5 3372.8L1439.5 3373.5L1436.9 3373.5L1436.9 3374.2L1434.3 3374.2L1434.3 3374.9L1431.6 3374.9L1431.6 3375.6L1428.9 3375.6L1428.9 3376.3L1426.1 3376.3L1426.1 3377L1423.3 3377L1423.3 3377.8L1420.5 3377.8L1420.5 3378.5L1417.6 3378.5L1417.6 3379.2L1414.6 3379.2L1414.6 3380L1411.7 3380L1411.7 3380.8L1408.6 3380.8L1408.6 3381.6L1405.6 3381.6L1405.6 3382.4L1402.4 3382.4L1402.4 3383.2L1399.2 3383.2L1399.2 3384L1396 3384L1396 3384.8L1392.7 3384.8L1392.7 3385.7L1389.3 3385.7L1389.3 3386.6L1385.9 3386.6L1385.9 3387.5L1382.4 3387.5L1382.4 3388.4L1378.8 3388.4L1378.8 3389.3L1375.2 3389.3L1375.2 3390.2L1371.5 3390.2L1371.5 3391.2L1367.7 3391.2L1367.7 3392.1L1363.9 3392.1L1363.9 3393.1L1359.9 3393.1L1359.9 3394.2L1355.9 3394.2L1355.9 3395.2L1351.8 3395.2L1351.8 3396.3L1347.6 3396.3L1347.6 3397.4L1343.2 3397.4L1343.2 3398.5L1338.8 3398.5L1338.8 3399.7L1334.3 3399.7L1334.3 3400.9L1329.6 3400.9L1329.6 3402.1L1324.9 3402.1L1324.9 3403.3L1320 3403.3L1320 3404.6L1315 3404.6L1315 3406L1309.8 3406L1309.8 3407.4L1304.5 3407.4L1304.5 3408.8L1299 3408.8L1299 3410.2L1293.4 3410.2L1293.4 3411.7L1287.6 3411.7L1287.6 3413.3L1281.5 3413.3L1281.5 3414.9L1275.3 3414.9L1275.3 3416.5L1268.9 3416.5L1268.9 3418.2L1262.2 3418.2L1262.2 3419.9L1255.3 3419.9L1255.3 3421.7L1248.1 3421.7L1248.1 3423.6L1240.6 3423.6L1240.6 3425.5L1232.8 3425.5L1232.8 3427.5L1224.7 3427.5L1224.7 3429.6L1216.1 3429.6L1216.1 3431.8L1207.2 3431.8L1207.2 3434L1197.8 3434L1197.8 3436.4L1187.9 3436.4L1187.9 3438.8L1177.4 3438.8L1177.4 3441.4L1166.3 3441.4L1166.3 3444L1154.4 3444L1154.4 3446.7L1141.8 3446.7L1141.8 3449.3L1128.2 3449.3L1128.2 3452.1L1113.5 3452.1L1113.5 3455.6L1097.6 3455.6L1097.6 3472L1114 3472L1114 3468.5L1129.9 3468.5L1129.9 3465.7L1144.6 3465.7L1144.6 3463.1L1158.2 3463.1L1158.2 3460.4L1170.8 3460.4L1170.8 3457.8L1182.7 3457.8L1182.7 3455.2L1193.8 3455.2L1193.8 3452.8L1204.3 3452.8L1204.3 3450.4L1214.2 3450.4L1214.2 3448.2L1223.6 3448.2L1223.6 3446L1232.5 3446L1232.5 3443.9L1241.1 3443.9L1241.1 3441.9L1249.2 3441.9L1249.2 3440L1257 3440L1257 3438.1L1264.5 3438.1L1264.5 3436.3L1271.7 3436.3L1271.7 3434.6L1278.6 3434.6L1278.6 3432.9L1285.3 3432.9L1285.3 3431.3L1291.7 3431.3L1291.7 3429.7L1297.9 3429.7L1297.9 3428.1L1304 3428.1L1304 3426.6L1309.8 3426.6L1309.8 3425.2L1315.4 3425.2L1315.4 3423.8L1320.9 3423.8L1320.9 3422.4L1326.2 3422.4L1326.2 3421L1331.4 3421L1331.4 3419.7L1336.4 3419.7L1336.4 3418.5L1341.3 3418.5L1341.3 3417.3L1346 3417.3L1346 3416.1L1350.7 3416.1L1350.7 3414.9L1355.2 3414.9L1355.2 3413.8L1359.6 3413.8L1359.6 3412.7L1364 3412.7L1364 3411.6L1368.2 3411.6L1368.2 3410.6L1372.3 3410.6L1372.3 3409.5L1376.3 3409.5L1376.3 3408.5L1380.3 3408.5L1380.3 3407.6L1384.1 3407.6L1384.1 3406.6L1387.9 3406.6L1387.9 3405.7L1391.6 3405.7L1391.6 3404.8L1395.2 3404.8L1395.2 3403.9L1398.8 3403.9L1398.8 3403L1402.3 3403L1402.3 3402.1L1405.7 3402.1L1405.7 3401.2L1409.1 3401.2L1409.1 3400.4L1412.4 3400.4L1412.4 3399.6L1415.6 3399.6L1415.6 3398.8L1418.8 3398.8L1418.8 3398L1422 3398L1422 3397.2L1425 3397.2L1425 3396.4L1428.1 3396.4L1428.1 3395.6L1431 3395.6L1431 3394.9L1434 3394.9L1434 3394.2L1436.9 3394.2L1436.9 3393.4L1439.7 3393.4L1439.7 3392.7L1442.5 3392.7L1442.5 3392L1445.3 3392L1445.3 3391.3L1448 3391.3L1448 3390.6L1450.7 3390.6L1450.7 3389.9L1453.3 3389.9L1453.3 3389.2L1455.9 3389.2L1455.9 3388.6L1458.5 3388.6L1458.5 3387.9L1461 3387.9L1461 3387.2L1463.5 3387.2L1463.5 3386.6L1466 3386.6L1466 3386L1468.4 3386L1468.4 3385.3L1470.8 3385.3L1470.8 3384.7L1473.1 3384.7L1473.1 3384.1L1475.5 3384.1L1475.5 3383.5L1477.8 3383.5L1477.8 3382.9L1480.1 3382.9L1480.1 3382.3L1482.3 3382.3L1482.3 3381.7L1484.5 3381.7L1484.5 3381.1L1486.7 3381.1L1486.7 3380.5L1488.9 3380.5L1488.9 3379.9L1491 3379.9L1491 3379.3L1493.2 3379.3L1493.2 3378.8L1495.3 3378.8L1495.3 3378.2L1497.3 3378.2L1497.3 3377.7L1499.4 3377.7L1499.4 3377.1L1501.4 3377.1L1501.4 3376.6L1503.4 3376.6L1503.4 3376L1505.4 3376L1505.4 3375.5L1507.4 3375.5L1507.4 3375L1509.3 3375L1509.3 3374.4L1511.2 3374.4L1511.2 3373.9L1513.1 3373.9L1513.1 3373.4L1515 3373.4L1515 3372.9L1516.9 3372.9L1516.9 3372.4L1518.7 3372.4L1518.7 3371.9L1520.5 3371.9L1520.5 3371.4L1524.1 3370.9L1524.1 3370.4L1525.9 3370.4L1525.9 3369.9L1527.6 3369.9L1527.6 3369.5L1529.4 3369.5L1529.4 3369L1531.1 3369L1531.1 3368.5L1532.8 3368.5L1532.8 3368.1L1534.5 3368.1L1534.5 3367.6L1536.2 3367.6L1536.2 3367.1L1537.8 3367.1L1537.8 3366.7L1539.5 3366.7L1539.5 3366.2L1541.1 3366.2L1541.1 3365.8L1542.7 3365.8L1542.7 3365.4L1544.3 3365.4L1544.3 3364.9L1545.9 3364.9L1545.9 3364.5L1547.5 3364.5L1547.5 3364.1L1549 3364.1L1549 3363.6L1550.6 3363.6L1550.6 3363.2L1552.1 3363.2L1552.1 3362.8L1553.7 3362.8L1553.7 3362.4L1555.2 3362.4L1555.2 3362L1556.7 3362L1556.7 3361.6L1558.1 3361.6L1558.1 3361.2L1559.6 3361.2L1559.6 3360.8L1561.1 3360.8L1561.1 3360.4L1562.5 3360.4L1562.5 3360L1564 3360L1564 3359.6L1565.4 3359.6L1565.4 3359.2L1566.8 3359.2L1566.8 3358.8L1568.2 3358.8L1568.2 3358.4L1569.6 3358.4L1569.6 3358L1571 3358L1571 3357.7L1572.4 3357.7L1572.4 3357.3L1573.7 3357.3L1573.7 3356.9L1575.1 3356.9L1575.1 3356.5L1576.4 3356.5L1576.4 3356.2L1577.8 3356.2L1577.8 3355.8L1579.1 3355.8L1579.1 3355.5L1580.4 3355.5L1580.4 3355.1L1581.7 3355.1L1581.7 3354.7L1583 3354.7L1583 3354.4L1584.3 3354.4L1584.3 3354L1585.6 3354L1585.6 3353.7L1586.8 3353.7L1586.8 3353.4L1588.1 3353.4L1588.1 3353L1589.3 3353L1589.3 3352.7L1590.6 3352.7L1590.6 3352.3L1591.8 3352.3L1591.8 3352L1593 3352L1593 3351.7L1594.3 3351.7L1594.3 3351.3L1595.5 3351.3L1595.5 3351L1596.7 3351L1596.7 3350.7L1597.9 3350.7L1597.9 3350.4L1599.1 3350.4L1599.1 3350L1600.2 3350L1600.2 3349.7L1601.4 3349.7L1601.4 3349.4L1602.6 3349.4L1602.6 3349.1L1603.7 3349.1L1603.7 3348.8L1604.9 3348.8L1604.9 3348.5L1606 3348.5L1606 3348.1L1607.2 3348.1L1607.2 3347.8L1608.3 3347.8L1608.3 3347.5L1609.4 3347.5L1609.4 3347.2L1610.5 3347.2L1610.5 3346.9L1611.6 3346.9L1611.6 3346.6L1618.1 3345.1L1618.1 3344.8L1619.2 3344.8L1619.2 3344.6L1620.3 3344.6L1620.3 3344.3L1621.3 3344.3L1621.3 3344L1622.4 3344L1622.4 3343.7L1623.4 3343.7L1623.4 3343.4L1624.4 3343.4L1624.4 3343.1L1625.5 3343.1L1625.5 3342.8L1626.5 3342.8L1626.5 3342.6L1627.5 3342.6L1627.5 3342.3L1639.3 3339.3L1639.3 3339.1L1645.8 3337.5L1691.8 3324.5L1757.6 3304.7L1915.8 3255.9L2032.6 3219.4L2142.3 3184.6L2142.3 3168.2L2125.9 3168.2L1950.1 3223.8L1729.9 3292L1655 3314.1L1622.9 3322.9L1622.9 3323.2L1621.9 3323.2L1621.9 3323.5L1621 3323.5L1621 3323.7L1620 3323.7L1620 3324L1619 3324L1619 3324.3L1618 3324.3L1618 3324.5L1617.1 3324.5L1617.1 3324.8L1616.1 3324.8L1616.1 3325.1L1615.1 3325.1L1615.1 3325.3L1614.1 3325.3L1614.1 3325.6L1613.1 3325.6L1613.1 3325.9L1612.1 3325.9L1612.1 3326.2L1611.1 3326.2L1611.1 3326.4L1610.1 3326.4L1610.1 3326.7L1609.1 3326.7L1609.1 3327L1608 3327L1608 3327.3L1607 3327.3L1607 3327.6L1606 3327.6L1606 3327.9L1604.9 3327.9L1604.9 3328.2L1603.9 3328.2L1603.9 3328.4L1602.8 3328.4L1602.8 3328.7L1601.7 3328.7L1601.7 3329L1600.7 3329L1600.7 3329.3L1599.6 3329.3L1599.6 3329.6L1598.5 3329.6L1598.5 3329.9L1597.4 3329.9L1597.4 3330.2L1596.3 3330.2L1596.3 3330.5L1595.2 3330.5L1595.2 3330.8L1594.1 3330.8L1594.1 3331.1L1593 3331.1L1593 3331.4L1591.9 3331.4L1591.9 3331.7L1590.8 3331.7L1590.8 3332.1L1589.6 3332.1L1589.6 3332.4L1588.5 3332.4L1588.5 3332.7L1587.3 3332.7L1587.3 3333L1586.2 3333L1586.2 3333.3L1585 3333.3L1585 3333.6L1583.8 3333.6L1583.8 3334ZM1096.5 3477L1096.5 3460.6L1080.1 3460.6L1080.1 3477ZM1077.2 3465.6L1060.8 3465.6L1060.8 3482L1077.2 3482ZM1055.6 3470.1L1039.2 3470.1L1039.2 3486.5L1055.6 3486.5ZM1031.1 3491.5L1031.1 3475.1L1014.7 3475.1L1014.7 3491.5ZM1002.8 3481.3L986.4 3481.3L986.4 3497.7L1002.8 3497.7ZM969.4 3488.1L953 3488.1L953 3504.5L969.4 3504.5ZM928.5 3512.7L928.5 3496.3L912.1 3496.3L912.1 3512.7ZM875.7 3506.3L859.3 3506.3L859.3 3522.7L875.7 3522.7ZM801.4 3518.8L785 3518.8L785 3535.2L801.4 3535.2ZM674.3 3552.6L674.3 3536.2L657.9 3536.2L657.9 3552.6ZM655 3538.1L638.6 3538.1L638.6 3554.5L655 3554.5ZM633.4 3539.9L617 3539.9L617 3556.3L633.4 3556.3ZM608.9 3559.3L608.9 3542.9L592.5 3542.9L592.5 3559.3ZM580.6 3544.4L564.2 3544.4L564.2 3560.8L580.6 3560.8ZM547.2 3546.7L530.8 3546.7L530.8 3563.1L547.2 3563.1ZM506.3 3564.8L506.3 3548.4L489.9 3548.4L489.9 3564.8ZM252.1 3548.6L235.7 3548.6L235.7 3565L252.1 3565ZM453.5 3548.6L437.1 3548.6L437.1 3565L453.5 3565ZM379.2 3565L379.2 3548.6L362.8 3548.6L362.8 3565Z" fill="#00D4FF"/>
<path d="M706.8 3628.8l14 12.4m0-12.4l-14 12.4M713.8 3628.8v12.4M745.6 3617.6l14 12.4m0-12.4l-14 12.4M752.6 3617.6v12.4M815.6 3595.8l14 12.4m0-12.4l-14 12.4M822.6 3595.8v12.4M844 3585.8l14 12.4m0-12.4l-14 12.4M851 3585.8v12.4M885 3569.3l14 12.4m0-12.4l-14 12.4M892 3569.3v12.4M920.2 3561.3l14 12.4m0-12.4l-14 12.4M927.2 3561.3v12.4M962.4 3546.8l14 12.4m0-12.4l-14 12.4M969.4 3546.8v12.4M1005.2 3538.8l14 12.4m0-12.4l-14 12.4M1012.2 3538.8v12.4M1052.2 3518.8l14 12.4m0-12.4l-14 12.4M1059.2 3518.8v12.4M1100.7 3503.8l14 12.4m0-12.4l-14 12.4M1107.7 3503.8v12.4M1133.4 3493.3l14 12.4m0-12.4l-14 12.4M1140.4 3493.3v12.4M1175.6 3478.2l14 12.4m0-12.4l-14 12.4M1182.6 3478.2v12.4M1217.7 3465.6l14 12.4m0-12.4l-14 12.4M1224.7 3465.6v12.4M1260 3452.9l14 12.4m0-12.4l-14 12.4M1267 3452.9v12.4M1301.9 3439.5l14 12.4m0-12.4l-14 12.4M1308.9 3439.5v12.4M1346.2 3418.9l14 12.4m0-12.4l-14 12.4M1353.2 3418.9v12.4M1369 3410.5l14 12.4m0-12.4l-14 12.4M1376 3410.5v12.4M1390.5 3403l14 12.4m0-12.4l-14 12.4M1397.5 3403v12.4M1414 3395.5l14 12.4m0-12.4l-14 12.4M1421 3395.5v12.4M1437.3 3386.1l14 12.4m0-12.4l-14 12.4M1444.3 3386.1v12.4M1460.2 3372.1l14 12.4m0-12.4l-14 12.4M1467.2 3372.1v12.4M1483.5 3364.9l14 12.4m0-12.4l-14 12.4M1490.5 3364.9v12.4M1506.2 3357.4l14 12.4m0-12.4l-14 12.4M1513.2 3357.4v12.4M1528.9 3348.6l14 12.4m0-12.4l-14 12.4M1535.9 3348.6v12.4M1552.6 3338.3l14 12.4m0-12.4l-14 12.4M1559.6 3338.3v12.4M1575.3 3328.5l14 12.4m0-12.4l-14 12.4M1582.3 3328.5v12.4M1599 3318.6l14 12.4m0-12.4l-14 12.4M1606 3318.6v12.4M1619.8 3308.6l14 12.4m0-12.4l-14 12.4M1626.8 3308.6v12.4M1644.5 3297.9l14 12.4m0-12.4l-14 12.4M1651.5 3297.9v12.4" stroke="#8A1E8C" stroke-width="2.1" fill="none"/>
<circle cx="713.8" cy="3731.3" r="8.5" fill="#59CF6E"/>
<circle cx="752.6" cy="3720" r="8.5" fill="#59CF6E"/>
<circle cx="822.6" cy="3631.3" r="8.5" fill="#59CF6E"/>
<circle cx="851" cy="3618" r="8.5" fill="#59CF6E"/>
<circle cx="892" cy="3588" r="8.5" fill="#59CF6E"/>
<circle cx="927.2" cy="3588" r="8.5" fill="#59CF6E"/>
<circle cx="969.4" cy="3556.3" r="8.5" fill="#59CF6E"/>
<circle cx="1012.2" cy="3537" r="8.5" fill="#59CF6E"/>
<circle cx="1059.2" cy="3505.5" r="8.5" fill="#59CF6E"/>
<circle cx="1107.7" cy="3471.3" r="8.5" fill="#59CF6E"/>
<circle cx="1140.4" cy="3474.3" r="8.5" fill="#59CF6E"/>
<circle cx="1182.6" cy="3457.2" r="8.5" fill="#59CF6E"/>
<circle cx="1224.7" cy="3439.2" r="8.5" fill="#59CF6E"/>
<circle cx="1267" cy="3432" r="8.5" fill="#59CF6E"/>
<circle cx="1308.9" cy="3415.5" r="8.5" fill="#59CF6E"/>
<circle cx="1353.2" cy="3392.9" r="8.5" fill="#59CF6E"/>
<circle cx="1376" cy="3388.5" r="8.5" fill="#59CF6E"/>
<circle cx="1397.5" cy="3375.4" r="8.5" fill="#59CF6E"/>
<circle cx="1421" cy="3362.8" r="8.5" fill="#59CF6E"/>
<circle cx="1444.3" cy="3355" r="8.5" fill="#59CF6E"/>
<circle cx="1467.2" cy="3341.1" r="8.5" fill="#59CF6E"/>
<circle cx="1490.5" cy="3332.3" r="8.5" fill="#59CF6E"/>
<circle cx="1513.2" cy="3320.1" r="8.5" fill="#59CF6E"/>
<circle cx="1535.9" cy="3309.8" r="8.5" fill="#59CF6E"/>
<circle cx="1559.6" cy="3297.2" r="8.5" fill="#59CF6E"/>
<circle cx="1582.3" cy="3285.9" r="8.5" fill="#59CF6E"/>
<circle cx="1606" cy="3272.2" r="8.5" fill="#59CF6E"/>
<circle cx="1626.8" cy="3266.6" r="8.5" fill="#59CF6E"/>
<circle cx="1651.5" cy="3250.7" r="8.5" fill="#59CF6E"/>
<path d="M707 3625h13.6M713.8 3617.7v14.6M745.8 3613h13.6M752.6 3605.7v14.6M815.8 3590h13.6M822.6 3582.7v14.6M844.2 3582h13.6M851 3574.7v14.6M885.2 3569.5h13.6M892 3562.2v14.6M920.4 3558.3h13.6M927.2 3551v14.6M962.6 3545h13.6M969.4 3537.7v14.6M1005.4 3531.3h13.6M1012.2 3524v14.6M1052.4 3515h13.6M1059.2 3507.7v14.6M1100.9 3501.3h13.6M1107.7 3494v14.6M1133.6 3492h13.6M1140.4 3484.7v14.6M1175.8 3477.4h13.6M1182.6 3470.1v14.6M1217.9 3464.5h13.6M1224.7 3457.2v14.6M1260.2 3451.4h13.6M1267 3444.1v14.6M1302.1 3437.3h13.6M1308.9 3430v14.6M1346.4 3421h13.6M1353.2 3413.7v14.6M1369.2 3413h13.6M1376 3405.7v14.6M1390.7 3405h13.6M1397.5 3397.7v14.6M1414.2 3398h13.6M1421 3390.7v14.6M1437.5 3390h13.6M1444.3 3382.7v14.6M1460.4 3383h13.6M1467.2 3375.7v14.6M1483.7 3377.3h13.6M1490.5 3370v14.6M1506.4 3373.6h13.6M1513.2 3366.3v14.6M1529.1 3365.1h13.6M1535.9 3357.8v14.6M1552.8 3357.6h13.6M1559.6 3350.3v14.6M1575.5 3351.1h13.6M1582.3 3343.8v14.6M1599.2 3343.6h13.6M1606 3336.3v14.6M1620 3337.9h13.6M1626.8 3330.6v14.6M1644.7 3329.5h13.6M1651.5 3322.2v14.6" stroke="#8A9CB2" stroke-width="2.4" fill="none"/>
<path d="M205.6 4189.2L213.4 4197L205.6 4204.8L197.8 4197Z" fill="#C00000"/>
<rect x="533.3" y="4188.4" width="16.8" height="17.2" fill="#CD5F27"/>
<path d="M872 4205.3L889 4205.3L880.5 4188.7Z" fill="#FFC000"/>
<rect x="1190.5" y="4189.5" width="15" height="15" fill="#00D4FF"/>
<path d="M1448.5 4190.5l14 13m0-13l-14 13M1455.5 4190.5v13" stroke="#8A1E8C" stroke-width="2.1" fill="none"/>
<circle cx="1647.4" cy="4197" r="8" fill="#59CF6E"/>
<path d="M1820.7 4197h13.6M1827.5 4189.7v14.6" stroke="#8A9CB2" stroke-width="2.4" fill="none"/>
</svg></body></html>
